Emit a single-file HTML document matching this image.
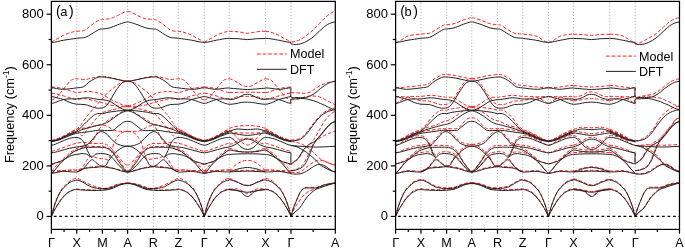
<!DOCTYPE html><html><head><meta charset="utf-8"><style>html,body{margin:0;padding:0;background:#fff;}svg{display:block;}text{font-family:"Liberation Sans",sans-serif;}svg{will-change:transform;}</style></head><body>
<svg width="685" height="248" viewBox="0 0 685 248">
<rect width="685" height="248" fill="#fff"/>
<line x1="76.75" y1="2.40" x2="76.75" y2="228.90" stroke="#b4b4b4" stroke-width="1" stroke-dasharray="1.2 1.9"/>
<line x1="102.40" y1="2.40" x2="102.40" y2="228.90" stroke="#b4b4b4" stroke-width="1" stroke-dasharray="1.2 1.9"/>
<line x1="127.60" y1="2.40" x2="127.60" y2="228.90" stroke="#b4b4b4" stroke-width="1" stroke-dasharray="1.2 1.9"/>
<line x1="153.30" y1="2.40" x2="153.30" y2="228.90" stroke="#b4b4b4" stroke-width="1" stroke-dasharray="1.2 1.9"/>
<line x1="178.40" y1="2.40" x2="178.40" y2="228.90" stroke="#b4b4b4" stroke-width="1" stroke-dasharray="1.2 1.9"/>
<line x1="204.30" y1="2.40" x2="204.30" y2="228.90" stroke="#b4b4b4" stroke-width="1" stroke-dasharray="1.2 1.9"/>
<line x1="229.30" y1="2.40" x2="229.30" y2="228.90" stroke="#b4b4b4" stroke-width="1" stroke-dasharray="1.2 1.9"/>
<line x1="265.50" y1="2.40" x2="265.50" y2="228.90" stroke="#b4b4b4" stroke-width="1" stroke-dasharray="1.2 1.9"/>
<line x1="291.00" y1="2.40" x2="291.00" y2="228.90" stroke="#b4b4b4" stroke-width="1" stroke-dasharray="1.2 1.9"/>
<g fill="none" stroke-linejoin="round">
<path d="M51.40 42.00 C52.60 42.00 53.70 40.68 55.00 40.00 C56.30 39.32 57.78 38.68 59.20 37.90 C60.62 37.12 61.97 36.07 63.50 35.30 C65.03 34.53 66.90 33.85 68.40 33.30 C69.90 32.75 71.11 32.33 72.50 32.00 C73.89 31.67 74.88 31.52 76.75 31.30 C78.62 31.08 82.03 31.12 83.70 30.70 C85.38 30.28 85.78 29.52 86.80 28.80 C87.82 28.08 88.52 27.37 89.80 26.40 C91.08 25.43 92.97 24.03 94.50 23.00 C96.03 21.97 97.68 20.78 99.00 20.20 C100.32 19.62 100.60 19.75 102.40 19.50 C104.20 19.25 107.95 19.03 109.80 18.70 C111.65 18.37 112.23 18.00 113.50 17.50 C114.77 17.00 116.10 16.35 117.40 15.70 C118.70 15.05 120.02 14.25 121.30 13.60 C122.58 12.95 124.05 12.17 125.10 11.80 C126.15 11.43 126.77 11.40 127.60 11.40" stroke="#ff2020" stroke-width="1.0" stroke-dasharray="3.5 2.0"/>
<path d="M127.60 11.40 C128.45 11.40 129.08 11.43 130.15 11.80 C131.22 12.17 132.72 12.95 134.03 13.60 C135.33 14.25 136.68 15.05 138.00 15.70 C139.33 16.35 140.69 17.00 141.98 17.50 C143.27 18.00 143.87 18.37 145.75 18.70 C147.64 19.03 151.49 19.25 153.30 19.50 C155.11 19.75 155.34 19.62 156.63 20.20 C157.92 20.78 159.53 21.97 161.03 23.00 C162.53 24.03 164.37 25.43 165.63 26.40 C166.89 27.37 167.57 28.08 168.57 28.80 C169.56 29.52 169.96 30.28 171.60 30.70 C173.24 31.12 176.54 31.08 178.40 31.30 C180.26 31.52 181.32 31.67 182.74 32.00 C184.16 32.33 185.40 32.75 186.93 33.30 C188.46 33.85 190.37 34.53 191.94 35.30 C193.50 36.07 194.88 37.12 196.33 37.90 C197.78 38.68 199.29 39.32 200.62 40.00 C201.95 40.68 203.07 42.00 204.30 42.00" stroke="#ff2020" stroke-width="1.0" stroke-dasharray="3.5 2.0"/>
<path d="M204.30 42.00 C205.48 42.00 206.57 40.68 207.85 40.00 C209.13 39.32 210.60 38.68 211.99 37.90 C213.39 37.12 214.72 36.07 216.23 35.30 C217.75 34.53 219.59 33.85 221.07 33.30 C222.54 32.75 223.74 32.33 225.11 32.00 C226.48 31.67 227.90 31.30 229.30 31.30" stroke="#ff2020" stroke-width="1.0" stroke-dasharray="3.5 2.0"/>
<path d="M265.50 31.30 C266.93 31.30 268.38 31.67 269.78 32.00 C271.18 32.33 272.39 32.75 273.90 33.30 C275.41 33.85 277.29 34.53 278.83 35.30 C280.37 36.07 281.73 37.12 283.15 37.90 C284.58 38.68 286.07 39.32 287.38 40.00 C288.69 40.68 289.79 42.00 291.00 42.00" stroke="#ff2020" stroke-width="1.0" stroke-dasharray="3.5 2.0"/>
<path d="M51.40 100.00 C52.27 100.00 53.10 99.45 54.00 99.00 C54.90 98.55 55.80 98.22 56.80 97.30 C57.80 96.38 58.62 95.22 60.00 93.50 C61.38 91.78 63.35 89.12 65.10 87.00 C66.85 84.88 69.10 82.08 70.50 80.80 C71.90 79.52 72.46 79.63 73.50 79.30 C74.54 78.97 74.73 78.77 76.75 78.80 C78.77 78.83 83.21 79.62 85.60 79.50 C87.99 79.38 89.25 78.52 91.10 78.10 C92.95 77.68 94.82 77.32 96.70 77.00 C98.58 76.68 99.98 76.07 102.40 76.20 C104.82 76.33 108.28 77.17 111.20 77.80 C114.12 78.43 117.17 79.40 119.90 80.00 C122.63 80.60 125.03 81.40 127.60 81.40" stroke="#ff2020" stroke-width="1.0" stroke-dasharray="3.5 2.0"/>
<path d="M127.60 81.40 C130.22 81.40 132.67 80.60 135.45 80.00 C138.24 79.40 141.35 78.43 144.33 77.80 C147.30 77.17 150.87 76.33 153.30 76.20 C155.73 76.07 157.03 76.68 158.88 77.00 C160.72 77.32 162.55 77.68 164.36 78.10 C166.17 78.52 167.40 79.38 169.74 79.50 C172.08 79.62 176.40 78.83 178.40 78.80 C180.40 78.77 180.66 78.97 181.72 79.30 C182.78 79.63 183.36 79.52 184.79 80.80 C186.22 82.08 188.51 84.88 190.30 87.00 C192.09 89.12 194.10 91.78 195.51 93.50 C196.93 95.22 197.76 96.38 198.78 97.30 C199.80 98.22 200.72 98.55 201.64 99.00 C202.56 99.45 203.41 100.00 204.30 100.00" stroke="#ff2020" stroke-width="1.0" stroke-dasharray="3.5 2.0"/>
<path d="M204.30 100.00 C205.15 100.00 205.98 99.45 206.86 99.00 C207.75 98.55 208.64 98.22 209.63 97.30 C210.61 96.38 211.42 95.22 212.78 93.50 C214.15 91.78 216.09 89.12 217.81 87.00 C219.54 84.88 221.76 82.08 223.14 80.80 C224.52 79.52 225.07 79.63 226.09 79.30 C227.12 78.97 228.23 78.80 229.30 78.80" stroke="#ff2020" stroke-width="1.0" stroke-dasharray="3.5 2.0"/>
<path d="M265.50 78.80 C266.59 78.80 267.72 78.97 268.77 79.30 C269.82 79.63 270.38 79.52 271.79 80.80 C273.20 82.08 275.46 84.88 277.22 87.00 C278.98 89.12 280.96 91.78 282.35 93.50 C283.74 95.22 284.56 96.38 285.57 97.30 C286.57 98.22 287.48 98.55 288.38 99.00 C289.29 99.45 290.13 100.00 291.00 100.00" stroke="#ff2020" stroke-width="1.0" stroke-dasharray="3.5 2.0"/>
<path d="M51.40 87.00 C53.67 87.00 56.15 87.43 58.20 87.70 C60.25 87.97 61.65 88.05 63.70 88.60 C65.75 89.15 68.33 90.35 70.50 91.00 C72.67 91.65 74.83 92.33 76.75 92.50 C78.67 92.67 80.06 92.17 82.00 92.00 C83.94 91.83 86.20 91.45 88.40 91.50 C90.60 91.55 92.87 91.80 95.20 92.30 C97.53 92.80 99.97 93.40 102.40 94.50 C104.83 95.60 107.37 97.57 109.80 98.90 C112.23 100.23 114.97 101.55 117.00 102.50 C119.03 103.45 120.23 104.08 122.00 104.60 C123.77 105.12 125.73 105.60 127.60 105.60" stroke="#ff2020" stroke-width="1.0" stroke-dasharray="3.5 2.0"/>
<path d="M127.60 105.60 C129.50 105.60 131.51 105.12 133.31 104.60 C135.11 104.08 136.34 103.45 138.41 102.50 C140.48 101.55 143.27 100.23 145.75 98.90 C148.23 97.57 150.87 95.60 153.30 94.50 C155.73 93.40 158.06 92.80 160.35 92.30 C162.63 91.80 164.85 91.55 167.00 91.50 C169.15 91.45 171.36 91.83 173.26 92.00 C175.16 92.17 176.48 92.67 178.40 92.50 C180.32 92.33 182.56 91.65 184.79 91.00 C187.01 90.35 189.64 89.15 191.73 88.60 C193.83 88.05 195.26 87.97 197.35 87.70 C199.45 87.43 201.98 87.00 204.30 87.00" stroke="#ff2020" stroke-width="1.0" stroke-dasharray="3.5 2.0"/>
<path d="M204.30 87.00 C206.54 87.00 208.98 87.43 211.01 87.70 C213.03 87.97 214.41 88.05 216.43 88.60 C218.45 89.15 220.99 90.35 223.14 91.00 C225.28 91.65 227.25 92.50 229.30 92.50" stroke="#ff2020" stroke-width="1.0" stroke-dasharray="3.5 2.0"/>
<path d="M265.50 92.50 C267.60 92.50 269.60 91.65 271.79 91.00 C273.97 90.35 276.57 89.15 278.63 88.60 C280.69 88.05 282.10 87.97 284.16 87.70 C286.22 87.43 288.72 87.00 291.00 87.00" stroke="#ff2020" stroke-width="1.0" stroke-dasharray="3.5 2.0"/>
<path d="M51.40 93.20 C54.60 93.20 57.82 94.40 61.00 95.20 C64.18 96.00 67.88 97.32 70.50 98.00 C73.12 98.68 74.23 99.18 76.75 99.30 C79.27 99.42 83.21 98.58 85.60 98.70 C87.99 98.82 89.48 99.65 91.10 100.00 C92.72 100.35 93.42 100.33 95.30 100.80 C97.18 101.27 99.98 102.10 102.40 102.80 C104.82 103.50 107.37 104.47 109.80 105.00 C112.23 105.53 114.03 105.73 117.00 106.00 C119.97 106.27 124.07 106.60 127.60 106.60" stroke="#ff2020" stroke-width="1.0" stroke-dasharray="3.5 2.0"/>
<path d="M127.60 106.60 C131.20 106.60 135.38 106.27 138.41 106.00 C141.44 105.73 143.27 105.53 145.75 105.00 C148.23 104.47 150.88 103.50 153.30 102.80 C155.72 102.10 158.40 101.27 160.25 100.80 C162.09 100.33 162.78 100.35 164.36 100.00 C165.94 99.65 167.40 98.82 169.74 98.70 C172.08 98.58 175.89 99.42 178.40 99.30 C180.91 99.18 182.10 98.68 184.79 98.00 C187.47 97.32 191.24 96.00 194.49 95.20 C197.74 94.40 201.03 93.20 204.30 93.20" stroke="#ff2020" stroke-width="1.0" stroke-dasharray="3.5 2.0"/>
<path d="M204.30 93.20 C207.46 93.20 210.63 94.40 213.77 95.20 C216.91 96.00 220.55 97.32 223.14 98.00 C225.73 98.68 227.25 99.30 229.30 99.30" stroke="#ff2020" stroke-width="1.0" stroke-dasharray="3.5 2.0"/>
<path d="M265.50 99.30 C267.60 99.30 269.15 98.68 271.79 98.00 C274.43 97.32 278.14 96.00 281.34 95.20 C284.55 94.40 287.78 93.20 291.00 93.20" stroke="#ff2020" stroke-width="1.0" stroke-dasharray="3.5 2.0"/>
<path d="M51.40 140.40 C52.93 140.40 54.75 139.37 56.00 139.00 C57.25 138.63 57.65 138.70 58.90 138.20 C60.15 137.70 62.02 136.73 63.50 136.00 C64.98 135.27 66.38 134.55 67.80 133.80 C69.22 133.05 70.51 132.28 72.00 131.50 C73.49 130.72 75.50 129.93 76.75 129.10 C78.00 128.27 78.67 127.38 79.50 126.50 C80.33 125.62 80.62 125.30 81.70 123.80 C82.78 122.30 84.60 119.38 86.00 117.50 C87.40 115.62 88.70 114.13 90.10 112.50 C91.50 110.87 93.08 109.20 94.40 107.70 C95.72 106.20 96.65 105.03 98.00 103.50 C99.35 101.97 101.17 100.00 102.50 98.50 C103.83 97.00 104.78 95.77 106.00 94.50 C107.22 93.23 108.55 91.98 109.80 90.90 C111.05 89.82 112.30 88.97 113.50 88.00 C114.70 87.03 115.92 85.88 117.00 85.10 C118.08 84.32 119.03 83.78 120.00 83.30 C120.97 82.82 121.53 82.52 122.80 82.20 C124.07 81.88 126.00 81.40 127.60 81.40" stroke="#ff2020" stroke-width="1.0" stroke-dasharray="3.5 2.0"/>
<path d="M127.60 81.40 C129.23 81.40 131.20 81.88 132.50 82.20 C133.79 82.52 134.36 82.82 135.35 83.30 C136.34 83.78 137.31 84.32 138.41 85.10 C139.52 85.88 140.76 87.03 141.98 88.00 C143.20 88.97 144.48 89.82 145.75 90.90 C147.03 91.98 148.39 93.23 149.63 94.50 C150.87 95.77 151.87 97.00 153.20 98.50 C154.53 100.00 156.28 101.97 157.61 103.50 C158.93 105.03 159.84 106.20 161.13 107.70 C162.42 109.20 163.97 110.87 165.34 112.50 C166.71 114.13 167.98 115.62 169.35 117.50 C170.72 119.38 172.50 122.30 173.56 123.80 C174.62 125.30 174.90 125.62 175.71 126.50 C176.52 127.38 177.14 128.27 178.40 129.10 C179.66 129.93 181.73 130.72 183.25 131.50 C184.78 132.28 186.10 133.05 187.54 133.80 C188.99 134.55 190.42 135.27 191.94 136.00 C193.45 136.73 195.36 137.70 196.64 138.20 C197.91 138.70 198.32 138.63 199.60 139.00 C200.88 139.37 202.73 140.40 204.30 140.40" stroke="#ff2020" stroke-width="1.0" stroke-dasharray="3.5 2.0"/>
<path d="M204.30 140.40 C205.81 140.40 207.60 139.37 208.84 139.00 C210.07 138.63 210.46 138.70 211.70 138.20 C212.93 137.70 214.77 136.73 216.23 136.00 C217.70 135.27 219.08 134.55 220.47 133.80 C221.87 133.05 223.14 132.28 224.62 131.50 C226.09 130.72 227.74 129.10 229.30 129.10" stroke="#ff2020" stroke-width="1.0" stroke-dasharray="3.5 2.0"/>
<path d="M265.50 129.10 C267.09 129.10 268.78 130.72 270.28 131.50 C271.78 132.28 273.08 133.05 274.50 133.80 C275.93 134.55 277.34 135.27 278.83 136.00 C280.32 136.73 282.20 137.70 283.46 138.20 C284.71 138.70 285.12 138.63 286.37 139.00 C287.63 139.37 289.46 140.40 291.00 140.40" stroke="#ff2020" stroke-width="1.0" stroke-dasharray="3.5 2.0"/>
<path d="M51.40 140.50 C53.90 140.50 56.17 139.63 58.90 138.60 C61.63 137.57 65.62 135.35 67.80 134.30 C69.98 133.25 70.51 132.93 72.00 132.30 C73.49 131.67 75.58 130.47 76.75 130.50 C77.92 130.53 78.17 131.62 79.00 132.50 C79.83 133.38 80.78 135.63 81.70 135.80 C82.62 135.97 83.62 134.50 84.50 133.50 C85.38 132.50 85.72 131.47 87.00 129.80 C88.28 128.13 90.45 125.60 92.20 123.50 C93.95 121.40 95.77 119.02 97.50 117.20 C99.23 115.38 101.02 113.58 102.60 112.60 C104.18 111.62 105.43 111.73 107.00 111.30 C108.57 110.87 110.33 110.45 112.00 110.00 C113.67 109.55 115.25 109.08 117.00 108.60 C118.75 108.12 120.73 107.45 122.50 107.10 C124.27 106.75 125.90 106.50 127.60 106.50" stroke="#ff2020" stroke-width="1.0" stroke-dasharray="3.5 2.0"/>
<path d="M127.60 106.50 C129.33 106.50 131.00 106.75 132.80 107.10 C134.60 107.45 136.63 108.12 138.41 108.60 C140.20 109.08 141.81 109.55 143.51 110.00 C145.21 110.45 147.01 110.87 148.61 111.30 C150.21 111.73 151.51 111.62 153.10 112.60 C154.68 113.58 156.40 115.38 158.09 117.20 C159.79 119.02 161.57 121.40 163.28 123.50 C164.99 125.60 167.11 128.13 168.37 129.80 C169.63 131.47 169.95 132.50 170.82 133.50 C171.68 134.50 172.66 135.97 173.56 135.80 C174.45 135.63 175.39 133.38 176.20 132.50 C177.01 131.62 177.22 130.53 178.40 130.50 C179.58 130.47 181.73 131.67 183.25 132.30 C184.78 132.93 185.31 133.25 187.54 134.30 C189.77 135.35 193.84 137.57 196.64 138.60 C199.43 139.63 201.75 140.50 204.30 140.50" stroke="#ff2020" stroke-width="1.0" stroke-dasharray="3.5 2.0"/>
<path d="M204.30 140.50 C206.77 140.50 209.00 139.63 211.70 138.60 C214.39 137.57 218.32 135.35 220.47 134.30 C222.63 133.25 223.14 132.93 224.62 132.30 C226.09 131.67 227.74 130.50 229.30 130.50" stroke="#ff2020" stroke-width="1.0" stroke-dasharray="3.5 2.0"/>
<path d="M265.50 130.50 C267.09 130.50 268.78 131.67 270.28 132.30 C271.78 132.93 272.31 133.25 274.50 134.30 C276.70 135.35 280.71 137.57 283.46 138.60 C286.21 139.63 288.49 140.50 291.00 140.50" stroke="#ff2020" stroke-width="1.0" stroke-dasharray="3.5 2.0"/>
<path d="M51.40 140.60 C53.90 140.60 56.17 139.60 58.90 138.50 C61.63 137.40 65.62 135.17 67.80 134.00 C69.98 132.83 70.51 132.33 72.00 131.50 C73.49 130.67 74.25 129.63 76.75 129.00 C79.25 128.37 83.54 128.27 87.00 127.70 C90.46 127.13 94.93 126.03 97.50 125.60 C100.07 125.17 100.65 124.92 102.40 125.10 C104.15 125.28 106.02 125.82 108.00 126.70 C109.98 127.58 112.20 129.62 114.30 130.40 C116.40 131.18 118.38 131.22 120.60 131.40 C122.82 131.58 125.27 131.50 127.60 131.50" stroke="#ff2020" stroke-width="1.0" stroke-dasharray="3.5 2.0"/>
<path d="M127.60 131.50 C129.98 131.50 132.48 131.58 134.74 131.40 C137.00 131.22 139.02 131.18 141.16 130.40 C143.31 129.62 145.57 127.58 147.59 126.70 C149.61 125.82 151.55 125.28 153.30 125.10 C155.05 124.92 155.58 125.17 158.09 125.60 C160.61 126.03 164.99 127.13 168.37 127.70 C171.75 128.27 175.92 128.37 178.40 129.00 C180.88 129.63 181.73 130.67 183.25 131.50 C184.78 132.33 185.31 132.83 187.54 134.00 C189.77 135.17 193.84 137.40 196.64 138.50 C199.43 139.60 201.75 140.60 204.30 140.60" stroke="#ff2020" stroke-width="1.0" stroke-dasharray="3.5 2.0"/>
<path d="M204.30 140.60 C206.77 140.60 209.00 139.60 211.70 138.50 C214.39 137.40 218.32 135.17 220.47 134.00 C222.63 132.83 223.14 132.33 224.62 131.50 C226.09 130.67 227.74 129.00 229.30 129.00" stroke="#ff2020" stroke-width="1.0" stroke-dasharray="3.5 2.0"/>
<path d="M265.50 129.00 C267.09 129.00 268.78 130.67 270.28 131.50 C271.78 132.33 272.31 132.83 274.50 134.00 C276.70 135.17 280.71 137.40 283.46 138.50 C286.21 139.60 288.49 140.60 291.00 140.60" stroke="#ff2020" stroke-width="1.0" stroke-dasharray="3.5 2.0"/>
<path d="M51.40 164.60 C52.93 164.60 54.15 163.63 56.00 163.00 C57.85 162.37 60.60 161.83 62.50 160.80 C64.40 159.77 65.45 158.35 67.40 156.80 C69.35 155.25 72.27 152.70 74.20 151.50 C76.13 150.30 77.38 150.42 79.00 149.60 C80.62 148.78 82.40 147.53 83.90 146.60 C85.40 145.67 86.65 144.80 88.00 144.00 C89.35 143.20 90.83 142.97 92.00 141.80 C93.17 140.63 94.08 138.63 95.00 137.00 C95.92 135.37 96.67 133.50 97.50 132.00 C98.33 130.50 99.13 129.23 100.00 128.00 C100.87 126.77 101.37 125.87 102.70 124.60 C104.03 123.33 106.25 121.63 108.00 120.40 C109.75 119.17 111.45 118.25 113.20 117.20 C114.95 116.15 116.95 115.05 118.50 114.10 C120.05 113.15 120.98 112.13 122.50 111.50 C124.02 110.87 125.90 110.30 127.60 110.30" stroke="#ff2020" stroke-width="1.0" stroke-dasharray="3.5 2.0"/>
<path d="M127.60 110.30 C129.33 110.30 131.25 110.87 132.80 111.50 C134.35 112.13 135.30 113.15 136.88 114.10 C138.46 115.05 140.50 116.15 142.29 117.20 C144.07 118.25 145.80 119.17 147.59 120.40 C149.37 121.63 151.65 123.33 152.99 124.60 C154.34 125.87 154.80 126.77 155.65 128.00 C156.50 129.23 157.28 130.50 158.09 132.00 C158.91 133.50 159.64 135.37 160.54 137.00 C161.44 138.63 162.34 140.63 163.48 141.80 C164.62 142.97 166.07 143.20 167.39 144.00 C168.71 144.80 169.94 145.67 171.40 146.60 C172.87 147.53 174.60 148.78 176.20 149.60 C177.80 150.42 179.05 150.30 181.01 151.50 C182.96 152.70 185.96 155.25 187.95 156.80 C189.95 158.35 191.02 159.77 192.96 160.80 C194.90 161.83 197.71 162.37 199.60 163.00 C201.49 163.63 202.73 164.60 204.30 164.60" stroke="#ff2020" stroke-width="1.0" stroke-dasharray="3.5 2.0"/>
<path d="M204.30 164.60 C205.81 164.60 207.01 163.63 208.84 163.00 C210.66 162.37 213.37 161.83 215.25 160.80 C217.12 159.77 218.16 158.35 220.08 156.80 C222.00 155.25 225.25 152.55 226.79 151.50 C228.32 150.45 228.46 150.49 229.30 150.49" stroke="#ff2020" stroke-width="1.0" stroke-dasharray="3.5 2.0"/>
<path d="M265.50 150.49 C266.36 150.49 266.50 150.45 268.07 151.50 C269.63 152.55 272.94 155.25 274.91 156.80 C276.87 158.35 277.92 159.77 279.83 160.80 C281.75 161.83 284.51 162.37 286.37 163.00 C288.23 163.63 289.46 164.60 291.00 164.60" stroke="#ff2020" stroke-width="1.0" stroke-dasharray="3.5 2.0"/>
<path d="M51.40 151.10 C54.83 151.10 58.03 149.37 61.70 148.20 C65.37 147.03 69.90 145.08 73.40 144.10 C76.90 143.12 79.77 142.40 82.70 142.30 C85.63 142.20 87.68 143.30 91.00 143.50 C94.32 143.70 99.68 143.12 102.60 143.50 C105.52 143.88 106.55 144.43 108.50 145.80 C110.45 147.17 112.35 149.55 114.30 151.70 C116.25 153.85 118.43 156.68 120.20 158.70 C121.97 160.72 123.67 162.70 124.90 163.80 C126.13 164.90 126.70 165.30 127.60 165.30" stroke="#ff2020" stroke-width="1.0" stroke-dasharray="3.5 2.0"/>
<path d="M127.60 165.30 C128.52 165.30 129.10 164.90 130.35 163.80 C131.61 162.70 133.35 160.72 135.15 158.70 C136.95 156.68 139.18 153.85 141.16 151.70 C143.15 149.55 145.09 147.17 147.08 145.80 C149.07 144.43 150.20 143.88 153.10 143.50 C155.99 143.12 161.21 143.70 164.46 143.50 C167.70 143.30 169.68 142.20 172.58 142.30 C175.47 142.40 178.29 143.12 181.82 144.10 C185.36 145.08 190.03 147.03 193.78 148.20 C197.52 149.37 200.79 151.10 204.30 151.10" stroke="#ff2020" stroke-width="1.0" stroke-dasharray="3.5 2.0"/>
<path d="M204.30 151.10 C207.69 151.10 210.84 149.37 214.46 148.20 C218.07 147.03 223.52 144.89 226.00 144.10 C228.47 143.31 228.20 143.45 229.30 143.45" stroke="#ff2020" stroke-width="1.0" stroke-dasharray="3.5 2.0"/>
<path d="M265.50 143.45 C266.62 143.45 266.35 143.31 268.87 144.10 C271.39 144.89 276.95 147.03 280.64 148.20 C284.33 149.37 287.55 151.10 291.00 151.10" stroke="#ff2020" stroke-width="1.0" stroke-dasharray="3.5 2.0"/>
<path d="M51.40 172.40 C55.10 172.40 59.03 171.30 62.50 170.90 C65.97 170.50 69.83 170.17 72.20 170.00 C74.58 169.83 75.22 170.15 76.75 169.90 C78.28 169.65 80.19 169.32 81.40 168.50 C82.61 167.68 83.13 166.33 84.00 165.00 C84.87 163.67 85.63 161.92 86.60 160.50 C87.57 159.08 88.73 157.17 89.80 156.50 C90.87 155.83 91.97 156.30 93.00 156.50 C94.03 156.70 94.28 157.30 96.00 157.70 C97.72 158.10 101.28 158.60 103.30 158.90 C105.32 159.20 106.90 160.10 108.10 159.50 C109.30 158.90 109.77 157.05 110.50 155.30 C111.23 153.55 111.95 150.97 112.50 149.00 C113.05 147.03 112.90 145.63 113.80 143.50 C114.70 141.37 116.78 137.87 117.90 136.20 C119.02 134.53 119.58 134.18 120.50 133.50 C121.42 132.82 122.22 132.45 123.40 132.10 C124.58 131.75 126.20 131.40 127.60 131.40" stroke="#ff2020" stroke-width="1.0" stroke-dasharray="3.5 2.0"/>
<path d="M127.60 131.40 C129.03 131.40 130.68 131.75 131.88 132.10 C133.09 132.45 133.91 132.82 134.84 133.50 C135.78 134.18 136.35 134.53 137.49 136.20 C138.63 137.87 140.76 141.37 141.67 143.50 C142.59 145.63 142.44 147.03 143.00 149.00 C143.56 150.97 144.29 153.55 145.04 155.30 C145.79 157.05 146.26 158.90 147.49 159.50 C148.71 160.10 150.37 159.20 152.38 158.90 C154.39 158.60 157.88 158.10 159.56 157.70 C161.25 157.30 161.49 156.70 162.50 156.50 C163.51 156.30 164.59 155.83 165.63 156.50 C166.67 157.17 167.82 159.08 168.76 160.50 C169.71 161.92 170.46 163.67 171.31 165.00 C172.15 166.33 172.67 167.68 173.85 168.50 C175.03 169.32 176.87 169.65 178.40 169.90 C179.93 170.15 180.62 169.83 183.05 170.00 C185.48 170.17 189.42 170.50 192.96 170.90 C196.50 171.30 200.52 172.40 204.30 172.40" stroke="#ff2020" stroke-width="1.0" stroke-dasharray="3.5 2.0"/>
<path d="M204.30 172.40 C207.95 172.40 211.83 171.30 215.25 170.90 C218.67 170.50 222.47 170.17 224.81 170.00 C227.16 169.83 227.80 169.90 229.30 169.90" stroke="#ff2020" stroke-width="1.0" stroke-dasharray="3.5 2.0"/>
<path d="M265.50 169.90 C267.03 169.90 267.69 169.83 270.08 170.00 C272.47 170.17 276.35 170.50 279.83 170.90 C283.32 171.30 287.28 172.40 291.00 172.40" stroke="#ff2020" stroke-width="1.0" stroke-dasharray="3.5 2.0"/>
<path d="M51.40 171.40 C52.27 171.40 52.95 169.13 54.00 168.00 C55.05 166.87 56.28 165.97 57.70 164.60 C59.12 163.23 60.88 161.40 62.50 159.80 C64.12 158.20 65.98 156.30 67.40 155.00 C68.82 153.70 69.44 153.08 71.00 152.00 C72.56 150.92 74.92 149.42 76.75 148.50 C78.58 147.58 80.12 146.92 82.00 146.50 C83.88 146.08 85.83 146.00 88.00 146.00 C90.17 146.00 92.60 146.42 95.00 146.50 C97.40 146.58 100.22 146.25 102.40 146.50 C104.58 146.75 106.50 147.25 108.10 148.00 C109.70 148.75 110.68 149.75 112.00 151.00 C113.32 152.25 114.67 153.83 116.00 155.50 C117.33 157.17 118.67 159.00 120.00 161.00 C121.33 163.00 122.73 165.83 124.00 167.50 C125.27 169.17 126.40 171.00 127.60 171.00" stroke="#ff2020" stroke-width="1.0" stroke-dasharray="3.5 2.0"/>
<path d="M127.60 171.00 C128.82 171.00 129.98 169.17 131.27 167.50 C132.56 165.83 133.99 163.00 135.35 161.00 C136.71 159.00 138.07 157.17 139.43 155.50 C140.79 153.83 142.17 152.25 143.51 151.00 C144.85 149.75 145.86 148.75 147.49 148.00 C149.12 147.25 151.12 146.75 153.30 146.50 C155.48 146.25 158.19 146.58 160.54 146.50 C162.89 146.42 165.27 146.00 167.39 146.00 C169.51 146.00 171.43 146.08 173.26 146.50 C175.10 146.92 176.56 147.58 178.40 148.50 C180.24 149.42 182.68 150.92 184.27 152.00 C185.87 153.08 186.51 153.70 187.95 155.00 C189.40 156.30 191.31 158.20 192.96 159.80 C194.61 161.40 196.42 163.23 197.86 164.60 C199.31 165.97 200.57 166.87 201.64 168.00 C202.72 169.13 203.41 171.40 204.30 171.40" stroke="#ff2020" stroke-width="1.0" stroke-dasharray="3.5 2.0"/>
<path d="M204.30 171.40 C205.15 171.40 205.83 169.13 206.86 168.00 C207.90 166.87 209.12 165.97 210.51 164.60 C211.91 163.23 213.65 161.40 215.25 159.80 C216.84 158.20 218.68 156.30 220.08 155.00 C221.48 153.70 222.09 153.08 223.63 152.00 C225.17 150.92 227.41 148.50 229.30 148.50" stroke="#ff2020" stroke-width="1.0" stroke-dasharray="3.5 2.0"/>
<path d="M265.50 148.50 C267.43 148.50 269.72 150.92 271.28 152.00 C272.85 153.08 273.48 153.70 274.91 155.00 C276.33 156.30 278.21 158.20 279.83 159.80 C281.46 161.40 283.24 163.23 284.66 164.60 C286.09 165.97 287.33 166.87 288.38 168.00 C289.44 169.13 290.13 171.40 291.00 171.40" stroke="#ff2020" stroke-width="1.0" stroke-dasharray="3.5 2.0"/>
<path d="M51.40 170.80 C55.10 170.80 59.03 170.63 62.50 170.50 C65.97 170.37 69.83 170.05 72.20 170.00 C74.58 169.95 74.02 170.62 76.75 170.20 C79.48 169.78 84.34 168.20 88.60 167.50 C92.86 166.80 98.07 165.83 102.30 166.00 C106.53 166.17 110.72 167.75 114.00 168.50 C117.28 169.25 119.73 170.03 122.00 170.50 C124.27 170.97 125.73 171.30 127.60 171.30" stroke="#ff2020" stroke-width="1.0" stroke-dasharray="3.5 2.0"/>
<path d="M127.60 171.30 C129.50 171.30 131.00 170.97 133.31 170.50 C135.62 170.03 138.12 169.25 141.47 168.50 C144.82 167.75 149.18 166.17 153.40 166.00 C157.62 165.83 162.64 166.80 166.80 167.50 C170.97 168.20 175.69 169.78 178.40 170.20 C181.11 170.62 180.62 169.95 183.05 170.00 C185.48 170.05 189.42 170.37 192.96 170.50 C196.50 170.63 200.52 170.80 204.30 170.80" stroke="#ff2020" stroke-width="1.0" stroke-dasharray="3.5 2.0"/>
<path d="M204.30 170.80 C207.95 170.80 211.83 170.63 215.25 170.50 C218.67 170.37 222.47 170.05 224.81 170.00 C227.16 169.95 227.80 170.20 229.30 170.20" stroke="#ff2020" stroke-width="1.0" stroke-dasharray="3.5 2.0"/>
<path d="M265.50 170.20 C267.03 170.20 267.69 169.95 270.08 170.00 C272.47 170.05 276.35 170.37 279.83 170.50 C283.32 170.63 287.28 170.80 291.00 170.80" stroke="#ff2020" stroke-width="1.0" stroke-dasharray="3.5 2.0"/>
<path d="M51.40 216.40 C52.27 212.93 53.07 209.07 54.00 206.00 C54.93 202.93 55.72 200.83 57.00 198.00 C58.28 195.17 60.33 191.08 61.70 189.00 C63.07 186.92 63.82 186.83 65.20 185.50 C66.58 184.17 68.08 182.18 70.00 181.00 C71.92 179.82 74.23 178.18 76.75 178.40 C79.27 178.62 81.76 180.85 85.10 182.30 C88.44 183.75 93.30 186.10 96.80 187.10 C100.30 188.10 102.98 188.68 106.10 188.30 C109.22 187.92 112.85 185.60 115.50 184.80 C118.15 184.00 119.98 183.83 122.00 183.50 C124.02 183.17 125.73 182.80 127.60 182.80" stroke="#ff2020" stroke-width="1.0" stroke-dasharray="3.5 2.0"/>
<path d="M127.60 182.80 C129.50 182.80 131.25 183.17 133.31 183.50 C135.37 183.83 137.24 184.00 139.94 184.80 C142.64 185.60 146.39 187.92 149.53 188.30 C152.67 188.68 155.33 188.10 158.78 187.10 C162.23 186.10 166.96 183.75 170.23 182.30 C173.50 180.85 175.89 178.62 178.40 178.40 C180.91 178.18 183.33 179.82 185.30 181.00 C187.26 182.18 188.79 184.17 190.20 185.50 C191.61 186.83 192.38 186.92 193.78 189.00 C195.17 191.08 197.27 195.17 198.58 198.00 C199.89 200.83 200.69 202.93 201.64 206.00 C202.60 209.07 203.41 212.93 204.30 216.40" stroke="#ff2020" stroke-width="1.0" stroke-dasharray="3.5 2.0"/>
<path d="M204.30 216.40 C205.15 212.93 205.94 209.07 206.86 206.00 C207.78 202.93 208.56 200.83 209.82 198.00 C211.09 195.17 213.11 191.08 214.46 189.00 C215.81 186.92 216.55 186.83 217.91 185.50 C219.27 184.17 220.74 182.18 222.64 181.00 C224.54 179.82 227.08 178.40 229.30 178.40" stroke="#ff2020" stroke-width="1.0" stroke-dasharray="3.5 2.0"/>
<path d="M265.50 178.40 C267.76 178.40 270.35 179.82 272.29 181.00 C274.23 182.18 275.73 184.17 277.12 185.50 C278.51 186.83 279.26 186.92 280.64 189.00 C282.01 191.08 284.08 195.17 285.37 198.00 C286.66 200.83 287.45 202.93 288.38 206.00 C289.32 209.07 290.13 212.93 291.00 216.40" stroke="#ff2020" stroke-width="1.0" stroke-dasharray="3.5 2.0"/>
<path d="M51.40 216.40 C52.27 214.43 53.07 212.33 54.00 210.50 C54.93 208.67 55.72 207.42 57.00 205.40 C58.28 203.38 59.95 200.55 61.70 198.40 C63.45 196.25 65.55 193.97 67.50 192.50 C69.45 191.03 71.86 190.18 73.40 189.60 C74.94 189.02 74.80 188.98 76.75 189.00 C78.70 189.02 81.76 189.53 85.10 189.70 C88.44 189.87 93.92 190.00 96.80 190.00 C99.68 190.00 100.25 189.90 102.40 189.70 C104.55 189.50 107.35 189.42 109.70 188.80 C112.05 188.18 114.45 186.80 116.50 186.00 C118.55 185.20 120.15 184.47 122.00 184.00 C123.85 183.53 125.73 183.20 127.60 183.20" stroke="#ff2020" stroke-width="1.0" stroke-dasharray="3.5 2.0"/>
<path d="M127.60 183.20 C129.50 183.20 131.42 183.53 133.31 184.00 C135.20 184.47 136.83 185.20 138.92 186.00 C141.01 186.80 143.46 188.18 145.86 188.80 C148.25 189.42 151.15 189.50 153.30 189.70 C155.45 189.90 155.96 190.00 158.78 190.00 C161.60 190.00 166.96 189.87 170.23 189.70 C173.50 189.53 176.47 189.02 178.40 189.00 C180.33 188.98 180.25 189.02 181.82 189.60 C183.40 190.18 185.86 191.03 187.85 192.50 C189.84 193.97 191.99 196.25 193.78 198.40 C195.56 200.55 197.27 203.38 198.58 205.40 C199.89 207.42 200.69 208.67 201.64 210.50 C202.60 212.33 203.41 214.43 204.30 216.40" stroke="#ff2020" stroke-width="1.0" stroke-dasharray="3.5 2.0"/>
<path d="M204.30 216.40 C205.15 214.43 205.94 212.33 206.86 210.50 C207.78 208.67 208.56 207.42 209.82 205.40 C211.09 203.38 212.73 200.55 214.46 198.40 C216.18 196.25 218.25 193.97 220.18 192.50 C222.10 191.03 224.48 190.18 226.00 189.60 C227.52 189.02 228.20 189.00 229.30 189.00" stroke="#ff2020" stroke-width="1.0" stroke-dasharray="3.5 2.0"/>
<path d="M265.50 189.00 C266.62 189.00 267.32 189.02 268.87 189.60 C270.42 190.18 272.84 191.03 274.80 192.50 C276.77 193.97 278.88 196.25 280.64 198.40 C282.40 200.55 284.08 203.38 285.37 205.40 C286.66 207.42 287.45 208.67 288.38 210.50 C289.32 212.33 290.13 214.43 291.00 216.40" stroke="#ff2020" stroke-width="1.0" stroke-dasharray="3.5 2.0"/>
<path d="M229.30 31.30 C232.30 31.30 235.28 31.47 238.30 31.80 C241.32 32.13 244.33 33.30 247.40 33.30 C250.47 33.30 253.68 32.13 256.70 31.80 C259.72 31.47 262.57 31.30 265.50 31.30" stroke="#ff2020" stroke-width="1.0" stroke-dasharray="3.5 2.0"/>
<path d="M229.30 78.80 C230.87 78.80 232.45 79.75 234.00 80.50 C235.55 81.25 237.10 82.42 238.60 83.30 C240.10 84.18 241.53 85.27 243.00 85.80 C244.47 86.33 245.90 86.50 247.40 86.50 C248.90 86.50 250.57 86.33 252.00 85.80 C253.43 85.27 254.50 84.18 256.00 83.30 C257.50 82.42 259.42 81.25 261.00 80.50 C262.58 79.75 264.00 78.80 265.50 78.80" stroke="#ff2020" stroke-width="1.0" stroke-dasharray="3.5 2.0"/>
<path d="M229.30 92.50 C235.33 92.50 241.37 92.20 247.40 92.20 C253.43 92.20 259.47 92.50 265.50 92.50" stroke="#ff2020" stroke-width="1.0" stroke-dasharray="3.5 2.0"/>
<path d="M229.30 99.30 C231.70 99.30 233.48 97.48 236.50 97.00 C239.52 96.52 243.82 96.40 247.40 96.40 C250.98 96.40 254.98 96.52 258.00 97.00 C261.02 97.48 263.00 99.30 265.50 99.30" stroke="#ff2020" stroke-width="1.0" stroke-dasharray="3.5 2.0"/>
<path d="M229.30 128.20 C231.10 128.20 232.75 127.00 234.70 126.60 C236.65 126.20 238.88 125.97 241.00 125.80 C243.12 125.63 245.23 125.60 247.40 125.60 C249.57 125.60 251.87 125.63 254.00 125.80 C256.13 125.97 258.28 126.20 260.20 126.60 C262.12 127.00 263.73 128.20 265.50 128.20" stroke="#ff2020" stroke-width="1.0" stroke-dasharray="3.5 2.0"/>
<path d="M229.30 130.50 C231.10 130.50 231.68 132.18 234.70 132.60 C237.72 133.02 243.15 133.00 247.40 133.00 C251.65 133.00 257.18 133.02 260.20 132.60 C263.22 132.18 263.73 130.50 265.50 130.50" stroke="#ff2020" stroke-width="1.0" stroke-dasharray="3.5 2.0"/>
<path d="M229.30 131.00 C230.53 131.00 231.72 132.42 233.00 133.50 C234.28 134.58 235.50 136.00 237.00 137.50 C238.50 139.00 240.27 141.25 242.00 142.50 C243.73 143.75 245.57 145.00 247.40 145.00 C249.23 145.00 251.32 143.75 253.00 142.50 C254.68 141.25 256.08 139.00 257.50 137.50 C258.92 136.00 260.17 134.58 261.50 133.50 C262.83 132.42 264.17 131.00 265.50 131.00" stroke="#ff2020" stroke-width="1.0" stroke-dasharray="3.5 2.0"/>
<path d="M229.30 144.10 C230.53 144.10 231.55 144.02 233.00 143.50 C234.45 142.98 236.50 141.75 238.00 141.00 C239.50 140.25 240.43 139.45 242.00 139.00 C243.57 138.55 245.57 138.30 247.40 138.30 C249.23 138.30 251.40 138.55 253.00 139.00 C254.60 139.45 255.50 140.25 257.00 141.00 C258.50 141.75 260.58 142.98 262.00 143.50 C263.42 144.02 264.33 144.10 265.50 144.10" stroke="#ff2020" stroke-width="1.0" stroke-dasharray="3.5 2.0"/>
<path d="M229.30 148.50 C232.87 148.50 236.98 150.87 240.00 151.50 C243.02 152.13 244.90 152.30 247.40 152.30 C249.90 152.30 251.98 152.13 255.00 151.50 C258.02 150.87 262.00 148.50 265.50 148.50" stroke="#ff2020" stroke-width="1.0" stroke-dasharray="3.5 2.0"/>
<path d="M229.30 170.00 C229.97 170.00 230.43 169.97 231.30 169.30 C232.17 168.63 233.32 167.03 234.50 166.00 C235.68 164.97 236.98 163.93 238.40 163.10 C239.82 162.27 241.50 161.45 243.00 161.00 C244.50 160.55 245.90 160.40 247.40 160.40 C248.90 160.40 250.48 160.55 252.00 161.00 C253.52 161.45 255.08 162.27 256.50 163.10 C257.92 163.93 259.25 164.97 260.50 166.00 C261.75 167.03 263.17 168.63 264.00 169.30 C264.83 169.97 265.00 170.00 265.50 170.00" stroke="#ff2020" stroke-width="1.0" stroke-dasharray="3.5 2.0"/>
<path d="M229.30 170.20 C232.20 170.20 234.98 170.27 238.00 170.30 C241.02 170.33 244.23 170.40 247.40 170.40 C250.57 170.40 253.98 170.33 257.00 170.30 C260.02 170.27 262.67 170.20 265.50 170.20" stroke="#ff2020" stroke-width="1.0" stroke-dasharray="3.5 2.0"/>
<path d="M229.30 178.60 C230.53 178.60 231.48 179.17 233.00 179.80 C234.52 180.43 236.73 181.62 238.40 182.40 C240.07 183.18 241.50 184.03 243.00 184.50 C244.50 184.97 245.90 185.20 247.40 185.20 C248.90 185.20 250.48 184.97 252.00 184.50 C253.52 184.03 254.83 183.18 256.50 182.40 C258.17 181.62 260.50 180.43 262.00 179.80 C263.50 179.17 264.33 178.60 265.50 178.60" stroke="#ff2020" stroke-width="1.0" stroke-dasharray="3.5 2.0"/>
<path d="M229.30 189.00 C231.73 189.00 234.82 188.72 236.60 188.80 C238.38 188.88 238.93 189.05 240.00 189.50 C241.07 189.95 241.77 190.83 243.00 191.50 C244.23 192.17 245.93 193.50 247.40 193.50 C248.87 193.50 250.53 192.17 251.80 191.50 C253.07 190.83 253.88 189.95 255.00 189.50 C256.12 189.05 256.75 188.88 258.50 188.80 C260.25 188.72 263.17 189.00 265.50 189.00" stroke="#ff2020" stroke-width="1.0" stroke-dasharray="3.5 2.0"/>
<path d="M291.30 42.00 C293.10 42.00 295.17 41.42 296.70 41.00 C298.23 40.58 299.23 40.15 300.50 39.50 C301.77 38.85 303.05 37.97 304.30 37.10 C305.55 36.23 306.72 35.32 308.00 34.30 C309.28 33.28 310.70 32.22 312.00 31.00 C313.30 29.78 314.53 28.28 315.80 27.00 C317.07 25.72 318.32 24.58 319.60 23.30 C320.88 22.02 322.22 20.57 323.50 19.30 C324.78 18.03 326.13 16.68 327.30 15.70 C328.47 14.72 329.48 14.05 330.50 13.40 C331.52 12.75 332.60 12.20 333.40 11.80 C334.20 11.40 334.67 11.00 335.30 11.00" stroke="#ff2020" stroke-width="1.0" stroke-dasharray="3.5 2.0"/>
<path d="M291.00 92.70 C293.00 92.70 294.82 92.70 297.00 92.80 C299.18 92.90 301.90 93.42 304.10 93.30 C306.30 93.18 308.72 92.60 310.20 92.10 C311.68 91.60 312.00 91.00 313.00 90.30 C314.00 89.60 314.95 88.70 316.20 87.90 C317.45 87.10 319.08 86.20 320.50 85.50 C321.92 84.80 323.20 84.23 324.70 83.70 C326.20 83.17 327.73 82.70 329.50 82.30 C331.27 81.90 333.37 81.30 335.30 81.30" stroke="#ff2020" stroke-width="1.0" stroke-dasharray="3.5 2.0"/>
<path d="M291.00 100.00 C294.00 100.00 297.67 99.00 300.00 98.50 C302.33 98.00 303.30 97.42 305.00 97.00 C306.70 96.58 308.13 96.10 310.20 96.00 C312.27 95.90 315.43 96.07 317.40 96.40 C319.37 96.73 320.58 97.40 322.00 98.00 C323.42 98.60 324.65 99.37 325.90 100.00 C327.15 100.63 328.28 101.18 329.50 101.80 C330.72 102.42 332.23 103.17 333.20 103.70 C334.17 104.23 334.60 105.00 335.30 105.00" stroke="#ff2020" stroke-width="1.0" stroke-dasharray="3.5 2.0"/>
<path d="M291.00 140.00 C293.33 140.00 296.33 139.63 298.00 139.30 C299.67 138.97 300.00 138.63 301.00 138.00 C302.00 137.37 302.92 136.62 304.00 135.50 C305.08 134.38 306.33 132.80 307.50 131.30 C308.67 129.80 309.82 128.08 311.00 126.50 C312.18 124.92 313.43 123.25 314.60 121.80 C315.77 120.35 316.87 119.05 318.00 117.80 C319.13 116.55 320.23 115.30 321.40 114.30 C322.57 113.30 323.85 112.48 325.00 111.80 C326.15 111.12 327.13 110.70 328.30 110.20 C329.47 109.70 330.83 109.17 332.00 108.80 C333.17 108.43 334.20 108.00 335.30 108.00" stroke="#ff2020" stroke-width="1.0" stroke-dasharray="3.5 2.0"/>
<path d="M291.00 141.60 C292.57 141.60 294.20 141.78 295.70 142.10 C297.20 142.42 298.60 142.98 300.00 143.50 C301.40 144.02 302.40 144.22 304.10 145.20 C305.80 146.18 308.38 147.93 310.20 149.40 C312.02 150.87 313.80 152.85 315.00 154.00 C316.20 155.15 316.28 155.33 317.40 156.30 C318.52 157.27 320.27 158.88 321.70 159.80 C323.13 160.72 324.62 161.18 326.00 161.80 C327.38 162.42 328.45 162.97 330.00 163.50 C331.55 164.03 333.53 165.00 335.30 165.00" stroke="#ff2020" stroke-width="1.0" stroke-dasharray="3.5 2.0"/>
<path d="M291.00 164.50 C292.17 164.50 293.30 162.90 294.50 162.00 C295.70 161.10 297.12 160.27 298.20 159.10 C299.28 157.93 300.08 156.38 301.00 155.00 C301.92 153.62 302.57 152.33 303.70 150.80 C304.83 149.27 306.67 147.05 307.80 145.80 C308.93 144.55 309.60 144.18 310.50 143.30 C311.40 142.42 312.28 141.72 313.20 140.50 C314.12 139.28 315.08 137.53 316.00 136.00 C316.92 134.47 317.78 132.92 318.70 131.30 C319.62 129.68 320.58 127.90 321.50 126.30 C322.42 124.70 323.28 123.08 324.20 121.70 C325.12 120.32 326.08 119.13 327.00 118.00 C327.92 116.87 328.87 115.73 329.70 114.90 C330.53 114.07 331.07 113.57 332.00 113.00 C332.93 112.43 334.20 111.50 335.30 111.50" stroke="#ff2020" stroke-width="1.0" stroke-dasharray="3.5 2.0"/>
<path d="M291.00 170.50 C292.33 170.50 293.67 170.22 295.00 169.80 C296.33 169.38 297.67 168.88 299.00 168.00 C300.33 167.12 301.77 166.08 303.00 164.50 C304.23 162.92 305.48 160.25 306.40 158.50 C307.32 156.75 307.82 155.50 308.50 154.00 C309.18 152.50 309.82 151.00 310.50 149.50 C311.18 148.00 311.85 146.33 312.60 145.00 C313.35 143.67 314.02 142.50 315.00 141.50 C315.98 140.50 317.28 139.83 318.50 139.00 C319.72 138.17 320.55 137.42 322.30 136.50 C324.05 135.58 326.83 134.37 329.00 133.50 C331.17 132.63 333.20 131.30 335.30 131.30" stroke="#ff2020" stroke-width="1.0" stroke-dasharray="3.5 2.0"/>
<path d="M291.00 172.20 C293.33 172.20 296.17 172.70 298.00 172.50 C299.83 172.30 300.83 171.67 302.00 171.00 C303.17 170.33 303.92 169.42 305.00 168.50 C306.08 167.58 307.35 166.38 308.50 165.50 C309.65 164.62 310.42 164.05 311.90 163.20 C313.38 162.35 315.72 160.85 317.40 160.40 C319.08 159.95 320.57 160.27 322.00 160.50 C323.43 160.73 324.67 161.30 326.00 161.80 C327.33 162.30 328.45 162.97 330.00 163.50 C331.55 164.03 333.53 165.00 335.30 165.00" stroke="#ff2020" stroke-width="1.0" stroke-dasharray="3.5 2.0"/>
<path d="M291.00 216.45 C291.83 213.47 292.63 210.11 293.50 207.50 C294.37 204.89 295.18 203.22 296.20 200.80 C297.22 198.38 298.63 194.88 299.60 193.00 C300.57 191.12 301.17 190.40 302.00 189.50 C302.83 188.60 303.32 187.97 304.60 187.60 C305.88 187.23 307.72 187.35 309.70 187.30 C311.68 187.25 314.23 187.68 316.50 187.30 C318.77 186.92 321.22 185.58 323.30 185.00 C325.38 184.42 327.00 184.13 329.00 183.80 C331.00 183.47 333.20 183.00 335.30 183.00" stroke="#ff2020" stroke-width="1.0" stroke-dasharray="3.5 2.0"/>
<path d="M291.00 216.45 C292.00 213.97 292.85 211.22 294.00 209.00 C295.15 206.78 296.73 204.85 297.90 203.10 C299.07 201.35 299.88 199.92 301.00 198.50 C302.12 197.08 303.35 195.77 304.60 194.60 C305.85 193.43 307.08 192.33 308.50 191.50 C309.92 190.67 311.52 190.15 313.10 189.60 C314.68 189.05 316.35 188.77 318.00 188.20 C319.65 187.63 321.17 186.85 323.00 186.20 C324.83 185.55 326.95 184.80 329.00 184.30 C331.05 183.80 333.20 183.20 335.30 183.20" stroke="#ff2020" stroke-width="1.0" stroke-dasharray="3.5 2.0"/>
<path d="M51.40 42.40 C55.53 42.40 59.57 40.88 63.80 40.20 C68.02 39.52 73.18 38.77 76.75 38.30 C80.32 37.83 82.76 38.10 85.20 37.40 C87.64 36.70 89.10 35.42 91.40 34.10 C93.70 32.78 97.17 30.35 99.00 29.50 C100.83 28.65 100.60 29.27 102.40 29.00 C104.20 28.73 107.30 28.58 109.80 27.90 C112.30 27.22 114.85 25.83 117.40 24.90 C119.95 23.97 123.40 22.78 125.10 22.30 C126.80 21.82 126.77 22.00 127.60 22.00" stroke="#222" stroke-width="1.0"/>
<path d="M127.60 22.00 C128.45 22.00 128.42 21.82 130.15 22.30 C131.88 22.78 135.40 23.97 138.00 24.90 C140.60 25.83 143.20 27.22 145.75 27.90 C148.30 28.58 151.49 28.73 153.30 29.00 C155.11 29.27 154.83 28.65 156.63 29.50 C158.42 30.35 161.81 32.78 164.06 34.10 C166.31 35.42 167.74 36.70 170.13 37.40 C172.52 38.10 174.82 37.83 178.40 38.30 C181.98 38.77 187.31 39.52 191.63 40.20 C195.95 40.88 200.08 42.40 204.30 42.40" stroke="#222" stroke-width="1.0"/>
<path d="M204.30 42.40 C208.38 42.40 212.36 40.88 216.53 40.20 C220.70 39.52 225.04 38.30 229.30 38.30" stroke="#222" stroke-width="1.0"/>
<path d="M265.50 38.30 C269.84 38.30 274.28 39.52 278.53 40.20 C282.78 40.88 286.84 42.40 291.00 42.40" stroke="#222" stroke-width="1.0"/>
<path d="M51.40 87.80 C55.03 87.80 58.07 89.28 62.30 89.30 C66.52 89.32 73.18 88.35 76.75 87.90 C80.32 87.45 81.53 87.65 83.70 86.60 C85.88 85.55 87.50 83.12 89.80 81.60 C92.10 80.08 95.40 78.27 97.50 77.50 C99.60 76.73 100.10 76.90 102.40 77.00 C104.70 77.10 108.28 77.58 111.30 78.10 C114.32 78.62 117.78 79.58 120.50 80.10 C123.22 80.62 125.23 81.20 127.60 81.20" stroke="#222" stroke-width="1.0"/>
<path d="M127.60 81.20 C130.01 81.20 132.07 80.62 134.84 80.10 C137.61 79.58 141.15 78.62 144.22 78.10 C147.30 77.58 150.99 77.10 153.30 77.00 C155.61 76.90 156.04 76.73 158.09 77.50 C160.15 78.27 163.38 80.08 165.63 81.60 C167.88 83.12 169.47 85.55 171.60 86.60 C173.73 87.65 174.81 87.45 178.40 87.90 C181.99 88.35 188.85 89.32 193.16 89.30 C197.48 89.28 200.59 87.80 204.30 87.80" stroke="#222" stroke-width="1.0"/>
<path d="M204.30 87.80 C207.88 87.80 210.88 89.28 215.05 89.30 C219.22 89.32 224.55 87.90 229.30 87.90" stroke="#222" stroke-width="1.0"/>
<path d="M265.50 87.90 C270.35 87.90 275.79 89.32 280.04 89.30 C284.29 89.28 287.35 87.80 291.00 87.80" stroke="#222" stroke-width="1.0"/>
<path d="M51.40 96.60 C53.27 96.60 54.93 97.30 57.00 97.80 C59.07 98.30 61.63 98.82 63.80 99.60 C65.97 100.38 67.84 101.73 70.00 102.50 C72.16 103.27 74.23 103.85 76.75 104.20 C79.27 104.55 82.16 104.03 85.10 104.60 C88.04 105.17 92.07 107.00 94.40 107.60 C96.73 108.20 97.58 108.22 99.10 108.20 C100.62 108.18 102.27 107.95 103.50 107.50 C104.73 107.05 105.62 106.33 106.50 105.50 C107.38 104.67 107.88 103.88 108.80 102.50 C109.72 101.12 111.05 98.78 112.00 97.20 C112.95 95.62 113.60 94.45 114.50 93.00 C115.40 91.55 116.48 89.83 117.40 88.50 C118.32 87.17 119.15 85.98 120.00 85.00 C120.85 84.02 121.67 83.18 122.50 82.60 C123.33 82.02 124.15 81.73 125.00 81.50 C125.85 81.27 126.73 81.20 127.60 81.20" stroke="#222" stroke-width="1.0"/>
<path d="M127.60 81.20 C128.48 81.20 129.38 81.27 130.25 81.50 C131.12 81.73 131.95 82.02 132.80 82.60 C133.65 83.18 134.48 84.02 135.35 85.00 C136.22 85.98 137.07 87.17 138.00 88.50 C138.94 89.83 140.04 91.55 140.96 93.00 C141.88 94.45 142.54 95.62 143.51 97.20 C144.48 98.78 145.84 101.12 146.77 102.50 C147.71 103.88 148.22 104.67 149.12 105.50 C150.02 106.33 150.94 107.05 152.18 107.50 C153.41 107.95 155.04 108.18 156.53 108.20 C158.02 108.22 158.85 108.20 161.13 107.60 C163.41 107.00 167.35 105.17 170.23 104.60 C173.11 104.03 175.89 104.55 178.40 104.20 C180.91 103.85 183.09 103.27 185.30 102.50 C187.50 101.73 189.42 100.38 191.63 99.60 C193.84 98.82 196.47 98.30 198.58 97.80 C200.69 97.30 202.39 96.60 204.30 96.60" stroke="#222" stroke-width="1.0"/>
<path d="M204.30 96.60 C206.14 96.60 207.78 97.30 209.82 97.80 C211.86 98.30 214.39 98.82 216.53 99.60 C218.67 100.38 220.51 101.73 222.64 102.50 C224.77 103.27 227.08 104.20 229.30 104.20" stroke="#222" stroke-width="1.0"/>
<path d="M265.50 104.20 C267.76 104.20 270.12 103.27 272.29 102.50 C274.46 101.73 276.35 100.38 278.53 99.60 C280.71 98.82 283.29 98.30 285.37 97.80 C287.45 97.30 289.12 96.60 291.00 96.60" stroke="#222" stroke-width="1.0"/>
<path d="M51.40 103.40 C53.27 103.40 54.93 102.47 57.00 101.80 C59.07 101.13 61.63 99.88 63.80 99.40 C65.97 98.92 67.84 98.98 70.00 98.90 C72.16 98.82 73.85 99.08 76.75 98.90 C79.65 98.72 83.68 97.70 87.40 97.80 C91.12 97.90 96.33 99.17 99.10 99.50 C101.87 99.83 102.43 99.57 104.00 99.80 C105.57 100.03 107.17 100.45 108.50 100.90 C109.83 101.35 110.83 101.85 112.00 102.50 C113.17 103.15 114.33 104.02 115.50 104.80 C116.67 105.58 117.83 106.50 119.00 107.20 C120.17 107.90 121.07 108.50 122.50 109.00 C123.93 109.50 125.90 110.20 127.60 110.20" stroke="#222" stroke-width="1.0"/>
<path d="M127.60 110.20 C129.33 110.20 131.34 109.50 132.80 109.00 C134.26 108.50 135.18 107.90 136.37 107.20 C137.56 106.50 138.75 105.58 139.94 104.80 C141.13 104.02 142.32 103.15 143.51 102.50 C144.70 101.85 145.72 101.35 147.08 100.90 C148.44 100.45 150.09 100.03 151.67 99.80 C153.24 99.57 153.81 99.83 156.53 99.50 C159.25 99.17 164.33 97.90 167.98 97.80 C171.62 97.70 175.51 98.72 178.40 98.90 C181.29 99.08 183.09 98.82 185.30 98.90 C187.50 98.98 189.42 98.92 191.63 99.40 C193.84 99.88 196.47 101.13 198.58 101.80 C200.69 102.47 202.39 103.40 204.30 103.40" stroke="#222" stroke-width="1.0"/>
<path d="M204.30 103.40 C206.14 103.40 207.78 102.47 209.82 101.80 C211.86 101.13 214.39 99.88 216.53 99.40 C218.67 98.92 220.51 98.98 222.64 98.90 C224.77 98.82 227.08 98.90 229.30 98.90" stroke="#222" stroke-width="1.0"/>
<path d="M265.50 98.90 C267.76 98.90 270.12 98.82 272.29 98.90 C274.46 98.98 276.35 98.92 278.53 99.40 C280.71 99.88 283.29 101.13 285.37 101.80 C287.45 102.47 289.12 103.40 291.00 103.40" stroke="#222" stroke-width="1.0"/>
<path d="M51.40 140.90 C52.60 140.90 53.75 140.50 55.00 140.20 C56.25 139.90 57.48 139.63 58.90 139.10 C60.32 138.57 62.02 137.72 63.50 137.00 C64.98 136.28 66.38 135.47 67.80 134.80 C69.22 134.13 70.51 133.60 72.00 133.00 C73.49 132.40 75.13 132.25 76.75 131.20 C78.37 130.15 79.99 128.33 81.70 126.70 C83.41 125.07 85.07 123.23 87.00 121.40 C88.93 119.57 91.55 117.00 93.30 115.70 C95.05 114.40 95.98 113.95 97.50 113.60 C99.02 113.25 100.65 113.82 102.40 113.60 C104.15 113.38 106.23 112.63 108.00 112.30 C109.77 111.97 110.97 111.87 113.00 111.60 C115.03 111.33 117.77 110.88 120.20 110.70 C122.63 110.52 125.13 110.50 127.60 110.50" stroke="#222" stroke-width="1.0"/>
<path d="M127.60 110.50 C130.12 110.50 132.67 110.52 135.15 110.70 C137.63 110.88 140.42 111.33 142.49 111.60 C144.56 111.87 145.79 111.97 147.59 112.30 C149.39 112.63 151.55 113.38 153.30 113.60 C155.05 113.82 156.61 113.25 158.09 113.60 C159.58 113.95 160.49 114.40 162.20 115.70 C163.92 117.00 166.48 119.57 168.37 121.40 C170.26 123.23 171.88 125.07 173.56 126.70 C175.23 128.33 176.78 130.15 178.40 131.20 C180.02 132.25 181.73 132.40 183.25 133.00 C184.78 133.60 186.10 134.13 187.54 134.80 C188.99 135.47 190.42 136.28 191.94 137.00 C193.45 137.72 195.19 138.57 196.64 139.10 C198.08 139.63 199.34 139.90 200.62 140.20 C201.90 140.50 203.07 140.90 204.30 140.90" stroke="#222" stroke-width="1.0"/>
<path d="M204.30 140.90 C205.48 140.90 206.62 140.50 207.85 140.20 C209.08 139.90 210.30 139.63 211.70 139.10 C213.09 138.57 214.77 137.72 216.23 137.00 C217.70 136.28 219.08 135.47 220.47 134.80 C221.87 134.13 223.14 133.60 224.62 133.00 C226.09 132.40 227.74 131.20 229.30 131.20" stroke="#222" stroke-width="1.0"/>
<path d="M265.50 131.20 C267.09 131.20 268.78 132.40 270.28 133.00 C271.78 133.60 273.08 134.13 274.50 134.80 C275.93 135.47 277.34 136.28 278.83 137.00 C280.32 137.72 282.03 138.57 283.46 139.10 C284.88 139.63 286.12 139.90 287.38 140.20 C288.64 140.50 289.79 140.90 291.00 140.90" stroke="#222" stroke-width="1.0"/>
<path d="M51.40 141.20 C52.60 141.20 53.75 140.87 55.00 140.60 C56.25 140.33 57.48 140.10 58.90 139.60 C60.32 139.10 62.02 138.28 63.50 137.60 C64.98 136.92 66.38 136.13 67.80 135.50 C69.22 134.87 70.51 134.35 72.00 133.80 C73.49 133.25 75.13 132.87 76.75 132.20 C78.37 131.53 79.12 130.72 81.70 129.80 C84.28 128.88 89.05 127.57 92.20 126.70 C95.35 125.83 98.90 124.98 100.60 124.60 C102.30 124.22 101.17 124.83 102.40 124.40 C103.63 123.97 106.20 123.02 108.00 122.00 C109.80 120.98 111.45 119.53 113.20 118.30 C114.95 117.07 116.92 115.60 118.50 114.60 C120.08 113.60 121.18 112.93 122.70 112.30 C124.22 111.67 125.97 110.80 127.60 110.80" stroke="#222" stroke-width="1.0"/>
<path d="M127.60 110.80 C129.27 110.80 131.05 111.67 132.60 112.30 C134.14 112.93 135.27 113.60 136.88 114.60 C138.50 115.60 140.50 117.07 142.29 118.30 C144.07 119.53 145.75 120.98 147.59 122.00 C149.42 123.02 152.05 123.97 153.30 124.40 C154.55 124.83 153.40 124.22 155.06 124.60 C156.72 124.98 160.20 125.83 163.28 126.70 C166.36 127.57 171.04 128.88 173.56 129.80 C176.08 130.72 176.78 131.53 178.40 132.20 C180.02 132.87 181.73 133.25 183.25 133.80 C184.78 134.35 186.10 134.87 187.54 135.50 C188.99 136.13 190.42 136.92 191.94 137.60 C193.45 138.28 195.19 139.10 196.64 139.60 C198.08 140.10 199.34 140.33 200.62 140.60 C201.90 140.87 203.07 141.20 204.30 141.20" stroke="#222" stroke-width="1.0"/>
<path d="M204.30 141.20 C205.48 141.20 206.62 140.87 207.85 140.60 C209.08 140.33 210.30 140.10 211.70 139.60 C213.09 139.10 214.77 138.28 216.23 137.60 C217.70 136.92 219.08 136.13 220.47 135.50 C221.87 134.87 223.14 134.35 224.62 133.80 C226.09 133.25 227.74 132.20 229.30 132.20" stroke="#222" stroke-width="1.0"/>
<path d="M265.50 132.20 C267.09 132.20 268.78 133.25 270.28 133.80 C271.78 134.35 273.08 134.87 274.50 135.50 C275.93 136.13 277.34 136.92 278.83 137.60 C280.32 138.28 282.03 139.10 283.46 139.60 C284.88 140.10 286.12 140.33 287.38 140.60 C288.64 140.87 289.79 141.20 291.00 141.20" stroke="#222" stroke-width="1.0"/>
<path d="M51.40 141.50 C52.60 141.50 53.75 141.25 55.00 141.00 C56.25 140.75 57.48 140.47 58.90 140.00 C60.32 139.53 62.02 138.82 63.50 138.20 C64.98 137.58 66.38 136.88 67.80 136.30 C69.22 135.72 70.51 135.20 72.00 134.70 C73.49 134.20 74.25 133.77 76.75 133.30 C79.25 132.83 83.54 132.38 87.00 131.90 C90.46 131.42 94.93 130.65 97.50 130.40 C100.07 130.15 99.95 130.40 102.40 130.40 C104.85 130.40 109.87 130.85 112.20 130.40 C114.53 129.95 114.83 128.85 116.40 127.70 C117.97 126.55 120.17 124.52 121.60 123.50 C123.03 122.48 124.00 121.93 125.00 121.60 C126.00 121.27 126.73 121.50 127.60 121.50" stroke="#222" stroke-width="1.0"/>
<path d="M127.60 121.50 C128.48 121.50 129.23 121.27 130.25 121.60 C131.27 121.93 132.26 122.48 133.72 123.50 C135.18 124.52 137.42 126.55 139.02 127.70 C140.62 128.85 140.93 129.95 143.31 130.40 C145.69 130.85 150.84 130.40 153.30 130.40 C155.76 130.40 155.58 130.15 158.09 130.40 C160.61 130.65 164.99 131.42 168.37 131.90 C171.75 132.38 175.92 132.83 178.40 133.30 C180.88 133.77 181.73 134.20 183.25 134.70 C184.78 135.20 186.10 135.72 187.54 136.30 C188.99 136.88 190.42 137.58 191.94 138.20 C193.45 138.82 195.19 139.53 196.64 140.00 C198.08 140.47 199.34 140.75 200.62 141.00 C201.90 141.25 203.07 141.50 204.30 141.50" stroke="#222" stroke-width="1.0"/>
<path d="M204.30 141.50 C205.48 141.50 206.62 141.25 207.85 141.00 C209.08 140.75 210.30 140.47 211.70 140.00 C213.09 139.53 214.77 138.82 216.23 138.20 C217.70 137.58 219.08 136.88 220.47 136.30 C221.87 135.72 223.14 135.20 224.62 134.70 C226.09 134.20 227.74 133.30 229.30 133.30" stroke="#222" stroke-width="1.0"/>
<path d="M265.50 133.30 C267.09 133.30 268.78 134.20 270.28 134.70 C271.78 135.20 273.08 135.72 274.50 136.30 C275.93 136.88 277.34 137.58 278.83 138.20 C280.32 138.82 282.03 139.53 283.46 140.00 C284.88 140.47 286.12 140.75 287.38 141.00 C288.64 141.25 289.79 141.50 291.00 141.50" stroke="#222" stroke-width="1.0"/>
<path d="M51.40 145.20 C54.17 145.20 56.70 143.43 59.70 142.30 C62.70 141.17 66.67 139.20 69.40 138.40 C72.13 137.60 74.33 137.50 76.10 137.50 C77.87 137.50 78.95 137.92 80.00 138.40 C81.05 138.88 81.65 139.55 82.40 140.40 C83.15 141.25 83.65 141.77 84.50 143.50 C85.35 145.23 86.58 148.80 87.50 150.80 C88.42 152.80 89.33 154.42 90.00 155.50 C90.67 156.58 90.92 157.22 91.50 157.30 C92.08 157.38 92.75 156.53 93.50 156.00 C94.25 155.47 94.58 154.52 96.00 154.10 C97.42 153.68 99.98 153.40 102.00 153.50 C104.02 153.60 106.48 154.10 108.10 154.70 C109.72 155.30 110.28 155.75 111.70 157.10 C113.12 158.45 114.98 160.98 116.60 162.80 C118.22 164.62 120.08 166.70 121.40 168.00 C122.72 169.30 123.47 169.92 124.50 170.60 C125.53 171.28 126.57 172.10 127.60 172.10" stroke="#222" stroke-width="1.0"/>
<path d="M127.60 172.10 C128.65 172.10 129.71 171.28 130.76 170.60 C131.82 169.92 132.58 169.30 133.92 168.00 C135.27 166.70 137.17 164.62 138.82 162.80 C140.47 160.98 142.37 158.45 143.82 157.10 C145.26 155.75 145.84 155.30 147.49 154.70 C149.13 154.10 151.68 153.60 153.69 153.50 C155.70 153.40 158.18 153.68 159.56 154.10 C160.95 154.52 161.28 155.47 162.01 156.00 C162.74 156.53 163.40 157.38 163.97 157.30 C164.54 157.22 164.78 156.58 165.43 155.50 C166.09 154.42 166.98 152.80 167.88 150.80 C168.78 148.80 169.98 145.23 170.82 143.50 C171.65 141.77 172.14 141.25 172.87 140.40 C173.61 139.55 174.19 138.88 175.22 138.40 C176.25 137.92 177.28 137.50 179.06 137.50 C180.85 137.50 183.12 137.60 185.91 138.40 C188.70 139.20 192.75 141.17 195.82 142.30 C198.89 143.43 201.47 145.20 204.30 145.20" stroke="#222" stroke-width="1.0"/>
<path d="M204.30 145.20 C207.03 145.20 209.53 143.43 212.49 142.30 C215.44 141.17 219.36 139.20 222.05 138.40 C224.75 137.60 227.45 137.62 228.66 137.50 C229.87 137.38 229.09 137.65 229.30 137.65" stroke="#222" stroke-width="1.0"/>
<path d="M265.50 137.65 C265.72 137.65 264.92 137.38 266.15 137.50 C267.39 137.62 270.14 137.60 272.89 138.40 C275.64 139.20 279.63 141.17 282.65 142.30 C285.67 143.43 288.22 145.20 291.00 145.20" stroke="#222" stroke-width="1.0"/>
<path d="M51.40 152.80 C54.17 152.80 56.70 151.75 59.70 151.00 C62.70 150.25 66.50 148.97 69.40 148.30 C72.30 147.63 75.00 147.35 77.10 147.00 C79.20 146.65 80.68 146.43 82.00 146.20 C83.32 145.97 84.02 145.90 85.00 145.60 C85.98 145.30 86.90 145.17 87.90 144.40 C88.90 143.63 89.93 142.17 91.00 141.00 C92.07 139.83 93.30 138.57 94.30 137.40 C95.30 136.23 96.13 134.87 97.00 134.00 C97.87 133.13 98.60 132.60 99.50 132.20 C100.40 131.80 101.32 131.38 102.40 131.60 C103.48 131.82 104.97 132.77 106.00 133.50 C107.03 134.23 107.75 135.13 108.60 136.00 C109.45 136.87 110.25 137.82 111.10 138.70 C111.95 139.58 112.83 140.50 113.70 141.30 C114.57 142.10 114.92 142.78 116.30 143.50 C117.68 144.22 120.12 145.15 122.00 145.60 C123.88 146.05 125.73 146.20 127.60 146.20" stroke="#222" stroke-width="1.0"/>
<path d="M127.60 146.20 C129.50 146.20 131.39 146.05 133.31 145.60 C135.23 145.15 137.71 144.22 139.12 143.50 C140.53 142.78 140.89 142.10 141.78 141.30 C142.66 140.50 143.56 139.58 144.43 138.70 C145.29 137.82 146.11 136.87 146.98 136.00 C147.84 135.13 148.57 134.23 149.63 133.50 C150.68 132.77 152.22 131.82 153.30 131.60 C154.38 131.38 155.26 131.80 156.14 132.20 C157.02 132.60 157.74 133.13 158.58 134.00 C159.43 134.87 160.25 136.23 161.23 137.40 C162.20 138.57 163.41 139.83 164.46 141.00 C165.50 142.17 166.51 143.63 167.49 144.40 C168.47 145.17 169.36 145.30 170.33 145.60 C171.29 145.90 171.97 145.97 173.26 146.20 C174.55 146.43 175.95 146.65 178.06 147.00 C180.17 147.35 182.95 147.63 185.91 148.30 C188.87 148.97 192.75 150.25 195.82 151.00 C198.89 151.75 201.47 152.80 204.30 152.80" stroke="#222" stroke-width="1.0"/>
<path d="M204.30 152.80 C207.03 152.80 209.53 151.75 212.49 151.00 C215.44 150.25 219.25 148.96 222.05 148.30 C224.85 147.64 226.88 147.06 229.30 147.06" stroke="#222" stroke-width="1.0"/>
<path d="M265.50 147.06 C267.96 147.06 270.04 147.64 272.89 148.30 C275.75 148.96 279.63 150.25 282.65 151.00 C285.67 151.75 288.22 152.80 291.00 152.80" stroke="#222" stroke-width="1.0"/>
<path d="M51.40 173.20 C52.10 173.20 52.78 172.00 53.50 171.30 C54.22 170.60 54.95 169.88 55.70 169.00 C56.45 168.12 57.18 166.97 58.00 166.00 C58.82 165.03 59.68 164.15 60.60 163.20 C61.52 162.25 62.37 161.35 63.50 160.30 C64.63 159.25 66.27 157.92 67.40 156.90 C68.53 155.88 69.20 155.10 70.30 154.20 C71.40 153.30 72.88 152.20 74.00 151.50 C75.12 150.80 75.87 150.45 77.00 150.00 C78.13 149.55 79.42 149.20 80.80 148.80 C82.18 148.40 83.43 147.85 85.30 147.60 C87.17 147.35 89.15 147.35 92.00 147.30 C94.85 147.25 99.72 147.07 102.40 147.30 C105.08 147.53 106.55 147.97 108.10 148.70 C109.65 149.43 110.70 150.80 111.70 151.70 C112.70 152.60 113.08 152.67 114.10 154.10 C115.12 155.53 116.38 158.15 117.80 160.30 C119.22 162.45 121.40 165.38 122.60 167.00 C123.80 168.62 124.17 169.15 125.00 170.00 C125.83 170.85 126.73 172.10 127.60 172.10" stroke="#222" stroke-width="1.0"/>
<path d="M127.60 172.10 C128.48 172.10 129.40 170.85 130.25 170.00 C131.10 169.15 131.48 168.62 132.70 167.00 C133.92 165.38 136.15 162.45 137.59 160.30 C139.04 158.15 140.33 155.53 141.37 154.10 C142.40 152.67 142.80 152.60 143.82 151.70 C144.84 150.80 145.91 149.43 147.49 148.70 C149.07 147.97 150.63 147.53 153.30 147.30 C155.97 147.07 160.69 147.25 163.48 147.30 C166.27 147.35 168.21 147.35 170.03 147.60 C171.86 147.85 173.08 148.40 174.44 148.80 C175.79 149.20 177.03 149.55 178.16 150.00 C179.28 150.45 180.07 150.80 181.21 151.50 C182.35 152.20 183.87 153.30 184.99 154.20 C186.11 155.10 186.79 155.88 187.95 156.90 C189.11 157.92 190.78 159.25 191.94 160.30 C193.10 161.35 193.96 162.25 194.90 163.20 C195.84 164.15 196.72 165.03 197.56 166.00 C198.39 166.97 199.14 168.12 199.91 169.00 C200.67 169.88 201.42 170.60 202.15 171.30 C202.89 172.00 203.58 173.20 204.30 173.20" stroke="#222" stroke-width="1.0"/>
<path d="M204.30 173.20 C204.99 173.20 205.66 172.00 206.37 171.30 C207.08 170.60 207.80 169.88 208.54 169.00 C209.28 168.12 210.00 166.97 210.81 166.00 C211.61 165.03 212.47 164.15 213.37 163.20 C214.28 162.25 215.12 161.35 216.23 160.30 C217.35 159.25 218.96 157.92 220.08 156.90 C221.20 155.88 221.85 155.10 222.94 154.20 C224.02 153.30 225.53 152.18 226.59 151.50 C227.65 150.82 228.40 150.12 229.30 150.12" stroke="#222" stroke-width="1.0"/>
<path d="M265.50 150.12 C266.42 150.12 267.18 150.82 268.27 151.50 C269.35 152.18 270.88 153.30 271.99 154.20 C273.09 155.10 273.77 155.88 274.91 156.90 C276.05 157.92 277.69 159.25 278.83 160.30 C279.97 161.35 280.82 162.25 281.75 163.20 C282.67 164.15 283.54 165.03 284.36 166.00 C285.18 166.97 285.92 168.12 286.67 169.00 C287.43 169.88 288.17 170.60 288.89 171.30 C289.61 172.00 290.30 173.20 291.00 173.20" stroke="#222" stroke-width="1.0"/>
<path d="M51.40 163.80 C53.50 163.80 56.17 162.62 57.70 162.20 C59.23 161.78 59.47 161.78 60.60 161.30 C61.73 160.82 63.05 160.12 64.50 159.30 C65.95 158.48 67.70 157.15 69.30 156.40 C70.90 155.65 72.65 155.17 74.10 154.80 C75.55 154.43 76.70 154.40 78.00 154.20 C79.30 154.00 80.47 153.60 81.90 153.60 C83.33 153.60 85.33 153.80 86.60 154.20 C87.87 154.60 88.68 155.48 89.50 156.00 C90.32 156.52 90.83 157.30 91.50 157.30" stroke="#222" stroke-width="1.0"/>
<path d="M163.97 157.30 C164.62 157.30 165.12 156.52 165.92 156.00 C166.72 155.48 167.52 154.60 168.76 154.20 C170.00 153.80 171.96 153.60 173.36 153.60 C174.76 153.60 175.89 154.00 177.18 154.20 C178.47 154.40 179.64 154.43 181.11 154.80 C182.58 155.17 184.38 155.65 186.01 156.40 C187.65 157.15 189.43 158.48 190.92 159.30 C192.40 160.12 193.74 160.82 194.90 161.30 C196.06 161.78 196.30 161.78 197.86 162.20 C199.43 162.62 202.15 163.80 204.30 163.80" stroke="#222" stroke-width="1.0"/>
<path d="M204.30 163.80 C206.37 163.80 209.00 162.62 210.51 162.20 C212.03 161.78 212.26 161.78 213.37 161.30 C214.49 160.82 215.79 160.12 217.22 159.30 C218.65 158.48 220.37 157.15 221.95 156.40 C223.53 155.65 225.46 155.13 226.69 154.80 C227.91 154.47 228.43 154.39 229.30 154.39" stroke="#222" stroke-width="1.0"/>
<path d="M265.50 154.39 C266.39 154.39 266.92 154.47 268.17 154.80 C269.41 155.13 271.38 155.65 272.99 156.40 C274.60 157.15 276.36 158.48 277.82 159.30 C279.28 160.12 280.61 160.82 281.75 161.30 C282.89 161.78 283.12 161.78 284.66 162.20 C286.21 162.62 288.89 163.80 291.00 163.80" stroke="#222" stroke-width="1.0"/>
<path d="M76.75 171.90 C77.70 171.90 78.72 171.40 79.60 171.00 C80.47 170.60 81.05 170.23 82.00 169.50 C82.95 168.77 84.22 167.77 85.30 166.60 C86.38 165.43 87.47 163.63 88.50 162.50 C89.53 161.37 90.58 160.12 91.50 159.80 C92.42 159.48 93.25 160.13 94.00 160.60 C94.75 161.07 94.87 161.70 96.00 162.60 C97.13 163.50 99.38 165.40 100.80 166.00 C102.22 166.60 103.55 166.45 104.50 166.20 C105.45 165.95 105.90 165.32 106.50 164.50 C107.10 163.68 107.23 162.63 108.10 161.30 C108.97 159.97 110.70 157.70 111.70 156.50 C112.70 155.30 113.08 155.10 114.10 154.10 C115.12 153.10 116.38 151.62 117.80 150.50 C119.22 149.38 120.97 148.12 122.60 147.40 C124.23 146.68 125.93 146.20 127.60 146.20" stroke="#222" stroke-width="1.0"/>
<path d="M127.60 146.20 C129.30 146.20 131.03 146.68 132.70 147.40 C134.36 148.12 136.15 149.38 137.59 150.50 C139.04 151.62 140.33 153.10 141.37 154.10 C142.40 155.10 142.80 155.30 143.82 156.50 C144.84 157.70 146.60 159.97 147.49 161.30 C148.37 162.63 148.51 163.68 149.12 164.50 C149.73 165.32 150.20 165.95 151.16 166.20 C152.12 166.45 153.46 166.60 154.87 166.00 C156.27 165.40 158.45 163.50 159.56 162.60 C160.67 161.70 160.79 161.07 161.52 160.60 C162.25 160.13 163.07 159.48 163.97 159.80 C164.86 160.12 165.89 161.37 166.90 162.50 C167.91 163.63 168.97 165.43 170.03 166.60 C171.09 167.77 172.33 168.77 173.26 169.50 C174.19 170.23 174.75 170.60 175.61 171.00 C176.47 171.40 177.47 171.90 178.40 171.90" stroke="#222" stroke-width="1.0"/>
<path d="M51.40 173.30 C55.10 173.30 59.03 171.63 62.50 171.40 C65.97 171.17 69.83 171.82 72.20 171.90 C74.58 171.98 74.57 172.50 76.75 171.90 C78.93 171.30 82.09 169.05 85.30 168.30 C88.51 167.55 93.18 167.67 96.00 167.40 C98.82 167.13 100.18 166.67 102.20 166.70 C104.22 166.73 106.12 167.28 108.10 167.60 C110.08 167.92 112.08 168.10 114.10 168.60 C116.12 169.10 118.55 170.10 120.20 170.60 C121.85 171.10 122.77 171.35 124.00 171.60 C125.23 171.85 126.40 172.10 127.60 172.10" stroke="#222" stroke-width="1.0"/>
<path d="M127.60 172.10 C128.82 172.10 130.01 171.85 131.27 171.60 C132.53 171.35 133.46 171.10 135.15 170.60 C136.83 170.10 139.31 169.10 141.37 168.60 C143.42 168.10 145.47 167.92 147.49 167.60 C149.51 167.28 151.48 166.73 153.50 166.70 C155.51 166.67 156.81 167.13 159.56 167.40 C162.32 167.67 166.89 167.55 170.03 168.30 C173.17 169.05 176.23 171.30 178.40 171.90 C180.57 172.50 180.62 171.98 183.05 171.90 C185.48 171.82 189.42 171.17 192.96 171.40 C196.50 171.63 200.52 173.30 204.30 173.30" stroke="#222" stroke-width="1.0"/>
<path d="M204.30 173.30 C207.95 173.30 211.83 171.63 215.25 171.40 C218.67 171.17 222.47 171.82 224.81 171.90 C227.16 171.98 227.80 171.90 229.30 171.90" stroke="#222" stroke-width="1.0"/>
<path d="M265.50 171.90 C267.03 171.90 267.69 171.98 270.08 171.90 C272.47 171.82 276.35 171.17 279.83 171.40 C283.32 171.63 287.28 173.30 291.00 173.30" stroke="#222" stroke-width="1.0"/>
<path d="M51.40 216.40 C52.27 213.27 53.07 209.92 54.00 207.00 C54.93 204.08 56.08 201.15 57.00 198.90 C57.92 196.65 58.72 194.98 59.50 193.50 C60.28 192.02 60.75 191.20 61.70 190.00 C62.65 188.80 63.82 187.58 65.20 186.30 C66.58 185.02 68.08 183.32 70.00 182.30 C71.92 181.28 74.92 180.37 76.75 180.20 C78.58 180.03 79.61 180.75 81.00 181.30 C82.39 181.85 83.43 182.58 85.10 183.50 C86.77 184.42 89.02 186.02 91.00 186.80 C92.98 187.58 95.10 187.90 97.00 188.20 C98.90 188.50 100.28 188.62 102.40 188.60 C104.52 188.58 107.35 188.62 109.70 188.10 C112.05 187.58 114.45 186.18 116.50 185.50 C118.55 184.82 120.15 184.37 122.00 184.00 C123.85 183.63 125.73 183.30 127.60 183.30" stroke="#222" stroke-width="1.0"/>
<path d="M127.60 183.30 C129.50 183.30 131.42 183.63 133.31 184.00 C135.20 184.37 136.83 184.82 138.92 185.50 C141.01 186.18 143.46 187.58 145.86 188.10 C148.25 188.62 151.18 188.58 153.30 188.60 C155.42 188.62 156.72 188.50 158.58 188.20 C160.44 187.90 162.51 187.58 164.46 186.80 C166.40 186.02 168.60 184.42 170.23 183.50 C171.86 182.58 172.88 181.85 174.24 181.30 C175.60 180.75 176.56 180.03 178.40 180.20 C180.24 180.37 183.33 181.28 185.30 182.30 C187.26 183.32 188.79 185.02 190.20 186.30 C191.61 187.58 192.81 188.80 193.78 190.00 C194.75 191.20 195.22 192.02 196.02 193.50 C196.82 194.98 197.64 196.65 198.58 198.90 C199.52 201.15 200.69 204.08 201.64 207.00 C202.60 209.92 203.41 213.27 204.30 216.40" stroke="#222" stroke-width="1.0"/>
<path d="M204.30 216.40 C205.15 213.27 205.94 209.92 206.86 207.00 C207.78 204.08 208.92 201.15 209.82 198.90 C210.73 196.65 211.52 194.98 212.29 193.50 C213.06 192.02 213.52 191.20 214.46 190.00 C215.39 188.80 216.55 187.58 217.91 186.30 C219.27 185.02 220.74 183.32 222.64 182.30 C224.54 181.28 227.08 180.20 229.30 180.20" stroke="#222" stroke-width="1.0"/>
<path d="M265.50 180.20 C267.76 180.20 270.35 181.28 272.29 182.30 C274.23 183.32 275.73 185.02 277.12 186.30 C278.51 187.58 279.68 188.80 280.64 190.00 C281.59 191.20 282.06 192.02 282.85 193.50 C283.64 194.98 284.44 196.65 285.37 198.90 C286.29 201.15 287.45 204.08 288.38 207.00 C289.32 209.92 290.13 213.27 291.00 216.40" stroke="#222" stroke-width="1.0"/>
<path d="M51.40 216.40 C52.27 214.60 53.07 212.75 54.00 211.00 C54.93 209.25 55.72 207.92 57.00 205.90 C58.28 203.88 59.95 201.05 61.70 198.90 C63.45 196.75 65.55 194.47 67.50 193.00 C69.45 191.53 71.86 190.67 73.40 190.10 C74.94 189.53 74.80 189.58 76.75 189.60 C78.70 189.62 81.76 190.05 85.10 190.20 C88.44 190.35 93.92 190.50 96.80 190.50 C99.68 190.50 100.25 190.40 102.40 190.20 C104.55 190.00 107.35 189.92 109.70 189.30 C112.05 188.68 114.45 187.33 116.50 186.50 C118.55 185.67 120.15 184.78 122.00 184.30 C123.85 183.82 125.73 183.60 127.60 183.60" stroke="#222" stroke-width="1.0"/>
<path d="M127.60 183.60 C129.50 183.60 131.42 183.82 133.31 184.30 C135.20 184.78 136.83 185.67 138.92 186.50 C141.01 187.33 143.46 188.68 145.86 189.30 C148.25 189.92 151.15 190.00 153.30 190.20 C155.45 190.40 155.96 190.50 158.78 190.50 C161.60 190.50 166.96 190.35 170.23 190.20 C173.50 190.05 176.47 189.62 178.40 189.60 C180.33 189.58 180.25 189.53 181.82 190.10 C183.40 190.67 185.86 191.53 187.85 193.00 C189.84 194.47 191.99 196.75 193.78 198.90 C195.56 201.05 197.27 203.88 198.58 205.90 C199.89 207.92 200.69 209.25 201.64 211.00 C202.60 212.75 203.41 214.60 204.30 216.40" stroke="#222" stroke-width="1.0"/>
<path d="M204.30 216.40 C205.15 214.60 205.94 212.75 206.86 211.00 C207.78 209.25 208.56 207.92 209.82 205.90 C211.09 203.88 212.73 201.05 214.46 198.90 C216.18 196.75 218.25 194.47 220.18 193.00 C222.10 191.53 224.48 190.67 226.00 190.10 C227.52 189.53 228.20 189.60 229.30 189.60" stroke="#222" stroke-width="1.0"/>
<path d="M265.50 189.60 C266.62 189.60 267.32 189.53 268.87 190.10 C270.42 190.67 272.84 191.53 274.80 193.00 C276.77 194.47 278.88 196.75 280.64 198.90 C282.40 201.05 284.08 203.88 285.37 205.90 C286.66 207.92 287.45 209.25 288.38 211.00 C289.32 212.75 290.13 214.60 291.00 216.40" stroke="#222" stroke-width="1.0"/>
<path d="M229.30 38.50 C232.30 38.50 235.27 38.52 238.30 38.70 C241.33 38.88 244.43 39.60 247.50 39.60 C250.57 39.60 253.70 38.88 256.70 38.70 C259.70 38.52 262.57 38.50 265.50 38.50" stroke="#222" stroke-width="1.0"/>
<path d="M229.30 88.20 C232.20 88.20 234.98 88.68 238.00 88.90 C241.02 89.12 244.27 89.50 247.40 89.50 C250.53 89.50 253.78 89.12 256.80 88.90 C259.82 88.68 262.60 88.20 265.50 88.20" stroke="#222" stroke-width="1.0"/>
<path d="M229.30 99.40 C230.53 99.40 231.45 99.62 233.00 99.30 C234.55 98.98 236.93 98.22 238.60 97.50 C240.27 96.78 241.53 95.53 243.00 95.00 C244.47 94.47 245.98 94.30 247.40 94.30 C248.82 94.30 250.07 94.50 251.50 95.00 C252.93 95.50 254.42 96.63 256.00 97.30 C257.58 97.97 259.42 98.65 261.00 99.00 C262.58 99.35 264.00 99.40 265.50 99.40" stroke="#222" stroke-width="1.0"/>
<path d="M229.30 104.30 C231.20 104.30 232.93 104.12 235.00 103.80 C237.07 103.48 239.63 102.67 241.70 102.40 C243.77 102.13 245.65 102.20 247.40 102.20 C249.15 102.20 250.27 102.17 252.20 102.40 C254.13 102.63 256.78 103.28 259.00 103.60 C261.22 103.92 263.33 104.30 265.50 104.30" stroke="#222" stroke-width="1.0"/>
<path d="M229.30 131.10 C230.53 131.10 231.73 130.35 233.00 130.00 C234.27 129.65 235.57 129.13 236.90 129.00 C238.23 128.87 239.25 129.10 241.00 129.20 C242.75 129.30 245.32 129.60 247.40 129.60 C249.48 129.60 251.77 129.30 253.50 129.20 C255.23 129.10 256.38 128.87 257.80 129.00 C259.22 129.13 260.72 129.65 262.00 130.00 C263.28 130.35 264.33 131.10 265.50 131.10" stroke="#222" stroke-width="1.0"/>
<path d="M229.30 132.90 C230.53 132.90 231.73 133.12 233.00 133.30 C234.27 133.48 235.40 133.73 236.90 134.00 C238.40 134.27 240.25 134.67 242.00 134.90 C243.75 135.13 245.60 135.40 247.40 135.40 C249.20 135.40 251.03 135.13 252.80 134.90 C254.57 134.67 256.47 134.27 258.00 134.00 C259.53 133.73 260.75 133.48 262.00 133.30 C263.25 133.12 264.33 132.90 265.50 132.90" stroke="#222" stroke-width="1.0"/>
<path d="M229.30 137.30 C230.53 137.30 231.80 138.13 233.00 139.00 C234.20 139.87 235.33 141.28 236.50 142.50 C237.67 143.72 238.75 145.27 240.00 146.30 C241.25 147.33 242.77 148.18 244.00 148.70 C245.23 149.22 246.23 149.40 247.40 149.40 C248.57 149.40 249.73 149.22 251.00 148.70 C252.27 148.18 253.75 147.33 255.00 146.30 C256.25 145.27 257.33 143.72 258.50 142.50 C259.67 141.28 260.83 139.87 262.00 139.00 C263.17 138.13 264.33 137.30 265.50 137.30" stroke="#222" stroke-width="1.0"/>
<path d="M229.30 146.60 C230.53 146.60 231.80 146.07 233.00 145.60 C234.20 145.13 235.33 144.48 236.50 143.80 C237.67 143.12 238.75 142.20 240.00 141.50 C241.25 140.80 242.77 140.00 244.00 139.60 C245.23 139.20 246.23 139.10 247.40 139.10 C248.57 139.10 249.73 139.20 251.00 139.60 C252.27 140.00 253.75 140.80 255.00 141.50 C256.25 142.20 257.33 143.12 258.50 143.80 C259.67 144.48 260.83 145.13 262.00 145.60 C263.17 146.07 264.33 146.60 265.50 146.60" stroke="#222" stroke-width="1.0"/>
<path d="M229.30 150.00 C232.20 150.00 234.98 151.17 238.00 151.50 C241.02 151.83 244.23 152.00 247.40 152.00 C250.57 152.00 253.98 151.83 257.00 151.50 C260.02 151.17 262.67 150.00 265.50 150.00" stroke="#222" stroke-width="1.0"/>
<path d="M229.30 154.40 C232.20 154.40 234.98 154.00 238.00 153.90 C241.02 153.80 244.23 153.80 247.40 153.80 C250.57 153.80 253.98 153.80 257.00 153.90 C260.02 154.00 262.67 154.40 265.50 154.40" stroke="#222" stroke-width="1.0"/>
<path d="M229.30 171.90 C232.20 171.90 234.98 171.63 238.00 171.50 C241.02 171.37 244.23 171.10 247.40 171.10 C250.57 171.10 253.98 171.37 257.00 171.50 C260.02 171.63 262.67 171.90 265.50 171.90" stroke="#222" stroke-width="1.0"/>
<path d="M229.30 171.90 C230.23 171.90 230.65 171.58 232.10 171.10 C233.55 170.62 235.45 169.60 238.00 169.00 C240.55 168.40 244.23 167.50 247.40 167.50 C250.57 167.50 254.45 168.40 257.00 169.00 C259.55 169.60 261.28 170.62 262.70 171.10 C264.12 171.58 264.57 171.90 265.50 171.90" stroke="#222" stroke-width="1.0"/>
<path d="M229.30 179.60 C230.53 179.60 231.43 180.07 233.00 180.60 C234.57 181.13 237.03 182.10 238.70 182.80 C240.37 183.50 241.55 184.32 243.00 184.80 C244.45 185.28 245.90 185.70 247.40 185.70 C248.90 185.70 250.55 185.28 252.00 184.80 C253.45 184.32 254.43 183.50 256.10 182.80 C257.77 182.10 260.43 181.13 262.00 180.60 C263.57 180.07 264.33 179.60 265.50 179.60" stroke="#222" stroke-width="1.0"/>
<path d="M229.30 189.60 C230.87 189.60 232.43 189.68 234.00 189.90 C235.57 190.12 237.45 190.50 238.70 190.90 C239.95 191.30 240.57 191.62 241.50 192.30 C242.43 192.98 243.32 194.28 244.30 195.00 C245.28 195.72 246.37 196.60 247.40 196.60 C248.43 196.60 249.52 195.72 250.50 195.00 C251.48 194.28 252.38 192.98 253.30 192.30 C254.22 191.62 254.72 191.30 256.00 190.90 C257.28 190.50 259.42 190.12 261.00 189.90 C262.58 189.68 264.00 189.60 265.50 189.60" stroke="#222" stroke-width="1.0"/>
<path d="M229.30 189.60 C232.43 189.60 235.68 190.45 238.70 190.90 C241.72 191.35 244.52 192.30 247.40 192.30 C250.28 192.30 252.98 191.35 256.00 190.90 C259.02 190.45 262.33 189.60 265.50 189.60" stroke="#222" stroke-width="1.0"/>
<path d="M291.00 42.40 C291.10 42.40 290.35 43.65 291.30 44.00 C292.25 44.35 295.17 44.53 296.70 44.50 C298.23 44.47 299.23 44.13 300.50 43.80 C301.77 43.47 303.05 43.05 304.30 42.50 C305.55 41.95 306.72 41.27 308.00 40.50 C309.28 39.73 310.70 38.90 312.00 37.90 C313.30 36.90 314.53 35.65 315.80 34.50 C317.07 33.35 318.32 32.17 319.60 31.00 C320.88 29.83 322.22 28.57 323.50 27.50 C324.78 26.43 325.90 25.42 327.30 24.60 C328.70 23.78 330.57 23.02 331.90 22.60 C333.23 22.18 334.17 22.10 335.30 22.10" stroke="#222" stroke-width="1.0"/>
<path d="M291.00 87.80 C291.02 87.80 290.22 95.40 291.05 97.00 C291.88 98.60 294.43 97.30 296.00 97.40 C297.57 97.50 299.17 97.60 300.50 97.60 C301.83 97.60 302.78 97.50 304.00 97.40 C305.22 97.30 306.47 97.40 307.80 97.00 C309.13 96.60 310.60 95.82 312.00 95.00 C313.40 94.18 314.78 93.18 316.20 92.10 C317.62 91.02 319.08 89.60 320.50 88.50 C321.92 87.40 323.37 86.38 324.70 85.50 C326.03 84.62 327.28 83.80 328.50 83.20 C329.72 82.60 330.87 82.22 332.00 81.90 C333.13 81.58 334.20 81.30 335.30 81.30" stroke="#222" stroke-width="1.0"/>
<path d="M291.00 103.40 C291.02 103.40 290.05 100.07 291.05 99.30 C292.05 98.53 294.82 98.93 297.00 98.80 C299.18 98.67 301.93 98.33 304.10 98.50 C306.27 98.67 307.98 99.28 310.00 99.80 C312.02 100.32 314.45 100.98 316.20 101.60 C317.95 102.22 319.08 102.88 320.50 103.50 C321.92 104.12 323.37 104.67 324.70 105.30 C326.03 105.93 327.28 106.70 328.50 107.30 C329.72 107.90 330.87 108.53 332.00 108.90 C333.13 109.27 334.20 109.50 335.30 109.50" stroke="#222" stroke-width="1.0"/>
<path d="M291.00 140.90 C292.00 140.90 292.83 140.95 294.00 140.80 C295.17 140.65 296.85 140.32 298.00 140.00 C299.15 139.68 299.90 139.48 300.90 138.90 C301.90 138.32 302.87 137.53 304.00 136.50 C305.13 135.47 306.53 134.12 307.70 132.70 C308.87 131.28 309.85 129.60 311.00 128.00 C312.15 126.40 313.43 124.60 314.60 123.10 C315.77 121.60 316.87 120.27 318.00 119.00 C319.13 117.73 320.23 116.50 321.40 115.50 C322.57 114.50 323.85 113.68 325.00 113.00 C326.15 112.32 327.30 111.82 328.30 111.40 C329.30 110.98 330.08 110.73 331.00 110.50 C331.92 110.27 333.08 110.12 333.80 110.00 C334.52 109.88 334.80 109.80 335.30 109.80" stroke="#222" stroke-width="1.0"/>
<path d="M291.00 145.50 C293.33 145.50 295.82 146.05 298.00 146.20 C300.18 146.35 301.87 146.28 304.10 146.40 C306.33 146.52 309.38 146.80 311.40 146.90 C313.42 147.00 314.05 147.00 316.20 147.00 C318.35 147.00 321.12 147.02 324.30 146.90 C327.48 146.78 331.63 146.30 335.30 146.30" stroke="#222" stroke-width="1.0"/>
<path d="M291.00 145.60 C292.00 145.60 292.80 145.70 294.00 146.00 C295.20 146.30 296.87 146.82 298.20 147.40 C299.53 147.98 300.63 148.70 302.00 149.50 C303.37 150.30 304.98 151.20 306.40 152.20 C307.82 153.20 309.12 154.35 310.50 155.50 C311.88 156.65 313.45 157.93 314.70 159.10 C315.95 160.27 316.87 161.37 318.00 162.50 C319.13 163.63 320.17 164.95 321.50 165.90 C322.83 166.85 324.58 167.47 326.00 168.20 C327.42 168.93 328.45 169.70 330.00 170.30 C331.55 170.90 333.53 171.80 335.30 171.80" stroke="#222" stroke-width="1.0"/>
<path d="M291.00 152.80 C291.02 152.80 290.55 161.75 291.05 163.20 C291.55 164.65 293.04 162.07 294.00 161.50 C294.96 160.93 295.97 160.55 296.80 159.80 C297.63 159.05 298.30 158.03 299.00 157.00 C299.70 155.97 300.22 154.85 301.00 153.60 C301.78 152.35 302.57 150.87 303.70 149.50 C304.83 148.13 306.58 146.40 307.80 145.40 C309.02 144.40 309.87 144.15 311.00 143.50 C312.13 142.85 313.43 142.42 314.60 141.50 C315.77 140.58 316.87 139.23 318.00 138.00 C319.13 136.77 320.23 135.52 321.40 134.10 C322.57 132.68 323.85 130.88 325.00 129.50 C326.15 128.12 327.30 126.83 328.30 125.80 C329.30 124.77 330.08 123.95 331.00 123.30 C331.92 122.65 333.08 122.18 333.80 121.90 C334.52 121.62 334.80 121.60 335.30 121.60" stroke="#222" stroke-width="1.0"/>
<path d="M291.00 170.70 C292.33 170.70 293.80 170.43 295.00 170.20 C296.20 169.97 297.20 169.67 298.20 169.30 C299.20 168.93 300.08 168.57 301.00 168.00 C301.92 167.43 302.87 166.82 303.70 165.90 C304.53 164.98 305.32 163.63 306.00 162.50 C306.68 161.37 307.05 160.82 307.80 159.10 C308.55 157.38 309.70 154.27 310.50 152.20 C311.30 150.13 311.92 148.27 312.60 146.70 C313.28 145.13 313.70 144.17 314.60 142.80 C315.50 141.43 316.87 139.88 318.00 138.50 C319.13 137.12 320.23 135.93 321.40 134.50 C322.57 133.07 323.85 131.28 325.00 129.90 C326.15 128.52 327.30 127.25 328.30 126.20 C329.30 125.15 330.08 124.28 331.00 123.60 C331.92 122.92 333.08 122.40 333.80 122.10 C334.52 121.80 334.80 121.80 335.30 121.80" stroke="#222" stroke-width="1.0"/>
<path d="M291.00 173.80 C292.00 173.80 292.80 173.95 294.00 174.00 C295.20 174.05 296.87 174.22 298.20 174.10 C299.53 173.98 300.63 173.75 302.00 173.30 C303.37 172.85 305.07 172.15 306.40 171.40 C307.73 170.65 308.85 169.60 310.00 168.80 C311.15 168.00 312.30 167.20 313.30 166.60 C314.30 166.00 315.08 165.53 316.00 165.20 C316.92 164.87 317.80 164.67 318.80 164.60 C319.80 164.53 320.80 164.48 322.00 164.80 C323.20 165.12 324.67 165.72 326.00 166.50 C327.33 167.28 328.45 168.58 330.00 169.50 C331.55 170.42 333.53 172.00 335.30 172.00" stroke="#222" stroke-width="1.0"/>
<path d="M291.00 216.45 C291.83 213.63 292.63 210.51 293.50 208.00 C294.37 205.49 295.18 203.82 296.20 201.40 C297.22 198.98 298.63 195.40 299.60 193.50 C300.57 191.60 301.17 190.88 302.00 190.00 C302.83 189.12 303.32 188.55 304.60 188.20 C305.88 187.85 307.72 187.95 309.70 187.90 C311.68 187.85 314.23 188.33 316.50 187.90 C318.77 187.47 321.22 185.95 323.30 185.30 C325.38 184.65 327.00 184.37 329.00 184.00 C331.00 183.63 333.20 183.10 335.30 183.10" stroke="#222" stroke-width="1.0"/>
<path d="M291.00 216.45 C292.33 214.97 293.57 213.38 295.00 212.00 C296.43 210.62 298.27 209.70 299.60 208.20 C300.93 206.70 301.88 204.70 303.00 203.00 C304.12 201.30 305.22 199.42 306.30 198.00 C307.38 196.58 308.37 195.62 309.50 194.50 C310.63 193.38 311.93 192.22 313.10 191.30 C314.27 190.38 315.37 189.57 316.50 189.00 C317.63 188.43 318.48 188.40 319.90 187.90 C321.32 187.40 323.32 186.57 325.00 186.00 C326.68 185.43 328.28 184.95 330.00 184.50 C331.72 184.05 333.53 183.30 335.30 183.30" stroke="#222" stroke-width="1.0"/>
</g>
<line x1="51.40" y1="216.45" x2="335.30" y2="216.45" stroke="#000" stroke-width="1.2" stroke-dasharray="2.8 2.7" stroke-dashoffset="-2.4"/>
<rect x="252.0" y="45.0" width="80" height="31" fill="#fff"/>
<line x1="257.0" y1="54.0" x2="286.8" y2="54.0" stroke="#ff2020" stroke-width="1" stroke-dasharray="3.7 1.9"/>
<line x1="257.0" y1="69.3" x2="286.8" y2="69.3" stroke="#222" stroke-width="1"/>
<text x="290.0" y="58.4" font-size="12.6" fill="#000">Model</text>
<text x="290.0" y="73.9" font-size="12.6" fill="#000">DFT</text>
<rect x="51.40" y="1.40" width="283.90" height="228.00" fill="none" stroke="#000" stroke-width="1.25"/>
<line x1="46.60" y1="216.45" x2="51.40" y2="216.45" stroke="#000" stroke-width="1.2"/>
<text x="43.80" y="220.35" font-size="13" text-anchor="end" fill="#000">0</text>
<line x1="46.60" y1="165.89" x2="51.40" y2="165.89" stroke="#000" stroke-width="1.2"/>
<text x="43.80" y="169.79" font-size="13" text-anchor="end" fill="#000">200</text>
<line x1="46.60" y1="115.33" x2="51.40" y2="115.33" stroke="#000" stroke-width="1.2"/>
<text x="43.80" y="119.23" font-size="13" text-anchor="end" fill="#000">400</text>
<line x1="46.60" y1="64.77" x2="51.40" y2="64.77" stroke="#000" stroke-width="1.2"/>
<text x="43.80" y="68.67" font-size="13" text-anchor="end" fill="#000">600</text>
<line x1="46.60" y1="14.21" x2="51.40" y2="14.21" stroke="#000" stroke-width="1.2"/>
<text x="43.80" y="18.11" font-size="13" text-anchor="end" fill="#000">800</text>
<line x1="48.60" y1="191.17" x2="51.40" y2="191.17" stroke="#000" stroke-width="1.2"/>
<line x1="48.60" y1="140.61" x2="51.40" y2="140.61" stroke="#000" stroke-width="1.2"/>
<line x1="48.60" y1="90.05" x2="51.40" y2="90.05" stroke="#000" stroke-width="1.2"/>
<line x1="48.60" y1="39.49" x2="51.40" y2="39.49" stroke="#000" stroke-width="1.2"/>
<line x1="51.40" y1="229.40" x2="51.40" y2="233.70" stroke="#000" stroke-width="1.2"/>
<text x="51.40" y="247.0" font-size="12.6" text-anchor="middle" fill="#000">Γ</text>
<line x1="64.08" y1="229.40" x2="64.08" y2="231.90" stroke="#000" stroke-width="1.2"/>
<line x1="76.75" y1="229.40" x2="76.75" y2="233.70" stroke="#000" stroke-width="1.2"/>
<text x="76.75" y="247.0" font-size="12.6" text-anchor="middle" fill="#000">X</text>
<line x1="89.58" y1="229.40" x2="89.58" y2="231.90" stroke="#000" stroke-width="1.2"/>
<line x1="102.40" y1="229.40" x2="102.40" y2="233.70" stroke="#000" stroke-width="1.2"/>
<text x="102.40" y="247.0" font-size="12.6" text-anchor="middle" fill="#000">M</text>
<line x1="115.00" y1="229.40" x2="115.00" y2="231.90" stroke="#000" stroke-width="1.2"/>
<line x1="127.60" y1="229.40" x2="127.60" y2="233.70" stroke="#000" stroke-width="1.2"/>
<text x="127.60" y="247.0" font-size="12.6" text-anchor="middle" fill="#000">A</text>
<line x1="140.45" y1="229.40" x2="140.45" y2="231.90" stroke="#000" stroke-width="1.2"/>
<line x1="153.30" y1="229.40" x2="153.30" y2="233.70" stroke="#000" stroke-width="1.2"/>
<text x="153.30" y="247.0" font-size="12.6" text-anchor="middle" fill="#000">R</text>
<line x1="165.85" y1="229.40" x2="165.85" y2="231.90" stroke="#000" stroke-width="1.2"/>
<line x1="178.40" y1="229.40" x2="178.40" y2="233.70" stroke="#000" stroke-width="1.2"/>
<text x="178.40" y="247.0" font-size="12.6" text-anchor="middle" fill="#000">Z</text>
<line x1="191.35" y1="229.40" x2="191.35" y2="231.90" stroke="#000" stroke-width="1.2"/>
<line x1="204.30" y1="229.40" x2="204.30" y2="233.70" stroke="#000" stroke-width="1.2"/>
<text x="204.30" y="247.0" font-size="12.6" text-anchor="middle" fill="#000">Γ</text>
<line x1="216.80" y1="229.40" x2="216.80" y2="231.90" stroke="#000" stroke-width="1.2"/>
<line x1="229.30" y1="229.40" x2="229.30" y2="233.70" stroke="#000" stroke-width="1.2"/>
<text x="229.30" y="247.0" font-size="12.6" text-anchor="middle" fill="#000">X</text>
<line x1="247.40" y1="229.40" x2="247.40" y2="231.90" stroke="#000" stroke-width="1.2"/>
<line x1="265.50" y1="229.40" x2="265.50" y2="233.70" stroke="#000" stroke-width="1.2"/>
<text x="265.50" y="247.0" font-size="12.6" text-anchor="middle" fill="#000">X</text>
<line x1="278.25" y1="229.40" x2="278.25" y2="231.90" stroke="#000" stroke-width="1.2"/>
<line x1="291.00" y1="229.40" x2="291.00" y2="233.70" stroke="#000" stroke-width="1.2"/>
<text x="291.00" y="247.0" font-size="12.6" text-anchor="middle" fill="#000">Γ</text>
<line x1="313.15" y1="229.40" x2="313.15" y2="231.90" stroke="#000" stroke-width="1.2"/>
<line x1="335.30" y1="229.40" x2="335.30" y2="233.70" stroke="#000" stroke-width="1.2"/>
<text x="335.30" y="247.0" font-size="12.6" text-anchor="middle" fill="#000">A</text>
<text x="56.00" y="15.9" fill="#000"><tspan font-size="14">(</tspan><tspan font-size="12.9" dx="-0.4">a</tspan><tspan font-size="14" dx="1.5">)</tspan></text>
<text transform="translate(14.10 163.1) rotate(-90)" font-size="12.75" fill="#000">Frequency (cm<tspan font-size="8.5" dy="-5">-1</tspan><tspan dy="5">)</tspan></text>
<line x1="420.95" y1="2.40" x2="420.95" y2="228.90" stroke="#b4b4b4" stroke-width="1" stroke-dasharray="1.2 1.9"/>
<line x1="446.60" y1="2.40" x2="446.60" y2="228.90" stroke="#b4b4b4" stroke-width="1" stroke-dasharray="1.2 1.9"/>
<line x1="471.80" y1="2.40" x2="471.80" y2="228.90" stroke="#b4b4b4" stroke-width="1" stroke-dasharray="1.2 1.9"/>
<line x1="497.50" y1="2.40" x2="497.50" y2="228.90" stroke="#b4b4b4" stroke-width="1" stroke-dasharray="1.2 1.9"/>
<line x1="522.60" y1="2.40" x2="522.60" y2="228.90" stroke="#b4b4b4" stroke-width="1" stroke-dasharray="1.2 1.9"/>
<line x1="548.50" y1="2.40" x2="548.50" y2="228.90" stroke="#b4b4b4" stroke-width="1" stroke-dasharray="1.2 1.9"/>
<line x1="573.50" y1="2.40" x2="573.50" y2="228.90" stroke="#b4b4b4" stroke-width="1" stroke-dasharray="1.2 1.9"/>
<line x1="609.70" y1="2.40" x2="609.70" y2="228.90" stroke="#b4b4b4" stroke-width="1" stroke-dasharray="1.2 1.9"/>
<line x1="635.20" y1="2.40" x2="635.20" y2="228.90" stroke="#b4b4b4" stroke-width="1" stroke-dasharray="1.2 1.9"/>
<g fill="none" stroke-linejoin="round">
<path d="M395.60 42.40 C399.73 42.40 403.78 37.38 408.00 36.00 C412.23 34.62 417.38 34.57 420.95 34.10 C424.52 33.63 426.96 33.90 429.40 33.20 C431.84 32.50 433.30 31.22 435.60 29.90 C437.90 28.58 441.37 26.15 443.20 25.30 C445.03 24.45 444.80 25.07 446.60 24.80 C448.40 24.53 451.50 24.38 454.00 23.70 C456.50 23.02 459.05 21.63 461.60 20.70 C464.15 19.77 467.60 18.58 469.30 18.10 C471.00 17.62 470.97 17.80 471.80 17.80" stroke="#ff2020" stroke-width="1.0" stroke-dasharray="3.5 2.0"/>
<path d="M471.80 17.80 C472.65 17.80 472.62 17.62 474.35 18.10 C476.08 18.58 479.60 19.77 482.20 20.70 C484.80 21.63 487.40 23.02 489.95 23.70 C492.50 24.38 495.69 24.53 497.50 24.80 C499.31 25.07 499.03 24.45 500.83 25.30 C502.62 26.15 506.01 28.58 508.26 29.90 C510.51 31.22 511.94 32.50 514.33 33.20 C516.72 33.90 519.02 33.63 522.60 34.10 C526.18 34.57 531.51 34.62 535.83 36.00 C540.15 37.38 544.28 42.40 548.50 42.40" stroke="#ff2020" stroke-width="1.0" stroke-dasharray="3.5 2.0"/>
<path d="M548.50 42.40 C552.58 42.40 556.56 37.38 560.73 36.00 C564.90 34.62 569.24 34.10 573.50 34.10" stroke="#ff2020" stroke-width="1.0" stroke-dasharray="3.5 2.0"/>
<path d="M609.70 34.10 C614.04 34.10 618.48 34.62 622.73 36.00 C626.98 37.38 631.04 42.40 635.20 42.40" stroke="#ff2020" stroke-width="1.0" stroke-dasharray="3.5 2.0"/>
<path d="M395.60 87.80 C399.23 87.80 402.28 87.43 406.50 87.03 C410.73 86.63 417.38 85.89 420.95 85.40 C424.52 84.91 425.73 85.15 427.90 84.10 C430.08 83.05 431.70 80.62 434.00 79.10 C436.30 77.58 439.60 75.77 441.70 75.00 C443.80 74.23 444.30 74.40 446.60 74.50 C448.90 74.60 452.48 75.08 455.50 75.60 C458.52 76.12 461.98 77.08 464.70 77.60 C467.42 78.12 469.43 78.70 471.80 78.70" stroke="#ff2020" stroke-width="1.0" stroke-dasharray="3.5 2.0"/>
<path d="M471.80 78.70 C474.21 78.70 476.27 78.12 479.04 77.60 C481.81 77.08 485.35 76.12 488.42 75.60 C491.50 75.08 495.19 74.60 497.50 74.50 C499.81 74.40 500.24 74.23 502.29 75.00 C504.35 75.77 507.58 77.58 509.83 79.10 C512.08 80.62 513.67 83.05 515.80 84.10 C517.93 85.15 519.01 84.92 522.60 85.40 C526.19 85.88 533.05 86.58 537.36 86.98 C541.68 87.38 544.79 87.80 548.50 87.80" stroke="#ff2020" stroke-width="1.0" stroke-dasharray="3.5 2.0"/>
<path d="M548.50 87.80 C552.08 87.80 555.08 87.46 559.25 87.06 C563.42 86.66 568.75 85.40 573.50 85.40" stroke="#ff2020" stroke-width="1.0" stroke-dasharray="3.5 2.0"/>
<path d="M609.70 85.40 C614.55 85.40 619.99 86.62 624.24 87.02 C628.49 87.42 631.55 87.80 635.20 87.80" stroke="#ff2020" stroke-width="1.0" stroke-dasharray="3.5 2.0"/>
<path d="M395.60 96.60 C397.47 96.60 399.13 96.55 401.20 96.63 C403.27 96.72 405.83 96.71 408.00 97.10 C410.17 97.49 412.04 98.40 414.20 99.00 C416.36 99.60 418.43 100.35 420.95 100.70 C423.47 101.05 426.36 100.53 429.30 101.10 C432.24 101.67 436.27 103.50 438.60 104.10 C440.93 104.70 441.78 104.72 443.30 104.70 C444.82 104.68 446.47 104.45 447.70 104.00 C448.93 103.55 449.82 102.83 450.70 102.00 C451.58 101.17 452.08 100.22 453.00 99.00 C453.92 97.78 455.25 96.12 456.20 94.70 C457.15 93.28 457.80 91.95 458.70 90.50 C459.60 89.05 460.68 87.33 461.60 86.00 C462.52 84.67 463.35 83.48 464.20 82.50 C465.05 81.52 465.87 80.68 466.70 80.10 C467.53 79.52 468.35 79.23 469.20 79.00 C470.05 78.77 470.93 78.70 471.80 78.70" stroke="#ff2020" stroke-width="1.0" stroke-dasharray="3.5 2.0"/>
<path d="M471.80 78.70 C472.68 78.70 473.58 78.77 474.45 79.00 C475.32 79.23 476.15 79.52 477.00 80.10 C477.85 80.68 478.68 81.52 479.55 82.50 C480.42 83.48 481.27 84.67 482.20 86.00 C483.14 87.33 484.24 89.05 485.16 90.50 C486.08 91.95 486.74 93.28 487.71 94.70 C488.68 96.12 490.04 97.78 490.97 99.00 C491.91 100.22 492.42 101.17 493.32 102.00 C494.22 102.83 495.14 103.55 496.38 104.00 C497.61 104.45 499.24 104.68 500.73 104.70 C502.22 104.72 503.05 104.70 505.33 104.10 C507.61 103.50 511.55 101.67 514.43 101.10 C517.31 100.53 520.09 101.05 522.60 100.70 C525.11 100.35 527.29 99.60 529.50 99.00 C531.70 98.40 533.62 97.50 535.83 97.10 C538.04 96.70 540.67 96.69 542.78 96.61 C544.89 96.52 546.59 96.60 548.50 96.60" stroke="#ff2020" stroke-width="1.0" stroke-dasharray="3.5 2.0"/>
<path d="M548.50 96.60 C550.34 96.60 551.98 96.57 554.02 96.65 C556.06 96.73 558.59 96.71 560.73 97.10 C562.87 97.49 564.71 98.40 566.84 99.00 C568.97 99.60 571.28 100.70 573.50 100.70" stroke="#ff2020" stroke-width="1.0" stroke-dasharray="3.5 2.0"/>
<path d="M609.70 100.70 C611.96 100.70 614.32 99.60 616.49 99.00 C618.66 98.40 620.55 97.50 622.73 97.10 C624.91 96.70 627.49 96.71 629.57 96.63 C631.65 96.54 633.32 96.60 635.20 96.60" stroke="#ff2020" stroke-width="1.0" stroke-dasharray="3.5 2.0"/>
<path d="M395.60 103.40 C397.47 103.40 399.13 101.25 401.20 100.17 C403.27 99.08 405.83 97.53 408.00 96.90 C410.17 96.27 412.04 96.48 414.20 96.40 C416.36 96.32 418.05 96.58 420.95 96.40 C423.85 96.22 427.88 95.20 431.60 95.30 C435.33 95.40 440.53 96.67 443.30 97.00 C446.07 97.33 446.63 97.23 448.20 97.30 C449.77 97.37 451.37 97.12 452.70 97.40 C454.03 97.68 455.03 98.35 456.20 99.00 C457.37 99.65 458.53 100.52 459.70 101.30 C460.87 102.08 462.03 103.00 463.20 103.70 C464.37 104.40 465.27 105.00 466.70 105.50 C468.13 106.00 470.10 106.70 471.80 106.70" stroke="#ff2020" stroke-width="1.0" stroke-dasharray="3.5 2.0"/>
<path d="M471.80 106.70 C473.53 106.70 475.54 106.00 477.00 105.50 C478.46 105.00 479.38 104.40 480.57 103.70 C481.76 103.00 482.95 102.08 484.14 101.30 C485.33 100.52 486.52 99.65 487.71 99.00 C488.90 98.35 489.92 97.68 491.28 97.40 C492.64 97.12 494.29 97.37 495.87 97.30 C497.44 97.23 498.01 97.33 500.73 97.00 C503.45 96.67 508.53 95.40 512.18 95.30 C515.82 95.20 519.71 96.22 522.60 96.40 C525.49 96.58 527.29 96.32 529.50 96.40 C531.70 96.48 533.62 96.28 535.83 96.90 C538.04 97.52 540.67 99.05 542.78 100.13 C544.89 101.21 546.59 103.40 548.50 103.40" stroke="#ff2020" stroke-width="1.0" stroke-dasharray="3.5 2.0"/>
<path d="M548.50 103.40 C550.34 103.40 551.98 101.27 554.02 100.19 C556.06 99.11 558.59 97.53 560.73 96.90 C562.87 96.27 564.71 96.48 566.84 96.40 C568.97 96.32 571.28 96.40 573.50 96.40" stroke="#ff2020" stroke-width="1.0" stroke-dasharray="3.5 2.0"/>
<path d="M609.70 96.40 C611.96 96.40 614.32 96.32 616.49 96.40 C618.66 96.48 620.55 96.27 622.73 96.90 C624.91 97.53 627.49 99.07 629.57 100.16 C631.65 101.24 633.32 103.40 635.20 103.40" stroke="#ff2020" stroke-width="1.0" stroke-dasharray="3.5 2.0"/>
<path d="M395.60 140.90 C396.80 140.90 397.95 140.15 399.20 139.66 C400.45 139.17 401.68 138.72 403.10 137.97 C404.52 137.23 406.22 136.03 407.70 135.20 C409.18 134.37 410.58 133.67 412.00 133.00 C413.42 132.33 414.71 131.80 416.20 131.20 C417.69 130.60 419.33 130.45 420.95 129.40 C422.57 128.35 424.19 126.82 425.90 124.90 C427.61 122.98 429.27 120.02 431.20 117.90 C433.13 115.78 435.75 113.50 437.50 112.20 C439.25 110.90 440.18 110.45 441.70 110.10 C443.22 109.75 444.85 110.32 446.60 110.10 C448.35 109.88 450.43 109.13 452.20 108.80 C453.97 108.47 455.17 108.37 457.20 108.10 C459.23 107.83 461.97 107.38 464.40 107.20 C466.83 107.02 469.33 107.00 471.80 107.00" stroke="#ff2020" stroke-width="1.0" stroke-dasharray="3.5 2.0"/>
<path d="M471.80 107.00 C474.32 107.00 476.87 107.02 479.35 107.20 C481.83 107.38 484.62 107.83 486.69 108.10 C488.76 108.37 489.99 108.47 491.79 108.80 C493.59 109.13 495.75 109.88 497.50 110.10 C499.25 110.32 500.81 109.75 502.29 110.10 C503.78 110.45 504.69 110.90 506.40 112.20 C508.12 113.50 510.68 115.78 512.57 117.90 C514.46 120.02 516.08 122.98 517.76 124.90 C519.43 126.82 520.98 128.35 522.60 129.40 C524.22 130.45 525.93 130.60 527.45 131.20 C528.98 131.80 530.30 132.33 531.74 133.00 C533.19 133.67 534.62 134.37 536.14 135.20 C537.65 136.03 539.39 137.21 540.84 137.95 C542.28 138.69 543.54 139.16 544.82 139.65 C546.10 140.14 547.27 140.90 548.50 140.90" stroke="#ff2020" stroke-width="1.0" stroke-dasharray="3.5 2.0"/>
<path d="M548.50 140.90 C549.68 140.90 550.82 140.15 552.05 139.67 C553.28 139.18 554.50 138.73 555.90 137.99 C557.29 137.25 558.97 136.04 560.43 135.21 C561.90 134.38 563.28 133.67 564.67 133.00 C566.07 132.33 567.34 131.80 568.82 131.20 C570.29 130.60 571.94 129.40 573.50 129.40" stroke="#ff2020" stroke-width="1.0" stroke-dasharray="3.5 2.0"/>
<path d="M609.70 129.40 C611.29 129.40 612.98 130.60 614.48 131.20 C615.98 131.80 617.28 132.33 618.70 133.00 C620.13 133.67 621.54 134.37 623.03 135.20 C624.52 136.03 626.23 137.23 627.66 137.97 C629.08 138.71 630.32 139.17 631.58 139.66 C632.84 140.15 633.99 140.90 635.20 140.90" stroke="#ff2020" stroke-width="1.0" stroke-dasharray="3.5 2.0"/>
<path d="M395.60 141.20 C396.80 141.20 397.95 140.51 399.20 140.06 C400.45 139.61 401.68 139.19 403.10 138.47 C404.52 137.76 406.22 136.60 407.70 135.80 C409.18 135.00 410.58 134.33 412.00 133.70 C413.42 133.07 414.71 132.55 416.20 132.00 C417.69 131.45 419.33 131.07 420.95 130.40 C422.57 129.73 423.33 128.92 425.90 128.00 C428.48 127.08 433.25 126.05 436.40 124.90 C439.55 123.75 443.10 121.77 444.80 121.10 C446.50 120.43 445.37 121.33 446.60 120.90 C447.83 120.47 450.40 119.52 452.20 118.50 C454.00 117.48 455.65 116.03 457.40 114.80 C459.15 113.57 461.12 112.10 462.70 111.10 C464.28 110.10 465.38 109.43 466.90 108.80 C468.42 108.17 470.17 107.30 471.80 107.30" stroke="#ff2020" stroke-width="1.0" stroke-dasharray="3.5 2.0"/>
<path d="M471.80 107.30 C473.47 107.30 475.25 108.17 476.80 108.80 C478.34 109.43 479.47 110.10 481.08 111.10 C482.70 112.10 484.70 113.57 486.49 114.80 C488.27 116.03 489.95 117.48 491.79 118.50 C493.62 119.52 496.25 120.47 497.50 120.90 C498.75 121.33 497.60 120.43 499.26 121.10 C500.92 121.77 504.40 123.75 507.48 124.90 C510.56 126.05 515.24 127.08 517.76 128.00 C520.28 128.92 520.98 129.73 522.60 130.40 C524.22 131.07 525.93 131.45 527.45 132.00 C528.98 132.55 530.30 133.07 531.74 133.70 C533.19 134.33 534.62 135.01 536.14 135.80 C537.65 136.59 539.39 137.74 540.84 138.45 C542.28 139.16 543.54 139.59 544.82 140.05 C546.10 140.51 547.27 141.20 548.50 141.20" stroke="#ff2020" stroke-width="1.0" stroke-dasharray="3.5 2.0"/>
<path d="M548.50 141.20 C549.68 141.20 550.82 140.52 552.05 140.07 C553.28 139.62 554.50 139.20 555.90 138.49 C557.29 137.78 558.97 136.61 560.43 135.81 C561.90 135.01 563.28 134.34 564.67 133.70 C566.07 133.06 567.34 132.55 568.82 132.00 C570.29 131.45 571.94 130.40 573.50 130.40" stroke="#ff2020" stroke-width="1.0" stroke-dasharray="3.5 2.0"/>
<path d="M609.70 130.40 C611.29 130.40 612.98 131.45 614.48 132.00 C615.98 132.55 617.28 133.07 618.70 133.70 C620.13 134.33 621.54 135.01 623.03 135.80 C624.52 136.59 626.23 137.76 627.66 138.47 C629.08 139.18 630.32 139.60 631.58 140.06 C632.84 140.51 633.99 141.20 635.20 141.20" stroke="#ff2020" stroke-width="1.0" stroke-dasharray="3.5 2.0"/>
<path d="M395.60 141.50 C396.80 141.50 397.95 140.90 399.20 140.46 C400.45 140.02 401.68 139.55 403.10 138.88 C404.52 138.20 406.22 137.13 407.70 136.40 C409.18 135.67 410.58 135.08 412.00 134.50 C413.42 133.92 414.71 133.40 416.20 132.90 C417.69 132.40 418.45 131.97 420.95 131.50 C423.45 131.03 427.74 130.58 431.20 130.10 C434.66 129.62 439.13 128.85 441.70 128.60 C444.27 128.35 444.15 128.60 446.60 128.60 C449.05 128.60 454.07 129.05 456.40 128.60 C458.73 128.15 459.03 127.33 460.60 125.90 C462.17 124.47 464.37 121.30 465.80 120.00 C467.23 118.70 468.20 118.43 469.20 118.10 C470.20 117.77 470.93 118.00 471.80 118.00" stroke="#ff2020" stroke-width="1.0" stroke-dasharray="3.5 2.0"/>
<path d="M471.80 118.00 C472.68 118.00 473.43 117.77 474.45 118.10 C475.47 118.43 476.46 118.70 477.92 120.00 C479.38 121.30 481.62 124.47 483.22 125.90 C484.82 127.33 485.13 128.15 487.51 128.60 C489.89 129.05 495.04 128.60 497.50 128.60 C499.96 128.60 499.78 128.35 502.29 128.60 C504.81 128.85 509.19 129.62 512.57 130.10 C515.95 130.58 520.12 131.03 522.60 131.50 C525.08 131.97 525.93 132.40 527.45 132.90 C528.98 133.40 530.30 133.92 531.74 134.50 C533.19 135.08 534.62 135.67 536.14 136.40 C537.65 137.13 539.39 138.18 540.84 138.85 C542.28 139.53 543.54 140.01 544.82 140.45 C546.10 140.89 547.27 141.50 548.50 141.50" stroke="#ff2020" stroke-width="1.0" stroke-dasharray="3.5 2.0"/>
<path d="M548.50 141.50 C549.68 141.50 550.82 140.90 552.05 140.47 C553.28 140.03 554.50 139.57 555.90 138.89 C557.29 138.21 558.97 137.14 560.43 136.41 C561.90 135.68 563.28 135.09 564.67 134.50 C566.07 133.91 567.34 133.40 568.82 132.90 C570.29 132.40 571.94 131.50 573.50 131.50" stroke="#ff2020" stroke-width="1.0" stroke-dasharray="3.5 2.0"/>
<path d="M609.70 131.50 C611.29 131.50 612.98 132.40 614.48 132.90 C615.98 133.40 617.28 133.92 618.70 134.50 C620.13 135.08 621.54 135.67 623.03 136.40 C624.52 137.13 626.23 138.19 627.66 138.87 C629.08 139.54 630.32 140.02 631.58 140.46 C632.84 140.90 633.99 141.50 635.20 141.50" stroke="#ff2020" stroke-width="1.0" stroke-dasharray="3.5 2.0"/>
<path d="M395.60 145.20 C398.37 145.20 400.90 142.49 403.90 141.06 C406.90 139.62 410.87 137.49 413.60 136.60 C416.33 135.71 418.53 135.70 420.30 135.70 C422.07 135.70 423.15 136.12 424.20 136.60 C425.25 137.08 425.85 137.75 426.60 138.60 C427.35 139.45 427.85 139.97 428.70 141.70 C429.55 143.43 430.78 147.00 431.70 149.00 C432.62 151.00 433.53 152.62 434.20 153.70 C434.87 154.78 435.12 155.42 435.70 155.50 C436.28 155.58 436.95 154.73 437.70 154.20 C438.45 153.67 438.78 152.72 440.20 152.30 C441.62 151.88 444.18 151.60 446.20 151.70 C448.22 151.80 450.68 152.30 452.30 152.90 C453.92 153.50 454.48 153.78 455.90 155.30 C457.32 156.82 459.18 160.02 460.80 162.00 C462.42 163.98 464.28 165.90 465.60 167.20 C466.92 168.50 467.67 169.12 468.70 169.80 C469.73 170.48 470.77 171.30 471.80 171.30" stroke="#ff2020" stroke-width="1.0" stroke-dasharray="3.5 2.0"/>
<path d="M471.80 171.30 C472.85 171.30 473.91 170.48 474.96 169.80 C476.02 169.12 476.78 168.50 478.12 167.20 C479.47 165.90 481.37 163.98 483.02 162.00 C484.67 160.02 486.57 156.82 488.02 155.30 C489.46 153.78 490.04 153.50 491.69 152.90 C493.33 152.30 495.88 151.80 497.89 151.70 C499.90 151.60 502.38 151.88 503.76 152.30 C505.15 152.72 505.48 153.67 506.21 154.20 C506.94 154.73 507.60 155.58 508.17 155.50 C508.74 155.42 508.98 154.78 509.63 153.70 C510.29 152.62 511.18 151.00 512.08 149.00 C512.98 147.00 514.18 143.43 515.02 141.70 C515.85 139.97 516.34 139.45 517.07 138.60 C517.81 137.75 518.39 137.08 519.42 136.60 C520.45 136.12 521.48 135.70 523.26 135.70 C525.05 135.70 527.32 135.71 530.11 136.60 C532.90 137.49 536.95 139.59 540.02 141.03 C543.09 142.46 545.67 145.20 548.50 145.20" stroke="#ff2020" stroke-width="1.0" stroke-dasharray="3.5 2.0"/>
<path d="M548.50 145.20 C551.23 145.20 553.73 142.51 556.69 141.07 C559.64 139.64 563.56 137.50 566.25 136.60 C568.95 135.70 571.65 135.82 572.86 135.70 C574.07 135.57 573.29 135.85 573.50 135.85" stroke="#ff2020" stroke-width="1.0" stroke-dasharray="3.5 2.0"/>
<path d="M609.70 135.85 C609.92 135.85 609.12 135.57 610.35 135.70 C611.59 135.82 614.34 135.71 617.09 136.60 C619.84 137.49 623.83 139.61 626.85 141.05 C629.87 142.48 632.42 145.20 635.20 145.20" stroke="#ff2020" stroke-width="1.0" stroke-dasharray="3.5 2.0"/>
<path d="M395.60 152.80 C398.37 152.80 400.90 150.81 403.90 149.75 C406.90 148.70 410.70 147.26 413.60 146.50 C416.50 145.74 419.20 145.55 421.30 145.20 C423.40 144.85 424.88 144.63 426.20 144.40 C427.52 144.17 428.22 144.10 429.20 143.80 C430.18 143.50 431.10 143.37 432.10 142.60 C433.10 141.83 434.13 140.37 435.20 139.20 C436.27 138.03 437.50 136.77 438.50 135.60 C439.50 134.43 440.33 133.07 441.20 132.20 C442.07 131.33 442.80 130.80 443.70 130.40 C444.60 130.00 445.52 129.58 446.60 129.80 C447.68 130.02 449.17 130.97 450.20 131.70 C451.23 132.43 451.95 133.33 452.80 134.20 C453.65 135.07 454.45 136.02 455.30 136.90 C456.15 137.78 457.03 138.70 457.90 139.50 C458.77 140.30 459.12 140.98 460.50 141.70 C461.88 142.42 464.32 143.35 466.20 143.80 C468.08 144.25 469.93 144.40 471.80 144.40" stroke="#ff2020" stroke-width="1.0" stroke-dasharray="3.5 2.0"/>
<path d="M471.80 144.40 C473.70 144.40 475.59 144.25 477.51 143.80 C479.43 143.35 481.91 142.42 483.32 141.70 C484.73 140.98 485.09 140.30 485.98 139.50 C486.86 138.70 487.76 137.78 488.63 136.90 C489.49 136.02 490.31 135.07 491.18 134.20 C492.04 133.33 492.77 132.43 493.83 131.70 C494.88 130.97 496.42 130.02 497.50 129.80 C498.58 129.58 499.46 130.00 500.34 130.40 C501.22 130.80 501.94 131.33 502.78 132.20 C503.63 133.07 504.45 134.43 505.43 135.60 C506.40 136.77 507.61 138.03 508.66 139.20 C509.70 140.37 510.71 141.83 511.69 142.60 C512.67 143.37 513.56 143.50 514.53 143.80 C515.49 144.10 516.17 144.17 517.46 144.40 C518.75 144.63 520.15 144.85 522.26 145.20 C524.37 145.55 527.15 145.75 530.11 146.50 C533.07 147.25 536.95 148.68 540.02 149.73 C543.09 150.78 545.67 152.80 548.50 152.80" stroke="#ff2020" stroke-width="1.0" stroke-dasharray="3.5 2.0"/>
<path d="M548.50 152.80 C551.23 152.80 553.73 150.82 556.69 149.77 C559.64 148.72 563.45 147.25 566.25 146.50 C569.05 145.75 571.08 145.26 573.50 145.26" stroke="#ff2020" stroke-width="1.0" stroke-dasharray="3.5 2.0"/>
<path d="M609.70 145.26 C612.16 145.26 614.24 145.75 617.09 146.50 C619.95 147.25 623.83 148.70 626.85 149.75 C629.87 150.80 632.42 152.80 635.20 152.80" stroke="#ff2020" stroke-width="1.0" stroke-dasharray="3.5 2.0"/>
<path d="M395.60 173.20 C396.30 173.20 396.98 171.91 397.70 171.16 C398.42 170.41 399.15 169.65 399.90 168.71 C400.65 167.78 401.38 166.58 402.20 165.56 C403.02 164.54 403.88 163.60 404.80 162.59 C405.72 161.58 406.57 160.75 407.70 159.50 C408.83 158.25 410.47 156.28 411.60 155.10 C412.73 153.92 413.40 153.30 414.50 152.40 C415.60 151.50 417.08 150.40 418.20 149.70 C419.32 149.00 420.07 148.65 421.20 148.20 C422.33 147.75 423.62 147.40 425.00 147.00 C426.38 146.60 427.63 146.05 429.50 145.80 C431.37 145.55 433.35 145.55 436.20 145.50 C439.05 145.45 443.92 145.27 446.60 145.50 C449.28 145.73 450.75 146.17 452.30 146.90 C453.85 147.63 454.90 149.00 455.90 149.90 C456.90 150.80 457.28 150.70 458.30 152.30 C459.32 153.90 460.58 157.18 462.00 159.50 C463.42 161.82 465.60 164.58 466.80 166.20 C468.00 167.82 468.37 168.35 469.20 169.20 C470.03 170.05 470.93 171.30 471.80 171.30" stroke="#ff2020" stroke-width="1.0" stroke-dasharray="3.5 2.0"/>
<path d="M471.80 171.30 C472.68 171.30 473.60 170.05 474.45 169.20 C475.30 168.35 475.68 167.82 476.90 166.20 C478.12 164.58 480.35 161.82 481.79 159.50 C483.24 157.18 484.53 153.90 485.57 152.30 C486.60 150.70 487.00 150.80 488.02 149.90 C489.04 149.00 490.11 147.63 491.69 146.90 C493.27 146.17 494.83 145.73 497.50 145.50 C500.17 145.27 504.89 145.45 507.68 145.50 C510.47 145.55 512.41 145.55 514.23 145.80 C516.06 146.05 517.28 146.60 518.64 147.00 C519.99 147.40 521.23 147.75 522.36 148.20 C523.48 148.65 524.27 149.00 525.41 149.70 C526.55 150.40 528.07 151.50 529.19 152.40 C530.31 153.30 530.99 153.92 532.15 155.10 C533.31 156.28 534.98 158.25 536.14 159.50 C537.30 160.75 538.16 161.56 539.10 162.57 C540.04 163.58 540.92 164.53 541.76 165.55 C542.59 166.57 543.34 167.77 544.11 168.71 C544.87 169.64 545.62 170.41 546.35 171.16 C547.09 171.91 547.78 173.20 548.50 173.20" stroke="#ff2020" stroke-width="1.0" stroke-dasharray="3.5 2.0"/>
<path d="M548.50 173.20 C549.19 173.20 549.86 171.91 550.57 171.16 C551.28 170.41 552.00 169.65 552.74 168.72 C553.48 167.78 554.20 166.59 555.01 165.57 C555.81 164.55 556.67 163.61 557.57 162.60 C558.48 161.58 559.32 160.75 560.43 159.50 C561.55 158.26 563.16 156.28 564.28 155.10 C565.40 153.92 566.05 153.30 567.14 152.40 C568.22 151.50 569.73 150.38 570.79 149.70 C571.85 149.02 572.60 148.32 573.50 148.32" stroke="#ff2020" stroke-width="1.0" stroke-dasharray="3.5 2.0"/>
<path d="M609.70 148.32 C610.62 148.32 611.38 149.02 612.47 149.70 C613.55 150.38 615.08 151.50 616.19 152.40 C617.29 153.30 617.97 153.92 619.11 155.10 C620.25 156.28 621.89 158.25 623.03 159.50 C624.17 160.75 625.02 161.57 625.95 162.58 C626.87 163.59 627.74 164.54 628.56 165.56 C629.38 166.58 630.12 167.78 630.87 168.71 C631.63 169.65 632.37 170.41 633.09 171.16 C633.81 171.91 634.50 173.20 635.20 173.20" stroke="#ff2020" stroke-width="1.0" stroke-dasharray="3.5 2.0"/>
<path d="M395.60 163.80 C397.70 163.80 400.37 162.30 401.90 161.78 C403.43 161.26 403.67 161.40 404.80 160.69 C405.93 159.97 407.25 158.51 408.70 157.50 C410.15 156.49 411.90 155.35 413.50 154.60 C415.10 153.85 416.85 153.37 418.30 153.00 C419.75 152.63 420.90 152.60 422.20 152.40 C423.50 152.20 424.67 151.80 426.10 151.80 C427.53 151.80 429.53 152.00 430.80 152.40 C432.07 152.80 432.88 153.68 433.70 154.20 C434.52 154.72 435.03 155.50 435.70 155.50" stroke="#ff2020" stroke-width="1.0" stroke-dasharray="3.5 2.0"/>
<path d="M508.17 155.50 C508.82 155.50 509.32 154.72 510.12 154.20 C510.92 153.68 511.72 152.80 512.96 152.40 C514.20 152.00 516.16 151.80 517.56 151.80 C518.96 151.80 520.09 152.20 521.38 152.40 C522.67 152.60 523.84 152.63 525.31 153.00 C526.78 153.37 528.58 153.85 530.21 154.60 C531.85 155.35 533.63 156.49 535.12 157.50 C536.60 158.51 537.94 159.96 539.10 160.67 C540.26 161.39 540.50 161.25 542.06 161.77 C543.63 162.29 546.35 163.80 548.50 163.80" stroke="#ff2020" stroke-width="1.0" stroke-dasharray="3.5 2.0"/>
<path d="M548.50 163.80 C550.57 163.80 553.20 162.30 554.71 161.79 C556.23 161.27 556.46 161.41 557.57 160.70 C558.69 159.98 559.99 158.52 561.42 157.50 C562.85 156.48 564.57 155.35 566.15 154.60 C567.73 153.85 569.66 153.33 570.89 153.00 C572.11 152.67 572.63 152.59 573.50 152.59" stroke="#ff2020" stroke-width="1.0" stroke-dasharray="3.5 2.0"/>
<path d="M609.70 152.59 C610.59 152.59 611.12 152.67 612.37 153.00 C613.61 153.33 615.58 153.85 617.19 154.60 C618.80 155.35 620.56 156.49 622.02 157.50 C623.48 158.51 624.81 159.97 625.95 160.68 C627.09 161.40 627.32 161.26 628.86 161.78 C630.41 162.30 633.09 163.80 635.20 163.80" stroke="#ff2020" stroke-width="1.0" stroke-dasharray="3.5 2.0"/>
<path d="M420.95 171.10 C421.90 171.10 422.93 170.60 423.80 170.20 C424.68 169.80 425.25 169.43 426.20 168.70 C427.15 167.97 428.42 166.97 429.50 165.80 C430.58 164.63 431.67 163.00 432.70 161.70 C433.73 160.40 434.78 158.32 435.70 158.00 C436.62 157.68 437.45 159.17 438.20 159.80 C438.95 160.43 439.07 160.90 440.20 161.80 C441.33 162.70 443.58 164.60 445.00 165.20 C446.42 165.80 447.75 165.65 448.70 165.40 C449.65 165.15 450.10 164.52 450.70 163.70 C451.30 162.88 451.43 162.00 452.30 160.50 C453.17 159.00 454.90 156.07 455.90 154.70 C456.90 153.33 457.28 153.30 458.30 152.30 C459.32 151.30 460.58 149.82 462.00 148.70 C463.42 147.58 465.17 146.32 466.80 145.60 C468.43 144.88 470.13 144.40 471.80 144.40" stroke="#ff2020" stroke-width="1.0" stroke-dasharray="3.5 2.0"/>
<path d="M471.80 144.40 C473.50 144.40 475.23 144.88 476.90 145.60 C478.56 146.32 480.35 147.58 481.79 148.70 C483.24 149.82 484.53 151.30 485.57 152.30 C486.60 153.30 487.00 153.33 488.02 154.70 C489.04 156.07 490.80 159.00 491.69 160.50 C492.57 162.00 492.71 162.88 493.32 163.70 C493.93 164.52 494.40 165.15 495.36 165.40 C496.32 165.65 497.66 165.80 499.07 165.20 C500.47 164.60 502.65 162.70 503.76 161.80 C504.87 160.90 504.99 160.43 505.72 159.80 C506.45 159.17 507.27 157.68 508.17 158.00 C509.06 158.32 510.09 160.40 511.10 161.70 C512.11 163.00 513.17 164.63 514.23 165.80 C515.29 166.97 516.53 167.97 517.46 168.70 C518.39 169.43 518.95 169.80 519.81 170.20 C520.67 170.60 521.67 171.10 522.60 171.10" stroke="#ff2020" stroke-width="1.0" stroke-dasharray="3.5 2.0"/>
<path d="M395.60 173.30 C399.30 173.30 403.23 171.03 406.70 170.66 C410.17 170.29 414.03 171.03 416.40 171.10 C418.78 171.17 418.77 171.70 420.95 171.10 C423.13 170.50 426.29 168.25 429.50 167.50 C432.71 166.75 437.38 166.87 440.20 166.60 C443.02 166.33 444.38 165.87 446.40 165.90 C448.42 165.93 450.32 166.48 452.30 166.80 C454.28 167.12 456.28 167.30 458.30 167.80 C460.32 168.30 462.75 169.30 464.40 169.80 C466.05 170.30 466.97 170.55 468.20 170.80 C469.43 171.05 470.60 171.30 471.80 171.30" stroke="#ff2020" stroke-width="1.0" stroke-dasharray="3.5 2.0"/>
<path d="M471.80 171.30 C473.02 171.30 474.21 171.05 475.47 170.80 C476.73 170.55 477.66 170.30 479.35 169.80 C481.03 169.30 483.51 168.30 485.57 167.80 C487.62 167.30 489.67 167.12 491.69 166.80 C493.71 166.48 495.68 165.93 497.70 165.90 C499.71 165.87 501.01 166.33 503.76 166.60 C506.52 166.87 511.09 166.75 514.23 167.50 C517.37 168.25 520.43 170.50 522.60 171.10 C524.77 171.70 524.82 171.18 527.25 171.10 C529.68 171.02 533.62 170.28 537.16 170.64 C540.70 171.01 544.72 173.30 548.50 173.30" stroke="#ff2020" stroke-width="1.0" stroke-dasharray="3.5 2.0"/>
<path d="M548.50 173.30 C552.15 173.30 556.03 171.04 559.45 170.67 C562.87 170.30 566.67 171.03 569.01 171.10 C571.36 171.17 572.00 171.10 573.50 171.10" stroke="#ff2020" stroke-width="1.0" stroke-dasharray="3.5 2.0"/>
<path d="M609.70 171.10 C611.23 171.10 611.89 171.17 614.28 171.10 C616.67 171.03 620.55 170.29 624.03 170.66 C627.52 171.02 631.48 173.30 635.20 173.30" stroke="#ff2020" stroke-width="1.0" stroke-dasharray="3.5 2.0"/>
<path d="M395.60 216.40 C396.47 213.25 397.27 209.91 398.20 206.94 C399.13 203.96 400.28 200.86 401.20 198.53 C402.12 196.20 402.92 194.50 403.70 192.96 C404.48 191.42 404.95 190.56 405.90 189.31 C406.85 188.07 408.02 186.80 409.40 185.50 C410.78 184.20 412.28 182.52 414.20 181.50 C416.13 180.48 419.12 179.57 420.95 179.40 C422.78 179.23 423.81 179.95 425.20 180.50 C426.59 181.05 427.63 181.78 429.30 182.70 C430.97 183.62 433.22 185.22 435.20 186.00 C437.18 186.78 439.30 187.10 441.20 187.40 C443.10 187.70 444.48 187.82 446.60 187.80 C448.72 187.78 451.55 187.82 453.90 187.30 C456.25 186.78 458.65 185.38 460.70 184.70 C462.75 184.02 464.35 183.57 466.20 183.20 C468.05 182.83 469.93 182.50 471.80 182.50" stroke="#ff2020" stroke-width="1.0" stroke-dasharray="3.5 2.0"/>
<path d="M471.80 182.50 C473.70 182.50 475.62 182.83 477.51 183.20 C479.40 183.57 481.03 184.02 483.12 184.70 C485.21 185.38 487.66 186.78 490.06 187.30 C492.45 187.82 495.38 187.78 497.50 187.80 C499.62 187.82 500.92 187.70 502.78 187.40 C504.64 187.10 506.71 186.78 508.66 186.00 C510.60 185.22 512.80 183.62 514.43 182.70 C516.06 181.78 517.08 181.05 518.44 180.50 C519.80 179.95 520.76 179.23 522.60 179.40 C524.44 179.57 527.53 180.48 529.50 181.50 C531.46 182.52 532.99 184.20 534.40 185.50 C535.81 186.80 537.01 188.06 537.98 189.30 C538.95 190.54 539.42 191.41 540.22 192.95 C541.02 194.48 541.84 196.19 542.78 198.52 C543.72 200.85 544.89 203.95 545.84 206.93 C546.80 209.91 547.61 213.24 548.50 216.40" stroke="#ff2020" stroke-width="1.0" stroke-dasharray="3.5 2.0"/>
<path d="M548.50 216.40 C549.35 213.25 550.14 209.91 551.06 206.94 C551.98 203.96 553.12 200.86 554.02 198.53 C554.93 196.20 555.72 194.50 556.49 192.97 C557.26 191.43 557.72 190.57 558.66 189.32 C559.59 188.08 560.75 186.80 562.11 185.50 C563.47 184.20 564.94 182.52 566.84 181.50 C568.74 180.48 571.28 179.40 573.50 179.40" stroke="#ff2020" stroke-width="1.0" stroke-dasharray="3.5 2.0"/>
<path d="M609.70 179.40 C611.96 179.40 614.55 180.48 616.49 181.50 C618.43 182.52 619.93 184.20 621.32 185.50 C622.71 186.80 623.88 188.07 624.84 189.31 C625.79 190.55 626.26 191.42 627.05 192.96 C627.84 194.49 628.64 196.19 629.57 198.52 C630.49 200.85 631.65 203.96 632.58 206.93 C633.52 209.91 634.33 213.24 635.20 216.40" stroke="#ff2020" stroke-width="1.0" stroke-dasharray="3.5 2.0"/>
<path d="M395.60 216.40 C396.47 214.58 397.27 212.71 398.20 210.94 C399.13 209.16 399.92 207.88 401.20 205.76 C402.48 203.64 404.15 200.47 405.90 198.21 C407.65 195.95 409.75 193.69 411.70 192.20 C413.65 190.71 416.06 189.87 417.60 189.30 C419.14 188.73 419.00 188.78 420.95 188.80 C422.90 188.82 425.96 189.25 429.30 189.40 C432.64 189.55 438.12 189.70 441.00 189.70 C443.88 189.70 444.45 189.60 446.60 189.40 C448.75 189.20 451.55 189.12 453.90 188.50 C456.25 187.88 458.65 186.53 460.70 185.70 C462.75 184.87 464.35 183.98 466.20 183.50 C468.05 183.02 469.93 182.80 471.80 182.80" stroke="#ff2020" stroke-width="1.0" stroke-dasharray="3.5 2.0"/>
<path d="M471.80 182.80 C473.70 182.80 475.62 183.02 477.51 183.50 C479.40 183.98 481.03 184.87 483.12 185.70 C485.21 186.53 487.66 187.88 490.06 188.50 C492.45 189.12 495.35 189.20 497.50 189.40 C499.65 189.60 500.16 189.70 502.98 189.70 C505.80 189.70 511.16 189.55 514.43 189.40 C517.70 189.25 520.67 188.82 522.60 188.80 C524.53 188.78 524.45 188.73 526.02 189.30 C527.60 189.87 530.06 190.72 532.05 192.20 C534.04 193.68 536.19 195.94 537.98 198.20 C539.76 200.46 541.47 203.63 542.78 205.76 C544.09 207.88 544.89 209.16 545.84 210.93 C546.80 212.71 547.61 214.58 548.50 216.40" stroke="#ff2020" stroke-width="1.0" stroke-dasharray="3.5 2.0"/>
<path d="M548.50 216.40 C549.35 214.58 550.14 212.71 551.06 210.94 C551.98 209.16 552.76 207.88 554.02 205.76 C555.29 203.64 556.93 200.48 558.66 198.22 C560.38 195.96 562.45 193.69 564.38 192.20 C566.30 190.71 568.68 189.87 570.20 189.30 C571.72 188.73 572.40 188.80 573.50 188.80" stroke="#ff2020" stroke-width="1.0" stroke-dasharray="3.5 2.0"/>
<path d="M609.70 188.80 C610.82 188.80 611.52 188.73 613.07 189.30 C614.62 189.87 617.04 190.72 619.00 192.20 C620.97 193.68 623.08 195.95 624.84 198.21 C626.60 200.47 628.28 203.64 629.57 205.76 C630.86 207.88 631.65 209.16 632.58 210.93 C633.52 212.71 634.33 214.58 635.20 216.40" stroke="#ff2020" stroke-width="1.0" stroke-dasharray="3.5 2.0"/>
<path d="M573.50 34.30 C576.50 34.30 579.47 34.32 582.50 34.50 C585.53 34.68 588.63 35.40 591.70 35.40 C594.77 35.40 597.90 34.68 600.90 34.50 C603.90 34.32 606.77 34.30 609.70 34.30" stroke="#ff2020" stroke-width="1.0" stroke-dasharray="3.5 2.0"/>
<path d="M573.50 85.70 C576.40 85.70 579.18 86.18 582.20 86.40 C585.22 86.62 588.47 87.00 591.60 87.00 C594.73 87.00 597.98 86.62 601.00 86.40 C604.02 86.18 606.80 85.70 609.70 85.70" stroke="#ff2020" stroke-width="1.0" stroke-dasharray="3.5 2.0"/>
<path d="M573.50 96.90 C574.73 96.90 575.65 97.12 577.20 96.80 C578.75 96.48 581.13 95.72 582.80 95.00 C584.47 94.28 585.73 93.03 587.20 92.50 C588.67 91.97 590.18 91.80 591.60 91.80 C593.02 91.80 594.27 92.00 595.70 92.50 C597.13 93.00 598.62 94.13 600.20 94.80 C601.78 95.47 603.62 96.15 605.20 96.50 C606.78 96.85 608.20 96.90 609.70 96.90" stroke="#ff2020" stroke-width="1.0" stroke-dasharray="3.5 2.0"/>
<path d="M573.50 100.80 C575.40 100.80 577.13 100.62 579.20 100.30 C581.27 99.98 583.83 99.17 585.90 98.90 C587.97 98.63 589.85 98.70 591.60 98.70 C593.35 98.70 594.47 98.67 596.40 98.90 C598.33 99.13 600.98 99.78 603.20 100.10 C605.42 100.42 607.53 100.80 609.70 100.80" stroke="#ff2020" stroke-width="1.0" stroke-dasharray="3.5 2.0"/>
<path d="M573.50 129.30 C574.73 129.30 575.93 128.55 577.20 128.20 C578.47 127.85 579.77 127.33 581.10 127.20 C582.43 127.07 583.45 127.30 585.20 127.40 C586.95 127.50 589.52 127.80 591.60 127.80 C593.68 127.80 595.97 127.50 597.70 127.40 C599.43 127.30 600.58 127.07 602.00 127.20 C603.42 127.33 604.92 127.85 606.20 128.20 C607.48 128.55 608.53 129.30 609.70 129.30" stroke="#ff2020" stroke-width="1.0" stroke-dasharray="3.5 2.0"/>
<path d="M573.50 131.10 C574.73 131.10 575.93 131.32 577.20 131.50 C578.47 131.68 579.60 131.93 581.10 132.20 C582.60 132.47 584.45 132.87 586.20 133.10 C587.95 133.33 589.80 133.60 591.60 133.60 C593.40 133.60 595.23 133.33 597.00 133.10 C598.77 132.87 600.67 132.47 602.20 132.20 C603.73 131.93 604.95 131.68 606.20 131.50 C607.45 131.32 608.53 131.10 609.70 131.10" stroke="#ff2020" stroke-width="1.0" stroke-dasharray="3.5 2.0"/>
<path d="M573.50 135.50 C574.73 135.50 576.00 136.33 577.20 137.20 C578.40 138.07 579.53 139.48 580.70 140.70 C581.87 141.92 582.95 143.47 584.20 144.50 C585.45 145.53 586.97 146.38 588.20 146.90 C589.43 147.42 590.43 147.60 591.60 147.60 C592.77 147.60 593.93 147.42 595.20 146.90 C596.47 146.38 597.95 145.53 599.20 144.50 C600.45 143.47 601.53 141.92 602.70 140.70 C603.87 139.48 605.03 138.07 606.20 137.20 C607.37 136.33 608.53 135.50 609.70 135.50" stroke="#ff2020" stroke-width="1.0" stroke-dasharray="3.5 2.0"/>
<path d="M573.50 144.80 C574.73 144.80 576.00 144.27 577.20 143.80 C578.40 143.33 579.53 142.68 580.70 142.00 C581.87 141.32 582.95 140.40 584.20 139.70 C585.45 139.00 586.97 138.20 588.20 137.80 C589.43 137.40 590.43 137.30 591.60 137.30 C592.77 137.30 593.93 137.40 595.20 137.80 C596.47 138.20 597.95 139.00 599.20 139.70 C600.45 140.40 601.53 141.32 602.70 142.00 C603.87 142.68 605.03 143.33 606.20 143.80 C607.37 144.27 608.53 144.80 609.70 144.80" stroke="#ff2020" stroke-width="1.0" stroke-dasharray="3.5 2.0"/>
<path d="M573.50 148.20 C576.40 148.20 579.18 149.37 582.20 149.70 C585.22 150.03 588.43 150.20 591.60 150.20 C594.77 150.20 598.18 150.03 601.20 149.70 C604.22 149.37 606.87 148.20 609.70 148.20" stroke="#ff2020" stroke-width="1.0" stroke-dasharray="3.5 2.0"/>
<path d="M573.50 152.60 C576.40 152.60 579.18 152.20 582.20 152.10 C585.22 152.00 588.43 152.00 591.60 152.00 C594.77 152.00 598.18 152.00 601.20 152.10 C604.22 152.20 606.87 152.60 609.70 152.60" stroke="#ff2020" stroke-width="1.0" stroke-dasharray="3.5 2.0"/>
<path d="M573.50 171.10 C576.40 171.10 579.18 170.83 582.20 170.70 C585.22 170.57 588.43 170.30 591.60 170.30 C594.77 170.30 598.18 170.57 601.20 170.70 C604.22 170.83 606.87 171.10 609.70 171.10" stroke="#ff2020" stroke-width="1.0" stroke-dasharray="3.5 2.0"/>
<path d="M573.50 171.10 C574.43 171.10 574.85 170.78 576.30 170.30 C577.75 169.82 579.65 168.80 582.20 168.20 C584.75 167.60 588.43 166.70 591.60 166.70 C594.77 166.70 598.65 167.60 601.20 168.20 C603.75 168.80 605.48 169.82 606.90 170.30 C608.32 170.78 608.77 171.10 609.70 171.10" stroke="#ff2020" stroke-width="1.0" stroke-dasharray="3.5 2.0"/>
<path d="M573.50 178.80 C574.73 178.80 575.63 179.27 577.20 179.80 C578.77 180.33 581.23 181.30 582.90 182.00 C584.57 182.70 585.75 183.52 587.20 184.00 C588.65 184.48 590.10 184.90 591.60 184.90 C593.10 184.90 594.75 184.48 596.20 184.00 C597.65 183.52 598.63 182.70 600.30 182.00 C601.97 181.30 604.63 180.33 606.20 179.80 C607.77 179.27 608.53 178.80 609.70 178.80" stroke="#ff2020" stroke-width="1.0" stroke-dasharray="3.5 2.0"/>
<path d="M573.50 188.80 C575.07 188.80 576.63 188.88 578.20 189.10 C579.77 189.32 581.65 189.70 582.90 190.10 C584.15 190.50 584.77 190.82 585.70 191.50 C586.63 192.18 587.52 193.48 588.50 194.20 C589.48 194.92 590.57 195.80 591.60 195.80 C592.63 195.80 593.72 194.92 594.70 194.20 C595.68 193.48 596.58 192.18 597.50 191.50 C598.42 190.82 598.92 190.50 600.20 190.10 C601.48 189.70 603.62 189.32 605.20 189.10 C606.78 188.88 608.20 188.80 609.70 188.80" stroke="#ff2020" stroke-width="1.0" stroke-dasharray="3.5 2.0"/>
<path d="M573.50 188.80 C576.63 188.80 579.88 189.65 582.90 190.10 C585.92 190.55 588.72 191.50 591.60 191.50 C594.48 191.50 597.18 190.55 600.20 190.10 C603.22 189.65 606.53 188.80 609.70 188.80" stroke="#ff2020" stroke-width="1.0" stroke-dasharray="3.5 2.0"/>
<path d="M635.20 42.40 C635.30 42.40 634.55 43.88 635.50 43.89 C636.45 43.91 639.37 43.08 640.90 42.51 C642.43 41.94 643.43 41.18 644.70 40.47 C645.97 39.77 647.25 39.00 648.50 38.30 C649.75 37.60 650.92 37.07 652.20 36.30 C653.48 35.53 654.90 34.70 656.20 33.70 C657.50 32.70 658.73 31.45 660.00 30.30 C661.27 29.15 662.52 27.97 663.80 26.80 C665.08 25.63 666.42 24.37 667.70 23.30 C668.98 22.23 670.10 21.22 671.50 20.40 C672.90 19.58 674.77 18.82 676.10 18.40 C677.43 17.98 678.37 17.90 679.50 17.90" stroke="#ff2020" stroke-width="1.0" stroke-dasharray="3.5 2.0"/>
<path d="M635.20 87.80 C635.22 87.80 634.42 95.56 635.25 96.99 C636.08 98.42 638.62 96.59 640.20 96.36 C641.78 96.13 643.37 95.86 644.70 95.62 C646.03 95.38 646.98 95.09 648.20 94.90 C649.42 94.71 650.67 94.90 652.00 94.50 C653.33 94.10 654.80 93.32 656.20 92.50 C657.60 91.68 658.98 90.68 660.40 89.60 C661.82 88.52 663.28 87.10 664.70 86.00 C666.12 84.90 667.57 83.88 668.90 83.00 C670.23 82.12 671.48 81.30 672.70 80.70 C673.92 80.10 675.07 79.72 676.20 79.40 C677.33 79.08 678.40 78.80 679.50 78.80" stroke="#ff2020" stroke-width="1.0" stroke-dasharray="3.5 2.0"/>
<path d="M635.20 103.40 C635.22 103.40 634.25 100.26 635.25 99.29 C636.25 98.31 639.03 98.10 641.20 97.55 C643.38 97.00 646.13 96.04 648.30 96.00 C650.47 95.96 652.18 96.95 654.20 97.30 C656.22 97.65 658.65 97.65 660.40 98.10 C662.15 98.55 663.28 99.38 664.70 100.00 C666.12 100.62 667.57 101.17 668.90 101.80 C670.23 102.43 671.48 103.20 672.70 103.80 C673.92 104.40 675.07 105.03 676.20 105.40 C677.33 105.77 678.40 106.00 679.50 106.00" stroke="#ff2020" stroke-width="1.0" stroke-dasharray="3.5 2.0"/>
<path d="M635.20 140.90 C636.20 140.90 637.03 140.68 638.20 140.35 C639.37 140.03 641.05 139.44 642.20 138.95 C643.35 138.46 644.10 138.12 645.10 137.42 C646.10 136.71 647.07 135.79 648.20 134.70 C649.33 133.61 650.73 132.32 651.90 130.90 C653.07 129.48 654.05 128.08 655.20 126.20 C656.35 124.32 657.63 121.38 658.80 119.60 C659.97 117.82 661.07 116.77 662.20 115.50 C663.33 114.23 664.43 113.00 665.60 112.00 C666.77 111.00 668.05 110.18 669.20 109.50 C670.35 108.82 671.50 108.32 672.50 107.90 C673.50 107.48 674.28 107.23 675.20 107.00 C676.12 106.77 677.28 106.62 678.00 106.50 C678.72 106.38 679.00 106.30 679.50 106.30" stroke="#ff2020" stroke-width="1.0" stroke-dasharray="3.5 2.0"/>
<path d="M635.20 145.50 C637.53 145.50 640.02 145.30 642.20 145.15 C644.38 145.00 646.07 144.61 648.30 144.60 C650.53 144.59 653.58 145.00 655.60 145.10 C657.62 145.20 658.25 145.20 660.40 145.20 C662.55 145.20 665.32 145.22 668.50 145.10 C671.68 144.98 675.83 144.50 679.50 144.50" stroke="#ff2020" stroke-width="1.0" stroke-dasharray="3.5 2.0"/>
<path d="M635.20 145.60 C636.20 145.60 637.00 145.43 638.20 145.55 C639.40 145.67 641.07 145.94 642.40 146.32 C643.73 146.70 644.83 147.17 646.20 147.85 C647.57 148.53 649.18 149.42 650.60 150.40 C652.02 151.37 653.32 152.55 654.70 153.70 C656.08 154.85 657.65 155.97 658.90 157.30 C660.15 158.63 661.07 160.40 662.20 161.70 C663.33 163.00 664.37 164.15 665.70 165.10 C667.03 166.05 668.78 166.67 670.20 167.40 C671.62 168.13 672.65 168.90 674.20 169.50 C675.75 170.10 677.73 171.00 679.50 171.00" stroke="#ff2020" stroke-width="1.0" stroke-dasharray="3.5 2.0"/>
<path d="M635.20 152.80 C635.22 152.80 634.75 161.78 635.25 163.20 C635.75 164.61 637.24 162.01 638.20 161.30 C639.16 160.59 640.17 159.85 641.00 158.93 C641.83 158.01 642.50 156.94 643.20 155.80 C643.90 154.66 644.42 153.45 645.20 152.10 C645.98 150.75 646.77 149.12 647.90 147.70 C649.03 146.28 650.78 144.60 652.00 143.60 C653.22 142.60 654.07 142.35 655.20 141.70 C656.33 141.05 657.63 140.62 658.80 139.70 C659.97 138.78 661.07 137.43 662.20 136.20 C663.33 134.97 664.43 133.72 665.60 132.30 C666.77 130.88 668.05 129.08 669.20 127.70 C670.35 126.32 671.50 125.32 672.50 124.00 C673.50 122.68 674.28 120.73 675.20 119.80 C676.12 118.87 677.28 118.68 678.00 118.40 C678.72 118.12 679.00 118.10 679.50 118.10" stroke="#ff2020" stroke-width="1.0" stroke-dasharray="3.5 2.0"/>
<path d="M635.20 170.70 C636.53 170.70 638.00 170.25 639.20 169.93 C640.40 169.62 641.40 169.25 642.40 168.82 C643.40 168.39 644.28 167.95 645.20 167.33 C646.12 166.71 647.07 166.04 647.90 165.10 C648.73 164.16 649.52 163.00 650.20 161.70 C650.88 160.40 651.25 159.18 652.00 157.30 C652.75 155.42 653.90 152.47 654.70 150.40 C655.50 148.33 656.12 146.47 656.80 144.90 C657.48 143.33 657.90 142.37 658.80 141.00 C659.70 139.63 661.07 138.08 662.20 136.70 C663.33 135.32 664.43 134.13 665.60 132.70 C666.77 131.27 668.05 129.48 669.20 128.10 C670.35 126.72 671.50 125.73 672.50 124.40 C673.50 123.07 674.28 121.07 675.20 120.10 C676.12 119.13 677.28 118.90 678.00 118.60 C678.72 118.30 679.00 118.30 679.50 118.30" stroke="#ff2020" stroke-width="1.0" stroke-dasharray="3.5 2.0"/>
<path d="M635.20 173.80 C636.20 173.80 637.00 173.83 638.20 173.80 C639.40 173.77 641.07 173.83 642.40 173.62 C643.73 173.41 644.83 173.07 646.20 172.57 C647.57 172.06 649.27 171.36 650.60 170.60 C651.93 169.84 653.05 168.80 654.20 168.00 C655.35 167.20 656.50 166.40 657.50 165.80 C658.50 165.20 659.28 164.73 660.20 164.40 C661.12 164.07 662.00 163.87 663.00 163.80 C664.00 163.73 665.00 163.68 666.20 164.00 C667.40 164.32 668.87 164.92 670.20 165.70 C671.53 166.48 672.65 167.78 674.20 168.70 C675.75 169.62 677.73 171.20 679.50 171.20" stroke="#ff2020" stroke-width="1.0" stroke-dasharray="3.5 2.0"/>
<path d="M635.20 216.45 C636.03 213.61 636.83 210.47 637.70 207.94 C638.57 205.41 639.38 203.77 640.40 201.27 C641.42 198.77 642.83 194.93 643.80 192.93 C644.77 190.93 645.37 190.19 646.20 189.27 C647.03 188.35 647.52 187.76 648.80 187.40 C650.08 187.04 651.92 187.15 653.90 187.10 C655.88 187.05 658.43 187.53 660.70 187.10 C662.97 186.67 665.42 185.15 667.50 184.50 C669.58 183.85 671.20 183.57 673.20 183.20 C675.20 182.83 677.40 182.30 679.50 182.30" stroke="#ff2020" stroke-width="1.0" stroke-dasharray="3.5 2.0"/>
<path d="M635.20 216.45 C636.53 214.93 637.77 213.31 639.20 211.90 C640.63 210.49 642.47 209.52 643.80 207.98 C645.13 206.45 646.08 204.50 647.20 202.70 C648.32 200.90 649.42 198.70 650.50 197.20 C651.58 195.70 652.57 194.82 653.70 193.70 C654.83 192.58 656.13 191.42 657.30 190.50 C658.47 189.58 659.57 188.77 660.70 188.20 C661.83 187.63 662.68 187.60 664.10 187.10 C665.52 186.60 667.52 185.77 669.20 185.20 C670.88 184.63 672.48 184.15 674.20 183.70 C675.92 183.25 677.73 182.50 679.50 182.50" stroke="#ff2020" stroke-width="1.0" stroke-dasharray="3.5 2.0"/>
<path d="M395.60 42.40 C399.73 42.40 403.78 40.88 408.00 40.20 C412.23 39.52 417.38 38.77 420.95 38.30 C424.52 37.83 426.96 38.10 429.40 37.40 C431.84 36.70 433.30 35.42 435.60 34.10 C437.90 32.78 441.37 30.35 443.20 29.50 C445.03 28.65 444.80 29.27 446.60 29.00 C448.40 28.73 451.50 28.58 454.00 27.90 C456.50 27.22 459.05 25.83 461.60 24.90 C464.15 23.97 467.60 22.78 469.30 22.30 C471.00 21.82 470.97 22.00 471.80 22.00" stroke="#222" stroke-width="1.0"/>
<path d="M471.80 22.00 C472.65 22.00 472.62 21.82 474.35 22.30 C476.08 22.78 479.60 23.97 482.20 24.90 C484.80 25.83 487.40 27.22 489.95 27.90 C492.50 28.58 495.69 28.73 497.50 29.00 C499.31 29.27 499.03 28.65 500.83 29.50 C502.62 30.35 506.01 32.78 508.26 34.10 C510.51 35.42 511.94 36.70 514.33 37.40 C516.72 38.10 519.02 37.83 522.60 38.30 C526.18 38.77 531.51 39.52 535.83 40.20 C540.15 40.88 544.28 42.40 548.50 42.40" stroke="#222" stroke-width="1.0"/>
<path d="M548.50 42.40 C552.58 42.40 556.56 40.88 560.73 40.20 C564.90 39.52 569.24 38.30 573.50 38.30" stroke="#222" stroke-width="1.0"/>
<path d="M609.70 38.30 C614.04 38.30 618.48 39.52 622.73 40.20 C626.98 40.88 631.04 42.40 635.20 42.40" stroke="#222" stroke-width="1.0"/>
<path d="M395.60 87.80 C399.23 87.80 402.28 89.28 406.50 89.30 C410.73 89.32 417.38 88.35 420.95 87.90 C424.52 87.45 425.73 87.65 427.90 86.60 C430.08 85.55 431.70 83.12 434.00 81.60 C436.30 80.08 439.60 78.27 441.70 77.50 C443.80 76.73 444.30 76.90 446.60 77.00 C448.90 77.10 452.48 77.58 455.50 78.10 C458.52 78.62 461.98 79.58 464.70 80.10 C467.42 80.62 469.43 81.20 471.80 81.20" stroke="#222" stroke-width="1.0"/>
<path d="M471.80 81.20 C474.21 81.20 476.27 80.62 479.04 80.10 C481.81 79.58 485.35 78.62 488.42 78.10 C491.50 77.58 495.19 77.10 497.50 77.00 C499.81 76.90 500.24 76.73 502.29 77.50 C504.35 78.27 507.58 80.08 509.83 81.60 C512.08 83.12 513.67 85.55 515.80 86.60 C517.93 87.65 519.01 87.45 522.60 87.90 C526.19 88.35 533.05 89.32 537.36 89.30 C541.68 89.28 544.79 87.80 548.50 87.80" stroke="#222" stroke-width="1.0"/>
<path d="M548.50 87.80 C552.08 87.80 555.08 89.28 559.25 89.30 C563.42 89.32 568.75 87.90 573.50 87.90" stroke="#222" stroke-width="1.0"/>
<path d="M609.70 87.90 C614.55 87.90 619.99 89.32 624.24 89.30 C628.49 89.28 631.55 87.80 635.20 87.80" stroke="#222" stroke-width="1.0"/>
<path d="M395.60 96.60 C397.47 96.60 399.13 97.30 401.20 97.80 C403.27 98.30 405.83 98.82 408.00 99.60 C410.17 100.38 412.04 101.73 414.20 102.50 C416.36 103.27 418.43 103.85 420.95 104.20 C423.47 104.55 426.36 104.03 429.30 104.60 C432.24 105.17 436.27 107.00 438.60 107.60 C440.93 108.20 441.78 108.22 443.30 108.20 C444.82 108.18 446.47 107.95 447.70 107.50 C448.93 107.05 449.82 106.33 450.70 105.50 C451.58 104.67 452.08 103.88 453.00 102.50 C453.92 101.12 455.25 98.78 456.20 97.20 C457.15 95.62 457.80 94.45 458.70 93.00 C459.60 91.55 460.68 89.83 461.60 88.50 C462.52 87.17 463.35 85.98 464.20 85.00 C465.05 84.02 465.87 83.18 466.70 82.60 C467.53 82.02 468.35 81.73 469.20 81.50 C470.05 81.27 470.93 81.20 471.80 81.20" stroke="#222" stroke-width="1.0"/>
<path d="M471.80 81.20 C472.68 81.20 473.58 81.27 474.45 81.50 C475.32 81.73 476.15 82.02 477.00 82.60 C477.85 83.18 478.68 84.02 479.55 85.00 C480.42 85.98 481.27 87.17 482.20 88.50 C483.14 89.83 484.24 91.55 485.16 93.00 C486.08 94.45 486.74 95.62 487.71 97.20 C488.68 98.78 490.04 101.12 490.97 102.50 C491.91 103.88 492.42 104.67 493.32 105.50 C494.22 106.33 495.14 107.05 496.38 107.50 C497.61 107.95 499.24 108.18 500.73 108.20 C502.22 108.22 503.05 108.20 505.33 107.60 C507.61 107.00 511.55 105.17 514.43 104.60 C517.31 104.03 520.09 104.55 522.60 104.20 C525.11 103.85 527.29 103.27 529.50 102.50 C531.70 101.73 533.62 100.38 535.83 99.60 C538.04 98.82 540.67 98.30 542.78 97.80 C544.89 97.30 546.59 96.60 548.50 96.60" stroke="#222" stroke-width="1.0"/>
<path d="M548.50 96.60 C550.34 96.60 551.98 97.30 554.02 97.80 C556.06 98.30 558.59 98.82 560.73 99.60 C562.87 100.38 564.71 101.73 566.84 102.50 C568.97 103.27 571.28 104.20 573.50 104.20" stroke="#222" stroke-width="1.0"/>
<path d="M609.70 104.20 C611.96 104.20 614.32 103.27 616.49 102.50 C618.66 101.73 620.55 100.38 622.73 99.60 C624.91 98.82 627.49 98.30 629.57 97.80 C631.65 97.30 633.32 96.60 635.20 96.60" stroke="#222" stroke-width="1.0"/>
<path d="M395.60 103.40 C397.47 103.40 399.13 102.47 401.20 101.80 C403.27 101.13 405.83 99.88 408.00 99.40 C410.17 98.92 412.04 98.98 414.20 98.90 C416.36 98.82 418.05 99.08 420.95 98.90 C423.85 98.72 427.88 97.70 431.60 97.80 C435.33 97.90 440.53 99.17 443.30 99.50 C446.07 99.83 446.63 99.57 448.20 99.80 C449.77 100.03 451.37 100.45 452.70 100.90 C454.03 101.35 455.03 101.85 456.20 102.50 C457.37 103.15 458.53 104.02 459.70 104.80 C460.87 105.58 462.03 106.50 463.20 107.20 C464.37 107.90 465.27 108.50 466.70 109.00 C468.13 109.50 470.10 110.20 471.80 110.20" stroke="#222" stroke-width="1.0"/>
<path d="M471.80 110.20 C473.53 110.20 475.54 109.50 477.00 109.00 C478.46 108.50 479.38 107.90 480.57 107.20 C481.76 106.50 482.95 105.58 484.14 104.80 C485.33 104.02 486.52 103.15 487.71 102.50 C488.90 101.85 489.92 101.35 491.28 100.90 C492.64 100.45 494.29 100.03 495.87 99.80 C497.44 99.57 498.01 99.83 500.73 99.50 C503.45 99.17 508.53 97.90 512.18 97.80 C515.82 97.70 519.71 98.72 522.60 98.90 C525.49 99.08 527.29 98.82 529.50 98.90 C531.70 98.98 533.62 98.92 535.83 99.40 C538.04 99.88 540.67 101.13 542.78 101.80 C544.89 102.47 546.59 103.40 548.50 103.40" stroke="#222" stroke-width="1.0"/>
<path d="M548.50 103.40 C550.34 103.40 551.98 102.47 554.02 101.80 C556.06 101.13 558.59 99.88 560.73 99.40 C562.87 98.92 564.71 98.98 566.84 98.90 C568.97 98.82 571.28 98.90 573.50 98.90" stroke="#222" stroke-width="1.0"/>
<path d="M609.70 98.90 C611.96 98.90 614.32 98.82 616.49 98.90 C618.66 98.98 620.55 98.92 622.73 99.40 C624.91 99.88 627.49 101.13 629.57 101.80 C631.65 102.47 633.32 103.40 635.20 103.40" stroke="#222" stroke-width="1.0"/>
<path d="M395.60 140.90 C396.80 140.90 397.95 140.50 399.20 140.20 C400.45 139.90 401.68 139.63 403.10 139.10 C404.52 138.57 406.22 137.72 407.70 137.00 C409.18 136.28 410.58 135.47 412.00 134.80 C413.42 134.13 414.71 133.60 416.20 133.00 C417.69 132.40 419.33 132.25 420.95 131.20 C422.57 130.15 424.19 128.33 425.90 126.70 C427.61 125.07 429.27 123.23 431.20 121.40 C433.13 119.57 435.75 117.00 437.50 115.70 C439.25 114.40 440.18 113.95 441.70 113.60 C443.22 113.25 444.85 113.82 446.60 113.60 C448.35 113.38 450.43 112.63 452.20 112.30 C453.97 111.97 455.17 111.87 457.20 111.60 C459.23 111.33 461.97 110.88 464.40 110.70 C466.83 110.52 469.33 110.50 471.80 110.50" stroke="#222" stroke-width="1.0"/>
<path d="M471.80 110.50 C474.32 110.50 476.87 110.52 479.35 110.70 C481.83 110.88 484.62 111.33 486.69 111.60 C488.76 111.87 489.99 111.97 491.79 112.30 C493.59 112.63 495.75 113.38 497.50 113.60 C499.25 113.82 500.81 113.25 502.29 113.60 C503.78 113.95 504.69 114.40 506.40 115.70 C508.12 117.00 510.68 119.57 512.57 121.40 C514.46 123.23 516.08 125.07 517.76 126.70 C519.43 128.33 520.98 130.15 522.60 131.20 C524.22 132.25 525.93 132.40 527.45 133.00 C528.98 133.60 530.30 134.13 531.74 134.80 C533.19 135.47 534.62 136.28 536.14 137.00 C537.65 137.72 539.39 138.57 540.84 139.10 C542.28 139.63 543.54 139.90 544.82 140.20 C546.10 140.50 547.27 140.90 548.50 140.90" stroke="#222" stroke-width="1.0"/>
<path d="M548.50 140.90 C549.68 140.90 550.82 140.50 552.05 140.20 C553.28 139.90 554.50 139.63 555.90 139.10 C557.29 138.57 558.97 137.72 560.43 137.00 C561.90 136.28 563.28 135.47 564.67 134.80 C566.07 134.13 567.34 133.60 568.82 133.00 C570.29 132.40 571.94 131.20 573.50 131.20" stroke="#222" stroke-width="1.0"/>
<path d="M609.70 131.20 C611.29 131.20 612.98 132.40 614.48 133.00 C615.98 133.60 617.28 134.13 618.70 134.80 C620.13 135.47 621.54 136.28 623.03 137.00 C624.52 137.72 626.23 138.57 627.66 139.10 C629.08 139.63 630.32 139.90 631.58 140.20 C632.84 140.50 633.99 140.90 635.20 140.90" stroke="#222" stroke-width="1.0"/>
<path d="M395.60 141.20 C396.80 141.20 397.95 140.87 399.20 140.60 C400.45 140.33 401.68 140.10 403.10 139.60 C404.52 139.10 406.22 138.28 407.70 137.60 C409.18 136.92 410.58 136.13 412.00 135.50 C413.42 134.87 414.71 134.35 416.20 133.80 C417.69 133.25 419.33 132.87 420.95 132.20 C422.57 131.53 423.33 130.72 425.90 129.80 C428.48 128.88 433.25 127.57 436.40 126.70 C439.55 125.83 443.10 124.98 444.80 124.60 C446.50 124.22 445.37 124.83 446.60 124.40 C447.83 123.97 450.40 123.02 452.20 122.00 C454.00 120.98 455.65 119.53 457.40 118.30 C459.15 117.07 461.12 115.60 462.70 114.60 C464.28 113.60 465.38 112.93 466.90 112.30 C468.42 111.67 470.17 110.80 471.80 110.80" stroke="#222" stroke-width="1.0"/>
<path d="M471.80 110.80 C473.47 110.80 475.25 111.67 476.80 112.30 C478.34 112.93 479.47 113.60 481.08 114.60 C482.70 115.60 484.70 117.07 486.49 118.30 C488.27 119.53 489.95 120.98 491.79 122.00 C493.62 123.02 496.25 123.97 497.50 124.40 C498.75 124.83 497.60 124.22 499.26 124.60 C500.92 124.98 504.40 125.83 507.48 126.70 C510.56 127.57 515.24 128.88 517.76 129.80 C520.28 130.72 520.98 131.53 522.60 132.20 C524.22 132.87 525.93 133.25 527.45 133.80 C528.98 134.35 530.30 134.87 531.74 135.50 C533.19 136.13 534.62 136.92 536.14 137.60 C537.65 138.28 539.39 139.10 540.84 139.60 C542.28 140.10 543.54 140.33 544.82 140.60 C546.10 140.87 547.27 141.20 548.50 141.20" stroke="#222" stroke-width="1.0"/>
<path d="M548.50 141.20 C549.68 141.20 550.82 140.87 552.05 140.60 C553.28 140.33 554.50 140.10 555.90 139.60 C557.29 139.10 558.97 138.28 560.43 137.60 C561.90 136.92 563.28 136.13 564.67 135.50 C566.07 134.87 567.34 134.35 568.82 133.80 C570.29 133.25 571.94 132.20 573.50 132.20" stroke="#222" stroke-width="1.0"/>
<path d="M609.70 132.20 C611.29 132.20 612.98 133.25 614.48 133.80 C615.98 134.35 617.28 134.87 618.70 135.50 C620.13 136.13 621.54 136.92 623.03 137.60 C624.52 138.28 626.23 139.10 627.66 139.60 C629.08 140.10 630.32 140.33 631.58 140.60 C632.84 140.87 633.99 141.20 635.20 141.20" stroke="#222" stroke-width="1.0"/>
<path d="M395.60 141.50 C396.80 141.50 397.95 141.25 399.20 141.00 C400.45 140.75 401.68 140.47 403.10 140.00 C404.52 139.53 406.22 138.82 407.70 138.20 C409.18 137.58 410.58 136.88 412.00 136.30 C413.42 135.72 414.71 135.20 416.20 134.70 C417.69 134.20 418.45 133.77 420.95 133.30 C423.45 132.83 427.74 132.38 431.20 131.90 C434.66 131.42 439.13 130.65 441.70 130.40 C444.27 130.15 444.15 130.40 446.60 130.40 C449.05 130.40 454.07 130.85 456.40 130.40 C458.73 129.95 459.03 128.85 460.60 127.70 C462.17 126.55 464.37 124.52 465.80 123.50 C467.23 122.48 468.20 121.93 469.20 121.60 C470.20 121.27 470.93 121.50 471.80 121.50" stroke="#222" stroke-width="1.0"/>
<path d="M471.80 121.50 C472.68 121.50 473.43 121.27 474.45 121.60 C475.47 121.93 476.46 122.48 477.92 123.50 C479.38 124.52 481.62 126.55 483.22 127.70 C484.82 128.85 485.13 129.95 487.51 130.40 C489.89 130.85 495.04 130.40 497.50 130.40 C499.96 130.40 499.78 130.15 502.29 130.40 C504.81 130.65 509.19 131.42 512.57 131.90 C515.95 132.38 520.12 132.83 522.60 133.30 C525.08 133.77 525.93 134.20 527.45 134.70 C528.98 135.20 530.30 135.72 531.74 136.30 C533.19 136.88 534.62 137.58 536.14 138.20 C537.65 138.82 539.39 139.53 540.84 140.00 C542.28 140.47 543.54 140.75 544.82 141.00 C546.10 141.25 547.27 141.50 548.50 141.50" stroke="#222" stroke-width="1.0"/>
<path d="M548.50 141.50 C549.68 141.50 550.82 141.25 552.05 141.00 C553.28 140.75 554.50 140.47 555.90 140.00 C557.29 139.53 558.97 138.82 560.43 138.20 C561.90 137.58 563.28 136.88 564.67 136.30 C566.07 135.72 567.34 135.20 568.82 134.70 C570.29 134.20 571.94 133.30 573.50 133.30" stroke="#222" stroke-width="1.0"/>
<path d="M609.70 133.30 C611.29 133.30 612.98 134.20 614.48 134.70 C615.98 135.20 617.28 135.72 618.70 136.30 C620.13 136.88 621.54 137.58 623.03 138.20 C624.52 138.82 626.23 139.53 627.66 140.00 C629.08 140.47 630.32 140.75 631.58 141.00 C632.84 141.25 633.99 141.50 635.20 141.50" stroke="#222" stroke-width="1.0"/>
<path d="M395.60 145.20 C398.37 145.20 400.90 143.43 403.90 142.30 C406.90 141.17 410.87 139.20 413.60 138.40 C416.33 137.60 418.53 137.50 420.30 137.50 C422.07 137.50 423.15 137.92 424.20 138.40 C425.25 138.88 425.85 139.55 426.60 140.40 C427.35 141.25 427.85 141.77 428.70 143.50 C429.55 145.23 430.78 148.80 431.70 150.80 C432.62 152.80 433.53 154.42 434.20 155.50 C434.87 156.58 435.12 157.22 435.70 157.30 C436.28 157.38 436.95 156.53 437.70 156.00 C438.45 155.47 438.78 154.52 440.20 154.10 C441.62 153.68 444.18 153.40 446.20 153.50 C448.22 153.60 450.68 154.10 452.30 154.70 C453.92 155.30 454.48 155.75 455.90 157.10 C457.32 158.45 459.18 160.98 460.80 162.80 C462.42 164.62 464.28 166.70 465.60 168.00 C466.92 169.30 467.67 169.92 468.70 170.60 C469.73 171.28 470.77 172.10 471.80 172.10" stroke="#222" stroke-width="1.0"/>
<path d="M471.80 172.10 C472.85 172.10 473.91 171.28 474.96 170.60 C476.02 169.92 476.78 169.30 478.12 168.00 C479.47 166.70 481.37 164.62 483.02 162.80 C484.67 160.98 486.57 158.45 488.02 157.10 C489.46 155.75 490.04 155.30 491.69 154.70 C493.33 154.10 495.88 153.60 497.89 153.50 C499.90 153.40 502.38 153.68 503.76 154.10 C505.15 154.52 505.48 155.47 506.21 156.00 C506.94 156.53 507.60 157.38 508.17 157.30 C508.74 157.22 508.98 156.58 509.63 155.50 C510.29 154.42 511.18 152.80 512.08 150.80 C512.98 148.80 514.18 145.23 515.02 143.50 C515.85 141.77 516.34 141.25 517.07 140.40 C517.81 139.55 518.39 138.88 519.42 138.40 C520.45 137.92 521.48 137.50 523.26 137.50 C525.05 137.50 527.32 137.60 530.11 138.40 C532.90 139.20 536.95 141.17 540.02 142.30 C543.09 143.43 545.67 145.20 548.50 145.20" stroke="#222" stroke-width="1.0"/>
<path d="M548.50 145.20 C551.23 145.20 553.73 143.43 556.69 142.30 C559.64 141.17 563.56 139.20 566.25 138.40 C568.95 137.60 571.65 137.62 572.86 137.50 C574.07 137.38 573.29 137.65 573.50 137.65" stroke="#222" stroke-width="1.0"/>
<path d="M609.70 137.65 C609.92 137.65 609.12 137.38 610.35 137.50 C611.59 137.62 614.34 137.60 617.09 138.40 C619.84 139.20 623.83 141.17 626.85 142.30 C629.87 143.43 632.42 145.20 635.20 145.20" stroke="#222" stroke-width="1.0"/>
<path d="M395.60 152.80 C398.37 152.80 400.90 151.75 403.90 151.00 C406.90 150.25 410.70 148.97 413.60 148.30 C416.50 147.63 419.20 147.35 421.30 147.00 C423.40 146.65 424.88 146.43 426.20 146.20 C427.52 145.97 428.22 145.90 429.20 145.60 C430.18 145.30 431.10 145.17 432.10 144.40 C433.10 143.63 434.13 142.17 435.20 141.00 C436.27 139.83 437.50 138.57 438.50 137.40 C439.50 136.23 440.33 134.87 441.20 134.00 C442.07 133.13 442.80 132.60 443.70 132.20 C444.60 131.80 445.52 131.38 446.60 131.60 C447.68 131.82 449.17 132.77 450.20 133.50 C451.23 134.23 451.95 135.13 452.80 136.00 C453.65 136.87 454.45 137.82 455.30 138.70 C456.15 139.58 457.03 140.50 457.90 141.30 C458.77 142.10 459.12 142.78 460.50 143.50 C461.88 144.22 464.32 145.15 466.20 145.60 C468.08 146.05 469.93 146.20 471.80 146.20" stroke="#222" stroke-width="1.0"/>
<path d="M471.80 146.20 C473.70 146.20 475.59 146.05 477.51 145.60 C479.43 145.15 481.91 144.22 483.32 143.50 C484.73 142.78 485.09 142.10 485.98 141.30 C486.86 140.50 487.76 139.58 488.63 138.70 C489.49 137.82 490.31 136.87 491.18 136.00 C492.04 135.13 492.77 134.23 493.83 133.50 C494.88 132.77 496.42 131.82 497.50 131.60 C498.58 131.38 499.46 131.80 500.34 132.20 C501.22 132.60 501.94 133.13 502.78 134.00 C503.63 134.87 504.45 136.23 505.43 137.40 C506.40 138.57 507.61 139.83 508.66 141.00 C509.70 142.17 510.71 143.63 511.69 144.40 C512.67 145.17 513.56 145.30 514.53 145.60 C515.49 145.90 516.17 145.97 517.46 146.20 C518.75 146.43 520.15 146.65 522.26 147.00 C524.37 147.35 527.15 147.63 530.11 148.30 C533.07 148.97 536.95 150.25 540.02 151.00 C543.09 151.75 545.67 152.80 548.50 152.80" stroke="#222" stroke-width="1.0"/>
<path d="M548.50 152.80 C551.23 152.80 553.73 151.75 556.69 151.00 C559.64 150.25 563.45 148.96 566.25 148.30 C569.05 147.64 571.08 147.06 573.50 147.06" stroke="#222" stroke-width="1.0"/>
<path d="M609.70 147.06 C612.16 147.06 614.24 147.64 617.09 148.30 C619.95 148.96 623.83 150.25 626.85 151.00 C629.87 151.75 632.42 152.80 635.20 152.80" stroke="#222" stroke-width="1.0"/>
<path d="M395.60 173.20 C396.30 173.20 396.98 172.00 397.70 171.30 C398.42 170.60 399.15 169.88 399.90 169.00 C400.65 168.12 401.38 166.97 402.20 166.00 C403.02 165.03 403.88 164.15 404.80 163.20 C405.72 162.25 406.57 161.35 407.70 160.30 C408.83 159.25 410.47 157.92 411.60 156.90 C412.73 155.88 413.40 155.10 414.50 154.20 C415.60 153.30 417.08 152.20 418.20 151.50 C419.32 150.80 420.07 150.45 421.20 150.00 C422.33 149.55 423.62 149.20 425.00 148.80 C426.38 148.40 427.63 147.85 429.50 147.60 C431.37 147.35 433.35 147.35 436.20 147.30 C439.05 147.25 443.92 147.07 446.60 147.30 C449.28 147.53 450.75 147.97 452.30 148.70 C453.85 149.43 454.90 150.80 455.90 151.70 C456.90 152.60 457.28 152.67 458.30 154.10 C459.32 155.53 460.58 158.15 462.00 160.30 C463.42 162.45 465.60 165.38 466.80 167.00 C468.00 168.62 468.37 169.15 469.20 170.00 C470.03 170.85 470.93 172.10 471.80 172.10" stroke="#222" stroke-width="1.0"/>
<path d="M471.80 172.10 C472.68 172.10 473.60 170.85 474.45 170.00 C475.30 169.15 475.68 168.62 476.90 167.00 C478.12 165.38 480.35 162.45 481.79 160.30 C483.24 158.15 484.53 155.53 485.57 154.10 C486.60 152.67 487.00 152.60 488.02 151.70 C489.04 150.80 490.11 149.43 491.69 148.70 C493.27 147.97 494.83 147.53 497.50 147.30 C500.17 147.07 504.89 147.25 507.68 147.30 C510.47 147.35 512.41 147.35 514.23 147.60 C516.06 147.85 517.28 148.40 518.64 148.80 C519.99 149.20 521.23 149.55 522.36 150.00 C523.48 150.45 524.27 150.80 525.41 151.50 C526.55 152.20 528.07 153.30 529.19 154.20 C530.31 155.10 530.99 155.88 532.15 156.90 C533.31 157.92 534.98 159.25 536.14 160.30 C537.30 161.35 538.16 162.25 539.10 163.20 C540.04 164.15 540.92 165.03 541.76 166.00 C542.59 166.97 543.34 168.12 544.11 169.00 C544.87 169.88 545.62 170.60 546.35 171.30 C547.09 172.00 547.78 173.20 548.50 173.20" stroke="#222" stroke-width="1.0"/>
<path d="M548.50 173.20 C549.19 173.20 549.86 172.00 550.57 171.30 C551.28 170.60 552.00 169.88 552.74 169.00 C553.48 168.12 554.20 166.97 555.01 166.00 C555.81 165.03 556.67 164.15 557.57 163.20 C558.48 162.25 559.32 161.35 560.43 160.30 C561.55 159.25 563.16 157.92 564.28 156.90 C565.40 155.88 566.05 155.10 567.14 154.20 C568.22 153.30 569.73 152.18 570.79 151.50 C571.85 150.82 572.60 150.12 573.50 150.12" stroke="#222" stroke-width="1.0"/>
<path d="M609.70 150.12 C610.62 150.12 611.38 150.82 612.47 151.50 C613.55 152.18 615.08 153.30 616.19 154.20 C617.29 155.10 617.97 155.88 619.11 156.90 C620.25 157.92 621.89 159.25 623.03 160.30 C624.17 161.35 625.02 162.25 625.95 163.20 C626.87 164.15 627.74 165.03 628.56 166.00 C629.38 166.97 630.12 168.12 630.87 169.00 C631.63 169.88 632.37 170.60 633.09 171.30 C633.81 172.00 634.50 173.20 635.20 173.20" stroke="#222" stroke-width="1.0"/>
<path d="M395.60 163.80 C397.70 163.80 400.37 162.62 401.90 162.20 C403.43 161.78 403.67 161.78 404.80 161.30 C405.93 160.82 407.25 160.12 408.70 159.30 C410.15 158.48 411.90 157.15 413.50 156.40 C415.10 155.65 416.85 155.17 418.30 154.80 C419.75 154.43 420.90 154.40 422.20 154.20 C423.50 154.00 424.67 153.60 426.10 153.60 C427.53 153.60 429.53 153.80 430.80 154.20 C432.07 154.60 432.88 155.48 433.70 156.00 C434.52 156.52 435.03 157.30 435.70 157.30" stroke="#222" stroke-width="1.0"/>
<path d="M508.17 157.30 C508.82 157.30 509.32 156.52 510.12 156.00 C510.92 155.48 511.72 154.60 512.96 154.20 C514.20 153.80 516.16 153.60 517.56 153.60 C518.96 153.60 520.09 154.00 521.38 154.20 C522.67 154.40 523.84 154.43 525.31 154.80 C526.78 155.17 528.58 155.65 530.21 156.40 C531.85 157.15 533.63 158.48 535.12 159.30 C536.60 160.12 537.94 160.82 539.10 161.30 C540.26 161.78 540.50 161.78 542.06 162.20 C543.63 162.62 546.35 163.80 548.50 163.80" stroke="#222" stroke-width="1.0"/>
<path d="M548.50 163.80 C550.57 163.80 553.20 162.62 554.71 162.20 C556.23 161.78 556.46 161.78 557.57 161.30 C558.69 160.82 559.99 160.12 561.42 159.30 C562.85 158.48 564.57 157.15 566.15 156.40 C567.73 155.65 569.66 155.13 570.89 154.80 C572.11 154.47 572.63 154.39 573.50 154.39" stroke="#222" stroke-width="1.0"/>
<path d="M609.70 154.39 C610.59 154.39 611.12 154.47 612.37 154.80 C613.61 155.13 615.58 155.65 617.19 156.40 C618.80 157.15 620.56 158.48 622.02 159.30 C623.48 160.12 624.81 160.82 625.95 161.30 C627.09 161.78 627.32 161.78 628.86 162.20 C630.41 162.62 633.09 163.80 635.20 163.80" stroke="#222" stroke-width="1.0"/>
<path d="M420.95 171.90 C421.90 171.90 422.93 171.40 423.80 171.00 C424.68 170.60 425.25 170.23 426.20 169.50 C427.15 168.77 428.42 167.77 429.50 166.60 C430.58 165.43 431.67 163.63 432.70 162.50 C433.73 161.37 434.78 160.12 435.70 159.80 C436.62 159.48 437.45 160.13 438.20 160.60 C438.95 161.07 439.07 161.70 440.20 162.60 C441.33 163.50 443.58 165.40 445.00 166.00 C446.42 166.60 447.75 166.45 448.70 166.20 C449.65 165.95 450.10 165.32 450.70 164.50 C451.30 163.68 451.43 162.63 452.30 161.30 C453.17 159.97 454.90 157.70 455.90 156.50 C456.90 155.30 457.28 155.10 458.30 154.10 C459.32 153.10 460.58 151.62 462.00 150.50 C463.42 149.38 465.17 148.12 466.80 147.40 C468.43 146.68 470.13 146.20 471.80 146.20" stroke="#222" stroke-width="1.0"/>
<path d="M471.80 146.20 C473.50 146.20 475.23 146.68 476.90 147.40 C478.56 148.12 480.35 149.38 481.79 150.50 C483.24 151.62 484.53 153.10 485.57 154.10 C486.60 155.10 487.00 155.30 488.02 156.50 C489.04 157.70 490.80 159.97 491.69 161.30 C492.57 162.63 492.71 163.68 493.32 164.50 C493.93 165.32 494.40 165.95 495.36 166.20 C496.32 166.45 497.66 166.60 499.07 166.00 C500.47 165.40 502.65 163.50 503.76 162.60 C504.87 161.70 504.99 161.07 505.72 160.60 C506.45 160.13 507.27 159.48 508.17 159.80 C509.06 160.12 510.09 161.37 511.10 162.50 C512.11 163.63 513.17 165.43 514.23 166.60 C515.29 167.77 516.53 168.77 517.46 169.50 C518.39 170.23 518.95 170.60 519.81 171.00 C520.67 171.40 521.67 171.90 522.60 171.90" stroke="#222" stroke-width="1.0"/>
<path d="M395.60 173.30 C399.30 173.30 403.23 171.63 406.70 171.40 C410.17 171.17 414.03 171.82 416.40 171.90 C418.78 171.98 418.77 172.50 420.95 171.90 C423.13 171.30 426.29 169.05 429.50 168.30 C432.71 167.55 437.38 167.67 440.20 167.40 C443.02 167.13 444.38 166.67 446.40 166.70 C448.42 166.73 450.32 167.28 452.30 167.60 C454.28 167.92 456.28 168.10 458.30 168.60 C460.32 169.10 462.75 170.10 464.40 170.60 C466.05 171.10 466.97 171.35 468.20 171.60 C469.43 171.85 470.60 172.10 471.80 172.10" stroke="#222" stroke-width="1.0"/>
<path d="M471.80 172.10 C473.02 172.10 474.21 171.85 475.47 171.60 C476.73 171.35 477.66 171.10 479.35 170.60 C481.03 170.10 483.51 169.10 485.57 168.60 C487.62 168.10 489.67 167.92 491.69 167.60 C493.71 167.28 495.68 166.73 497.70 166.70 C499.71 166.67 501.01 167.13 503.76 167.40 C506.52 167.67 511.09 167.55 514.23 168.30 C517.37 169.05 520.43 171.30 522.60 171.90 C524.77 172.50 524.82 171.98 527.25 171.90 C529.68 171.82 533.62 171.17 537.16 171.40 C540.70 171.63 544.72 173.30 548.50 173.30" stroke="#222" stroke-width="1.0"/>
<path d="M548.50 173.30 C552.15 173.30 556.03 171.63 559.45 171.40 C562.87 171.17 566.67 171.82 569.01 171.90 C571.36 171.98 572.00 171.90 573.50 171.90" stroke="#222" stroke-width="1.0"/>
<path d="M609.70 171.90 C611.23 171.90 611.89 171.98 614.28 171.90 C616.67 171.82 620.55 171.17 624.03 171.40 C627.52 171.63 631.48 173.30 635.20 173.30" stroke="#222" stroke-width="1.0"/>
<path d="M395.60 216.40 C396.47 213.27 397.27 209.92 398.20 207.00 C399.13 204.08 400.28 201.15 401.20 198.90 C402.12 196.65 402.92 194.98 403.70 193.50 C404.48 192.02 404.95 191.20 405.90 190.00 C406.85 188.80 408.02 187.58 409.40 186.30 C410.78 185.02 412.28 183.32 414.20 182.30 C416.13 181.28 419.12 180.37 420.95 180.20 C422.78 180.03 423.81 180.75 425.20 181.30 C426.59 181.85 427.63 182.58 429.30 183.50 C430.97 184.42 433.22 186.02 435.20 186.80 C437.18 187.58 439.30 187.90 441.20 188.20 C443.10 188.50 444.48 188.62 446.60 188.60 C448.72 188.58 451.55 188.62 453.90 188.10 C456.25 187.58 458.65 186.18 460.70 185.50 C462.75 184.82 464.35 184.37 466.20 184.00 C468.05 183.63 469.93 183.30 471.80 183.30" stroke="#222" stroke-width="1.0"/>
<path d="M471.80 183.30 C473.70 183.30 475.62 183.63 477.51 184.00 C479.40 184.37 481.03 184.82 483.12 185.50 C485.21 186.18 487.66 187.58 490.06 188.10 C492.45 188.62 495.38 188.58 497.50 188.60 C499.62 188.62 500.92 188.50 502.78 188.20 C504.64 187.90 506.71 187.58 508.66 186.80 C510.60 186.02 512.80 184.42 514.43 183.50 C516.06 182.58 517.08 181.85 518.44 181.30 C519.80 180.75 520.76 180.03 522.60 180.20 C524.44 180.37 527.53 181.28 529.50 182.30 C531.46 183.32 532.99 185.02 534.40 186.30 C535.81 187.58 537.01 188.80 537.98 190.00 C538.95 191.20 539.42 192.02 540.22 193.50 C541.02 194.98 541.84 196.65 542.78 198.90 C543.72 201.15 544.89 204.08 545.84 207.00 C546.80 209.92 547.61 213.27 548.50 216.40" stroke="#222" stroke-width="1.0"/>
<path d="M548.50 216.40 C549.35 213.27 550.14 209.92 551.06 207.00 C551.98 204.08 553.12 201.15 554.02 198.90 C554.93 196.65 555.72 194.98 556.49 193.50 C557.26 192.02 557.72 191.20 558.66 190.00 C559.59 188.80 560.75 187.58 562.11 186.30 C563.47 185.02 564.94 183.32 566.84 182.30 C568.74 181.28 571.28 180.20 573.50 180.20" stroke="#222" stroke-width="1.0"/>
<path d="M609.70 180.20 C611.96 180.20 614.55 181.28 616.49 182.30 C618.43 183.32 619.93 185.02 621.32 186.30 C622.71 187.58 623.88 188.80 624.84 190.00 C625.79 191.20 626.26 192.02 627.05 193.50 C627.84 194.98 628.64 196.65 629.57 198.90 C630.49 201.15 631.65 204.08 632.58 207.00 C633.52 209.92 634.33 213.27 635.20 216.40" stroke="#222" stroke-width="1.0"/>
<path d="M395.60 216.40 C396.47 214.60 397.27 212.75 398.20 211.00 C399.13 209.25 399.92 207.92 401.20 205.90 C402.48 203.88 404.15 201.05 405.90 198.90 C407.65 196.75 409.75 194.47 411.70 193.00 C413.65 191.53 416.06 190.67 417.60 190.10 C419.14 189.53 419.00 189.58 420.95 189.60 C422.90 189.62 425.96 190.05 429.30 190.20 C432.64 190.35 438.12 190.50 441.00 190.50 C443.88 190.50 444.45 190.40 446.60 190.20 C448.75 190.00 451.55 189.92 453.90 189.30 C456.25 188.68 458.65 187.33 460.70 186.50 C462.75 185.67 464.35 184.78 466.20 184.30 C468.05 183.82 469.93 183.60 471.80 183.60" stroke="#222" stroke-width="1.0"/>
<path d="M471.80 183.60 C473.70 183.60 475.62 183.82 477.51 184.30 C479.40 184.78 481.03 185.67 483.12 186.50 C485.21 187.33 487.66 188.68 490.06 189.30 C492.45 189.92 495.35 190.00 497.50 190.20 C499.65 190.40 500.16 190.50 502.98 190.50 C505.80 190.50 511.16 190.35 514.43 190.20 C517.70 190.05 520.67 189.62 522.60 189.60 C524.53 189.58 524.45 189.53 526.02 190.10 C527.60 190.67 530.06 191.53 532.05 193.00 C534.04 194.47 536.19 196.75 537.98 198.90 C539.76 201.05 541.47 203.88 542.78 205.90 C544.09 207.92 544.89 209.25 545.84 211.00 C546.80 212.75 547.61 214.60 548.50 216.40" stroke="#222" stroke-width="1.0"/>
<path d="M548.50 216.40 C549.35 214.60 550.14 212.75 551.06 211.00 C551.98 209.25 552.76 207.92 554.02 205.90 C555.29 203.88 556.93 201.05 558.66 198.90 C560.38 196.75 562.45 194.47 564.38 193.00 C566.30 191.53 568.68 190.67 570.20 190.10 C571.72 189.53 572.40 189.60 573.50 189.60" stroke="#222" stroke-width="1.0"/>
<path d="M609.70 189.60 C610.82 189.60 611.52 189.53 613.07 190.10 C614.62 190.67 617.04 191.53 619.00 193.00 C620.97 194.47 623.08 196.75 624.84 198.90 C626.60 201.05 628.28 203.88 629.57 205.90 C630.86 207.92 631.65 209.25 632.58 211.00 C633.52 212.75 634.33 214.60 635.20 216.40" stroke="#222" stroke-width="1.0"/>
<path d="M573.50 38.50 C576.50 38.50 579.47 38.52 582.50 38.70 C585.53 38.88 588.63 39.60 591.70 39.60 C594.77 39.60 597.90 38.88 600.90 38.70 C603.90 38.52 606.77 38.50 609.70 38.50" stroke="#222" stroke-width="1.0"/>
<path d="M573.50 88.20 C576.40 88.20 579.18 88.68 582.20 88.90 C585.22 89.12 588.47 89.50 591.60 89.50 C594.73 89.50 597.98 89.12 601.00 88.90 C604.02 88.68 606.80 88.20 609.70 88.20" stroke="#222" stroke-width="1.0"/>
<path d="M573.50 99.40 C574.73 99.40 575.65 99.62 577.20 99.30 C578.75 98.98 581.13 98.22 582.80 97.50 C584.47 96.78 585.73 95.53 587.20 95.00 C588.67 94.47 590.18 94.30 591.60 94.30 C593.02 94.30 594.27 94.50 595.70 95.00 C597.13 95.50 598.62 96.63 600.20 97.30 C601.78 97.97 603.62 98.65 605.20 99.00 C606.78 99.35 608.20 99.40 609.70 99.40" stroke="#222" stroke-width="1.0"/>
<path d="M573.50 104.30 C575.40 104.30 577.13 104.12 579.20 103.80 C581.27 103.48 583.83 102.67 585.90 102.40 C587.97 102.13 589.85 102.20 591.60 102.20 C593.35 102.20 594.47 102.17 596.40 102.40 C598.33 102.63 600.98 103.28 603.20 103.60 C605.42 103.92 607.53 104.30 609.70 104.30" stroke="#222" stroke-width="1.0"/>
<path d="M573.50 131.10 C574.73 131.10 575.93 130.35 577.20 130.00 C578.47 129.65 579.77 129.13 581.10 129.00 C582.43 128.87 583.45 129.10 585.20 129.20 C586.95 129.30 589.52 129.60 591.60 129.60 C593.68 129.60 595.97 129.30 597.70 129.20 C599.43 129.10 600.58 128.87 602.00 129.00 C603.42 129.13 604.92 129.65 606.20 130.00 C607.48 130.35 608.53 131.10 609.70 131.10" stroke="#222" stroke-width="1.0"/>
<path d="M573.50 132.90 C574.73 132.90 575.93 133.12 577.20 133.30 C578.47 133.48 579.60 133.73 581.10 134.00 C582.60 134.27 584.45 134.67 586.20 134.90 C587.95 135.13 589.80 135.40 591.60 135.40 C593.40 135.40 595.23 135.13 597.00 134.90 C598.77 134.67 600.67 134.27 602.20 134.00 C603.73 133.73 604.95 133.48 606.20 133.30 C607.45 133.12 608.53 132.90 609.70 132.90" stroke="#222" stroke-width="1.0"/>
<path d="M573.50 137.30 C574.73 137.30 576.00 138.13 577.20 139.00 C578.40 139.87 579.53 141.28 580.70 142.50 C581.87 143.72 582.95 145.27 584.20 146.30 C585.45 147.33 586.97 148.18 588.20 148.70 C589.43 149.22 590.43 149.40 591.60 149.40 C592.77 149.40 593.93 149.22 595.20 148.70 C596.47 148.18 597.95 147.33 599.20 146.30 C600.45 145.27 601.53 143.72 602.70 142.50 C603.87 141.28 605.03 139.87 606.20 139.00 C607.37 138.13 608.53 137.30 609.70 137.30" stroke="#222" stroke-width="1.0"/>
<path d="M573.50 146.60 C574.73 146.60 576.00 146.07 577.20 145.60 C578.40 145.13 579.53 144.48 580.70 143.80 C581.87 143.12 582.95 142.20 584.20 141.50 C585.45 140.80 586.97 140.00 588.20 139.60 C589.43 139.20 590.43 139.10 591.60 139.10 C592.77 139.10 593.93 139.20 595.20 139.60 C596.47 140.00 597.95 140.80 599.20 141.50 C600.45 142.20 601.53 143.12 602.70 143.80 C603.87 144.48 605.03 145.13 606.20 145.60 C607.37 146.07 608.53 146.60 609.70 146.60" stroke="#222" stroke-width="1.0"/>
<path d="M573.50 150.00 C576.40 150.00 579.18 151.17 582.20 151.50 C585.22 151.83 588.43 152.00 591.60 152.00 C594.77 152.00 598.18 151.83 601.20 151.50 C604.22 151.17 606.87 150.00 609.70 150.00" stroke="#222" stroke-width="1.0"/>
<path d="M573.50 154.40 C576.40 154.40 579.18 154.00 582.20 153.90 C585.22 153.80 588.43 153.80 591.60 153.80 C594.77 153.80 598.18 153.80 601.20 153.90 C604.22 154.00 606.87 154.40 609.70 154.40" stroke="#222" stroke-width="1.0"/>
<path d="M573.50 171.90 C576.40 171.90 579.18 171.63 582.20 171.50 C585.22 171.37 588.43 171.10 591.60 171.10 C594.77 171.10 598.18 171.37 601.20 171.50 C604.22 171.63 606.87 171.90 609.70 171.90" stroke="#222" stroke-width="1.0"/>
<path d="M573.50 171.90 C574.43 171.90 574.85 171.58 576.30 171.10 C577.75 170.62 579.65 169.60 582.20 169.00 C584.75 168.40 588.43 167.50 591.60 167.50 C594.77 167.50 598.65 168.40 601.20 169.00 C603.75 169.60 605.48 170.62 606.90 171.10 C608.32 171.58 608.77 171.90 609.70 171.90" stroke="#222" stroke-width="1.0"/>
<path d="M573.50 179.60 C574.73 179.60 575.63 180.07 577.20 180.60 C578.77 181.13 581.23 182.10 582.90 182.80 C584.57 183.50 585.75 184.32 587.20 184.80 C588.65 185.28 590.10 185.70 591.60 185.70 C593.10 185.70 594.75 185.28 596.20 184.80 C597.65 184.32 598.63 183.50 600.30 182.80 C601.97 182.10 604.63 181.13 606.20 180.60 C607.77 180.07 608.53 179.60 609.70 179.60" stroke="#222" stroke-width="1.0"/>
<path d="M573.50 189.60 C575.07 189.60 576.63 189.68 578.20 189.90 C579.77 190.12 581.65 190.50 582.90 190.90 C584.15 191.30 584.77 191.62 585.70 192.30 C586.63 192.98 587.52 194.28 588.50 195.00 C589.48 195.72 590.57 196.60 591.60 196.60 C592.63 196.60 593.72 195.72 594.70 195.00 C595.68 194.28 596.58 192.98 597.50 192.30 C598.42 191.62 598.92 191.30 600.20 190.90 C601.48 190.50 603.62 190.12 605.20 189.90 C606.78 189.68 608.20 189.60 609.70 189.60" stroke="#222" stroke-width="1.0"/>
<path d="M573.50 189.60 C576.63 189.60 579.88 190.45 582.90 190.90 C585.92 191.35 588.72 192.30 591.60 192.30 C594.48 192.30 597.18 191.35 600.20 190.90 C603.22 190.45 606.53 189.60 609.70 189.60" stroke="#222" stroke-width="1.0"/>
<path d="M635.20 42.40 C635.30 42.40 634.55 43.65 635.50 44.00 C636.45 44.35 639.37 44.53 640.90 44.50 C642.43 44.47 643.43 44.13 644.70 43.80 C645.97 43.47 647.25 43.05 648.50 42.50 C649.75 41.95 650.92 41.27 652.20 40.50 C653.48 39.73 654.90 38.90 656.20 37.90 C657.50 36.90 658.73 35.65 660.00 34.50 C661.27 33.35 662.52 32.17 663.80 31.00 C665.08 29.83 666.42 28.57 667.70 27.50 C668.98 26.43 670.10 25.42 671.50 24.60 C672.90 23.78 674.77 23.02 676.10 22.60 C677.43 22.18 678.37 22.10 679.50 22.10" stroke="#222" stroke-width="1.0"/>
<path d="M635.20 87.80 C635.22 87.80 634.42 95.40 635.25 97.00 C636.08 98.60 638.62 97.30 640.20 97.40 C641.78 97.50 643.37 97.60 644.70 97.60 C646.03 97.60 646.98 97.50 648.20 97.40 C649.42 97.30 650.67 97.40 652.00 97.00 C653.33 96.60 654.80 95.82 656.20 95.00 C657.60 94.18 658.98 93.18 660.40 92.10 C661.82 91.02 663.28 89.60 664.70 88.50 C666.12 87.40 667.57 86.38 668.90 85.50 C670.23 84.62 671.48 83.80 672.70 83.20 C673.92 82.60 675.07 82.22 676.20 81.90 C677.33 81.58 678.40 81.30 679.50 81.30" stroke="#222" stroke-width="1.0"/>
<path d="M635.20 103.40 C635.22 103.40 634.25 100.07 635.25 99.30 C636.25 98.53 639.03 98.93 641.20 98.80 C643.38 98.67 646.13 98.33 648.30 98.50 C650.47 98.67 652.18 99.28 654.20 99.80 C656.22 100.32 658.65 100.98 660.40 101.60 C662.15 102.22 663.28 102.88 664.70 103.50 C666.12 104.12 667.57 104.67 668.90 105.30 C670.23 105.93 671.48 106.70 672.70 107.30 C673.92 107.90 675.07 108.53 676.20 108.90 C677.33 109.27 678.40 109.50 679.50 109.50" stroke="#222" stroke-width="1.0"/>
<path d="M635.20 140.90 C636.20 140.90 637.03 140.95 638.20 140.80 C639.37 140.65 641.05 140.32 642.20 140.00 C643.35 139.68 644.10 139.48 645.10 138.90 C646.10 138.32 647.07 137.53 648.20 136.50 C649.33 135.47 650.73 134.12 651.90 132.70 C653.07 131.28 654.05 129.60 655.20 128.00 C656.35 126.40 657.63 124.60 658.80 123.10 C659.97 121.60 661.07 120.27 662.20 119.00 C663.33 117.73 664.43 116.50 665.60 115.50 C666.77 114.50 668.05 113.68 669.20 113.00 C670.35 112.32 671.50 111.82 672.50 111.40 C673.50 110.98 674.28 110.73 675.20 110.50 C676.12 110.27 677.28 110.12 678.00 110.00 C678.72 109.88 679.00 109.80 679.50 109.80" stroke="#222" stroke-width="1.0"/>
<path d="M635.20 145.50 C637.53 145.50 640.02 146.05 642.20 146.20 C644.38 146.35 646.07 146.28 648.30 146.40 C650.53 146.52 653.58 146.80 655.60 146.90 C657.62 147.00 658.25 147.00 660.40 147.00 C662.55 147.00 665.32 147.02 668.50 146.90 C671.68 146.78 675.83 146.30 679.50 146.30" stroke="#222" stroke-width="1.0"/>
<path d="M635.20 145.60 C636.20 145.60 637.00 145.70 638.20 146.00 C639.40 146.30 641.07 146.82 642.40 147.40 C643.73 147.98 644.83 148.70 646.20 149.50 C647.57 150.30 649.18 151.20 650.60 152.20 C652.02 153.20 653.32 154.35 654.70 155.50 C656.08 156.65 657.65 157.93 658.90 159.10 C660.15 160.27 661.07 161.37 662.20 162.50 C663.33 163.63 664.37 164.95 665.70 165.90 C667.03 166.85 668.78 167.47 670.20 168.20 C671.62 168.93 672.65 169.70 674.20 170.30 C675.75 170.90 677.73 171.80 679.50 171.80" stroke="#222" stroke-width="1.0"/>
<path d="M635.20 152.80 C635.22 152.80 634.75 161.75 635.25 163.20 C635.75 164.65 637.24 162.07 638.20 161.50 C639.16 160.93 640.17 160.55 641.00 159.80 C641.83 159.05 642.50 158.03 643.20 157.00 C643.90 155.97 644.42 154.85 645.20 153.60 C645.98 152.35 646.77 150.87 647.90 149.50 C649.03 148.13 650.78 146.40 652.00 145.40 C653.22 144.40 654.07 144.15 655.20 143.50 C656.33 142.85 657.63 142.42 658.80 141.50 C659.97 140.58 661.07 139.23 662.20 138.00 C663.33 136.77 664.43 135.52 665.60 134.10 C666.77 132.68 668.05 130.88 669.20 129.50 C670.35 128.12 671.50 126.83 672.50 125.80 C673.50 124.77 674.28 123.95 675.20 123.30 C676.12 122.65 677.28 122.18 678.00 121.90 C678.72 121.62 679.00 121.60 679.50 121.60" stroke="#222" stroke-width="1.0"/>
<path d="M635.20 170.70 C636.53 170.70 638.00 170.43 639.20 170.20 C640.40 169.97 641.40 169.67 642.40 169.30 C643.40 168.93 644.28 168.57 645.20 168.00 C646.12 167.43 647.07 166.82 647.90 165.90 C648.73 164.98 649.52 163.63 650.20 162.50 C650.88 161.37 651.25 160.82 652.00 159.10 C652.75 157.38 653.90 154.27 654.70 152.20 C655.50 150.13 656.12 148.27 656.80 146.70 C657.48 145.13 657.90 144.17 658.80 142.80 C659.70 141.43 661.07 139.88 662.20 138.50 C663.33 137.12 664.43 135.93 665.60 134.50 C666.77 133.07 668.05 131.28 669.20 129.90 C670.35 128.52 671.50 127.25 672.50 126.20 C673.50 125.15 674.28 124.28 675.20 123.60 C676.12 122.92 677.28 122.40 678.00 122.10 C678.72 121.80 679.00 121.80 679.50 121.80" stroke="#222" stroke-width="1.0"/>
<path d="M635.20 173.80 C636.20 173.80 637.00 173.95 638.20 174.00 C639.40 174.05 641.07 174.22 642.40 174.10 C643.73 173.98 644.83 173.75 646.20 173.30 C647.57 172.85 649.27 172.15 650.60 171.40 C651.93 170.65 653.05 169.60 654.20 168.80 C655.35 168.00 656.50 167.20 657.50 166.60 C658.50 166.00 659.28 165.53 660.20 165.20 C661.12 164.87 662.00 164.67 663.00 164.60 C664.00 164.53 665.00 164.48 666.20 164.80 C667.40 165.12 668.87 165.72 670.20 166.50 C671.53 167.28 672.65 168.58 674.20 169.50 C675.75 170.42 677.73 172.00 679.50 172.00" stroke="#222" stroke-width="1.0"/>
<path d="M635.20 216.45 C636.03 213.63 636.83 210.51 637.70 208.00 C638.57 205.49 639.38 203.82 640.40 201.40 C641.42 198.98 642.83 195.40 643.80 193.50 C644.77 191.60 645.37 190.88 646.20 190.00 C647.03 189.12 647.52 188.55 648.80 188.20 C650.08 187.85 651.92 187.95 653.90 187.90 C655.88 187.85 658.43 188.33 660.70 187.90 C662.97 187.47 665.42 185.95 667.50 185.30 C669.58 184.65 671.20 184.37 673.20 184.00 C675.20 183.63 677.40 183.10 679.50 183.10" stroke="#222" stroke-width="1.0"/>
<path d="M635.20 216.45 C636.53 214.97 637.77 213.38 639.20 212.00 C640.63 210.62 642.47 209.70 643.80 208.20 C645.13 206.70 646.08 204.70 647.20 203.00 C648.32 201.30 649.42 199.42 650.50 198.00 C651.58 196.58 652.57 195.62 653.70 194.50 C654.83 193.38 656.13 192.22 657.30 191.30 C658.47 190.38 659.57 189.57 660.70 189.00 C661.83 188.43 662.68 188.40 664.10 187.90 C665.52 187.40 667.52 186.57 669.20 186.00 C670.88 185.43 672.48 184.95 674.20 184.50 C675.92 184.05 677.73 183.30 679.50 183.30" stroke="#222" stroke-width="1.0"/>
</g>
<line x1="395.60" y1="216.45" x2="679.50" y2="216.45" stroke="#000" stroke-width="1.2" stroke-dasharray="2.8 2.7" stroke-dashoffset="-2.4"/>
<rect x="601.0" y="47.1" width="80" height="31" fill="#fff"/>
<line x1="606.0" y1="56.1" x2="635.8" y2="56.1" stroke="#ff2020" stroke-width="1" stroke-dasharray="3.7 1.9"/>
<line x1="606.0" y1="71.4" x2="635.8" y2="71.4" stroke="#222" stroke-width="1"/>
<text x="639.0" y="60.5" font-size="12.6" fill="#000">Model</text>
<text x="639.0" y="76.0" font-size="12.6" fill="#000">DFT</text>
<rect x="395.60" y="1.40" width="283.90" height="228.00" fill="none" stroke="#000" stroke-width="1.25"/>
<line x1="390.80" y1="216.45" x2="395.60" y2="216.45" stroke="#000" stroke-width="1.2"/>
<text x="388.00" y="220.35" font-size="13" text-anchor="end" fill="#000">0</text>
<line x1="390.80" y1="165.89" x2="395.60" y2="165.89" stroke="#000" stroke-width="1.2"/>
<text x="388.00" y="169.79" font-size="13" text-anchor="end" fill="#000">200</text>
<line x1="390.80" y1="115.33" x2="395.60" y2="115.33" stroke="#000" stroke-width="1.2"/>
<text x="388.00" y="119.23" font-size="13" text-anchor="end" fill="#000">400</text>
<line x1="390.80" y1="64.77" x2="395.60" y2="64.77" stroke="#000" stroke-width="1.2"/>
<text x="388.00" y="68.67" font-size="13" text-anchor="end" fill="#000">600</text>
<line x1="390.80" y1="14.21" x2="395.60" y2="14.21" stroke="#000" stroke-width="1.2"/>
<text x="388.00" y="18.11" font-size="13" text-anchor="end" fill="#000">800</text>
<line x1="392.80" y1="191.17" x2="395.60" y2="191.17" stroke="#000" stroke-width="1.2"/>
<line x1="392.80" y1="140.61" x2="395.60" y2="140.61" stroke="#000" stroke-width="1.2"/>
<line x1="392.80" y1="90.05" x2="395.60" y2="90.05" stroke="#000" stroke-width="1.2"/>
<line x1="392.80" y1="39.49" x2="395.60" y2="39.49" stroke="#000" stroke-width="1.2"/>
<line x1="395.60" y1="229.40" x2="395.60" y2="233.70" stroke="#000" stroke-width="1.2"/>
<text x="395.60" y="247.0" font-size="12.6" text-anchor="middle" fill="#000">Γ</text>
<line x1="408.28" y1="229.40" x2="408.28" y2="231.90" stroke="#000" stroke-width="1.2"/>
<line x1="420.95" y1="229.40" x2="420.95" y2="233.70" stroke="#000" stroke-width="1.2"/>
<text x="420.95" y="247.0" font-size="12.6" text-anchor="middle" fill="#000">X</text>
<line x1="433.78" y1="229.40" x2="433.78" y2="231.90" stroke="#000" stroke-width="1.2"/>
<line x1="446.60" y1="229.40" x2="446.60" y2="233.70" stroke="#000" stroke-width="1.2"/>
<text x="446.60" y="247.0" font-size="12.6" text-anchor="middle" fill="#000">M</text>
<line x1="459.20" y1="229.40" x2="459.20" y2="231.90" stroke="#000" stroke-width="1.2"/>
<line x1="471.80" y1="229.40" x2="471.80" y2="233.70" stroke="#000" stroke-width="1.2"/>
<text x="471.80" y="247.0" font-size="12.6" text-anchor="middle" fill="#000">A</text>
<line x1="484.65" y1="229.40" x2="484.65" y2="231.90" stroke="#000" stroke-width="1.2"/>
<line x1="497.50" y1="229.40" x2="497.50" y2="233.70" stroke="#000" stroke-width="1.2"/>
<text x="497.50" y="247.0" font-size="12.6" text-anchor="middle" fill="#000">R</text>
<line x1="510.05" y1="229.40" x2="510.05" y2="231.90" stroke="#000" stroke-width="1.2"/>
<line x1="522.60" y1="229.40" x2="522.60" y2="233.70" stroke="#000" stroke-width="1.2"/>
<text x="522.60" y="247.0" font-size="12.6" text-anchor="middle" fill="#000">Z</text>
<line x1="535.55" y1="229.40" x2="535.55" y2="231.90" stroke="#000" stroke-width="1.2"/>
<line x1="548.50" y1="229.40" x2="548.50" y2="233.70" stroke="#000" stroke-width="1.2"/>
<text x="548.50" y="247.0" font-size="12.6" text-anchor="middle" fill="#000">Γ</text>
<line x1="561.00" y1="229.40" x2="561.00" y2="231.90" stroke="#000" stroke-width="1.2"/>
<line x1="573.50" y1="229.40" x2="573.50" y2="233.70" stroke="#000" stroke-width="1.2"/>
<text x="573.50" y="247.0" font-size="12.6" text-anchor="middle" fill="#000">X</text>
<line x1="591.60" y1="229.40" x2="591.60" y2="231.90" stroke="#000" stroke-width="1.2"/>
<line x1="609.70" y1="229.40" x2="609.70" y2="233.70" stroke="#000" stroke-width="1.2"/>
<text x="609.70" y="247.0" font-size="12.6" text-anchor="middle" fill="#000">X</text>
<line x1="622.45" y1="229.40" x2="622.45" y2="231.90" stroke="#000" stroke-width="1.2"/>
<line x1="635.20" y1="229.40" x2="635.20" y2="233.70" stroke="#000" stroke-width="1.2"/>
<text x="635.20" y="247.0" font-size="12.6" text-anchor="middle" fill="#000">Γ</text>
<line x1="657.35" y1="229.40" x2="657.35" y2="231.90" stroke="#000" stroke-width="1.2"/>
<line x1="679.50" y1="229.40" x2="679.50" y2="233.70" stroke="#000" stroke-width="1.2"/>
<text x="679.50" y="247.0" font-size="12.6" text-anchor="middle" fill="#000">A</text>
<text x="400.20" y="15.9" fill="#000"><tspan font-size="14">(</tspan><tspan font-size="12.9" dx="-0.4">b</tspan><tspan font-size="14" dx="1.5">)</tspan></text>
<text transform="translate(357.30 163.1) rotate(-90)" font-size="12.75" fill="#000">Frequency (cm<tspan font-size="8.5" dy="-5">-1</tspan><tspan dy="5">)</tspan></text>
</svg></body></html>
